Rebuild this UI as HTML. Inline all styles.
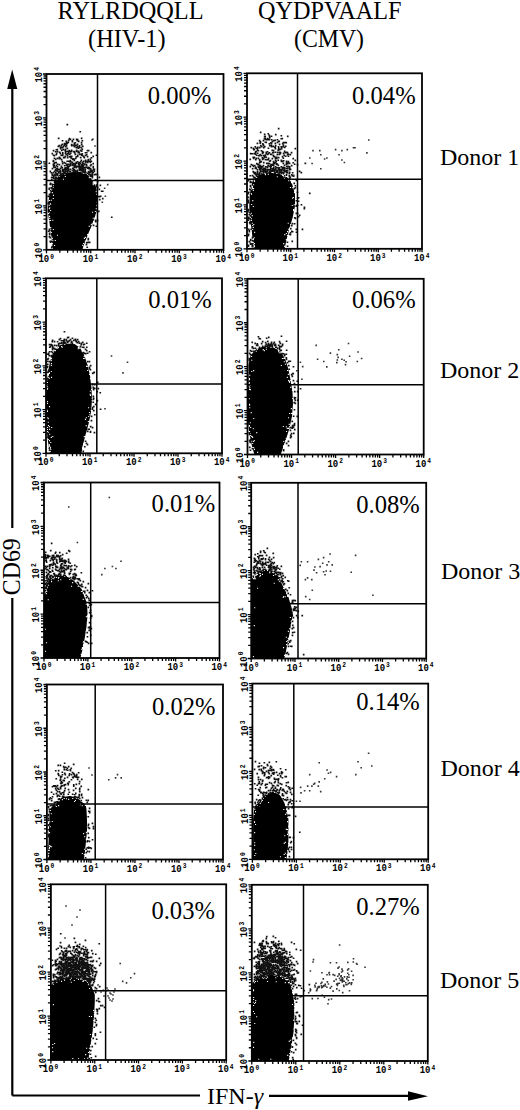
<!DOCTYPE html>
<html><head><meta charset="utf-8"><title>Flow cytometry</title><style>
html,body{margin:0;padding:0;background:#fff;}
svg{display:block}
.big{font-family:"Liberation Serif",serif;font-size:24px;fill:#000}
.hd{font-family:"Liberation Serif",serif;font-size:25px;fill:#000}
.pc{font-family:"Liberation Serif",serif;font-size:24.6px;fill:#000}
.tl{font-family:"Liberation Mono",monospace;font-weight:bold;font-size:11.5px;fill:#000}
.sup{font-size:8px}
</style></head>
<body><svg width="520" height="1110" viewBox="0 0 520 1110"><rect width="520" height="1110" fill="#fff"/><clipPath id="c1L"><rect x="46.5" y="74.0" width="177.00" height="175.80"/></clipPath><g clip-path="url(#c1L)"><path fill="#000" d="M54.1 181.4L51.8 187.1L51.7 187.3L48.8 198.8L48.8 199.1L47.7 210.7L47.7 211.0L49.4 222.5L51.0 234.0L52.5 245.6L52.5 245.7L53.5 251.3L53.7 251.8L54.0 252.2L54.5 252.4L55.0 252.5L80.5 252.5L81.1 252.4L81.6 252.0L81.9 251.4L83.5 245.9L87.9 234.4L92.9 222.9L92.9 222.8L96.7 211.3L96.8 211.0L98.0 199.4L98.0 199.0L96.3 187.5L96.1 187.0L91.8 179.3L91.6 178.9L87.1 174.4L86.5 174.1L80.5 172.1L80.0 172.0L73.0 172.0L72.8 172.0L65.8 173.0L65.4 173.1L59.4 175.6L58.9 176.0L54.4 181.0Z"/><path fill="#fff" d="M82.8 172.9h1.1v1.1h-1.1zM64.2 173.8h1.1v1.1h-1.1zM59.0 175.8h1.1v1.1h-1.1zM64.8 175.9h1.1v1.1h-1.1zM89.0 176.0h1.1v1.1h-1.1zM88.8 177.1h1.1v1.1h-1.1zM56.2 178.9h1.1v1.1h-1.1zM62.9 178.8h1.1v1.1h-1.1zM91.7 178.8h1.1v1.1h-1.1zM54.8 179.8h1.1v1.1h-1.1zM92.8 181.2h1.1v1.1h-1.1zM92.7 182.2h1.1v1.1h-1.1zM53.1 182.9h1.1v1.1h-1.1zM92.7 183.2h1.1v1.1h-1.1zM94.0 183.0h1.1v1.1h-1.1zM92.7 184.1h1.1v1.1h-1.1zM52.9 185.0h1.1v1.1h-1.1zM52.7 186.7h1.1v1.1h-1.1zM96.2 187.0h1.1v1.1h-1.1zM51.2 188.7h1.1v1.1h-1.1zM50.7 190.0h1.1v1.1h-1.1zM95.7 191.1h1.1v1.1h-1.1zM96.9 191.0h1.1v1.1h-1.1zM51.8 192.1h1.1v1.1h-1.1zM96.7 193.2h1.1v1.1h-1.1zM96.2 193.9h1.1v1.1h-1.1zM97.1 193.7h1.1v1.1h-1.1zM52.9 194.8h1.1v1.1h-1.1zM52.8 197.9h1.1v1.1h-1.1zM97.8 198.1h1.1v1.1h-1.1zM98.0 199.2h1.1v1.1h-1.1zM49.0 200.0h1.1v1.1h-1.1zM50.8 199.7h1.1v1.1h-1.1zM96.7 201.8h1.1v1.1h-1.1zM49.9 203.2h1.1v1.1h-1.1zM50.1 203.7h1.1v1.1h-1.1zM97.8 204.0h1.1v1.1h-1.1zM48.8 204.7h1.1v1.1h-1.1zM96.2 204.7h1.1v1.1h-1.1zM96.7 206.2h1.1v1.1h-1.1zM49.2 207.2h1.1v1.1h-1.1zM48.8 208.1h1.1v1.1h-1.1zM95.8 208.1h1.1v1.1h-1.1zM97.0 209.2h1.1v1.1h-1.1zM50.1 210.0h1.1v1.1h-1.1zM97.1 209.9h1.1v1.1h-1.1zM94.8 210.9h1.1v1.1h-1.1zM48.7 212.2h1.1v1.1h-1.1zM92.0 211.7h1.1v1.1h-1.1zM47.9 213.0h1.1v1.1h-1.1zM95.8 213.9h1.1v1.1h-1.1zM49.0 215.8h1.1v1.1h-1.1zM49.2 217.8h1.1v1.1h-1.1zM92.7 217.7h1.1v1.1h-1.1zM94.2 217.7h1.1v1.1h-1.1zM48.7 220.1h1.1v1.1h-1.1zM50.0 219.9h1.1v1.1h-1.1zM52.2 219.7h1.1v1.1h-1.1zM93.1 220.9h1.1v1.1h-1.1zM93.2 221.7h1.1v1.1h-1.1zM91.7 222.7h1.1v1.1h-1.1zM90.8 224.1h1.1v1.1h-1.1zM88.7 225.8h1.1v1.1h-1.1zM50.1 226.9h1.1v1.1h-1.1zM91.1 227.1h1.1v1.1h-1.1zM50.1 228.8h1.1v1.1h-1.1zM52.8 229.0h1.1v1.1h-1.1zM90.2 229.1h1.1v1.1h-1.1zM50.0 231.2h1.1v1.1h-1.1zM50.8 232.0h1.1v1.1h-1.1zM87.0 234.1h1.1v1.1h-1.1zM56.9 234.7h1.1v1.1h-1.1zM51.2 236.7h1.1v1.1h-1.1zM84.8 236.8h1.1v1.1h-1.1zM51.8 238.1h1.1v1.1h-1.1zM83.8 237.8h1.1v1.1h-1.1zM87.2 237.9h1.1v1.1h-1.1zM86.1 239.1h1.1v1.1h-1.1zM52.2 240.1h1.1v1.1h-1.1zM54.8 239.9h1.1v1.1h-1.1zM85.9 239.9h1.1v1.1h-1.1zM84.7 240.7h1.1v1.1h-1.1zM51.8 242.9h1.1v1.1h-1.1zM83.1 242.9h1.1v1.1h-1.1zM84.9 244.0h1.1v1.1h-1.1zM54.0 244.9h1.1v1.1h-1.1zM82.2 244.8h1.1v1.1h-1.1zM83.8 246.2h1.1v1.1h-1.1z"/><path fill="#111" d="M66.5 123.7h1.7v1.7h-1.7zM79.4 130.9h1.7v1.7h-1.7zM57.8 137.5h1.7v1.7h-1.7zM68.6 137.8h1.7v1.7h-1.7zM80.8 137.5h1.7v1.7h-1.7zM69.6 138.5h1.7v1.7h-1.7zM72.6 138.5h1.7v1.7h-1.7zM75.8 138.6h1.7v1.7h-1.7zM76.8 138.8h1.7v1.7h-1.7zM91.9 138.4h1.7v1.7h-1.7zM61.7 139.9h1.7v1.7h-1.7zM67.8 139.6h1.7v1.7h-1.7zM71.5 139.9h1.7v1.7h-1.7zM76.5 139.9h1.7v1.7h-1.7zM81.5 139.9h1.7v1.7h-1.7zM65.4 140.4h1.7v1.7h-1.7zM71.5 140.7h1.7v1.7h-1.7zM77.9 140.6h1.7v1.7h-1.7zM65.7 141.5h1.7v1.7h-1.7zM67.5 141.6h1.7v1.7h-1.7zM74.5 141.9h1.7v1.7h-1.7zM80.7 141.7h1.7v1.7h-1.7zM63.7 142.8h1.7v1.7h-1.7zM65.5 142.8h1.7v1.7h-1.7zM66.4 142.6h1.7v1.7h-1.7zM73.5 142.6h1.7v1.7h-1.7zM61.5 143.4h1.7v1.7h-1.7zM63.9 143.4h1.7v1.7h-1.7zM64.9 143.5h1.7v1.7h-1.7zM70.8 143.8h1.7v1.7h-1.7zM73.8 143.8h1.7v1.7h-1.7zM76.7 143.4h1.7v1.7h-1.7zM80.8 143.8h1.7v1.7h-1.7zM58.5 144.7h1.7v1.7h-1.7zM60.6 144.5h1.7v1.7h-1.7zM63.5 144.5h1.7v1.7h-1.7zM65.7 144.8h1.7v1.7h-1.7zM70.8 144.7h1.7v1.7h-1.7zM72.6 144.6h1.7v1.7h-1.7zM74.5 144.7h1.7v1.7h-1.7zM75.9 144.4h1.7v1.7h-1.7zM78.7 144.9h1.7v1.7h-1.7zM57.5 145.6h1.7v1.7h-1.7zM62.6 145.6h1.7v1.7h-1.7zM64.9 145.7h1.7v1.7h-1.7zM73.6 145.9h1.7v1.7h-1.7zM76.7 145.8h1.7v1.7h-1.7zM78.6 145.6h1.7v1.7h-1.7zM81.9 145.5h1.7v1.7h-1.7zM59.6 146.5h1.7v1.7h-1.7zM60.5 146.6h1.7v1.7h-1.7zM61.9 146.7h1.7v1.7h-1.7zM75.5 146.8h1.7v1.7h-1.7zM76.5 146.7h1.7v1.7h-1.7zM78.6 146.4h1.7v1.7h-1.7zM80.5 146.7h1.7v1.7h-1.7zM59.8 147.7h1.7v1.7h-1.7zM66.5 147.6h1.7v1.7h-1.7zM77.8 147.4h1.7v1.7h-1.7zM55.5 148.9h1.7v1.7h-1.7zM56.5 148.8h1.7v1.7h-1.7zM62.6 148.8h1.7v1.7h-1.7zM64.7 148.4h1.7v1.7h-1.7zM81.5 148.5h1.7v1.7h-1.7zM52.7 149.8h1.7v1.7h-1.7zM60.9 149.5h1.7v1.7h-1.7zM64.4 149.7h1.7v1.7h-1.7zM68.4 149.7h1.7v1.7h-1.7zM70.8 149.6h1.7v1.7h-1.7zM75.8 149.5h1.7v1.7h-1.7zM79.7 149.6h1.7v1.7h-1.7zM86.6 149.8h1.7v1.7h-1.7zM87.8 149.7h1.7v1.7h-1.7zM54.8 150.9h1.7v1.7h-1.7zM56.7 150.7h1.7v1.7h-1.7zM64.8 150.8h1.7v1.7h-1.7zM66.5 150.6h1.7v1.7h-1.7zM67.9 150.7h1.7v1.7h-1.7zM69.4 150.6h1.7v1.7h-1.7zM70.5 150.5h1.7v1.7h-1.7zM72.7 150.7h1.7v1.7h-1.7zM73.5 150.8h1.7v1.7h-1.7zM75.6 150.5h1.7v1.7h-1.7zM77.4 150.5h1.7v1.7h-1.7zM80.8 150.4h1.7v1.7h-1.7zM58.8 151.4h1.7v1.7h-1.7zM61.9 151.9h1.7v1.7h-1.7zM67.7 151.7h1.7v1.7h-1.7zM73.8 151.7h1.7v1.7h-1.7zM77.4 151.8h1.7v1.7h-1.7zM78.4 151.6h1.7v1.7h-1.7zM84.6 151.9h1.7v1.7h-1.7zM85.9 151.9h1.7v1.7h-1.7zM90.4 151.8h1.7v1.7h-1.7zM51.5 152.8h1.7v1.7h-1.7zM55.8 152.7h1.7v1.7h-1.7zM59.5 152.6h1.7v1.7h-1.7zM61.9 152.9h1.7v1.7h-1.7zM64.6 152.6h1.7v1.7h-1.7zM66.9 152.9h1.7v1.7h-1.7zM67.6 152.9h1.7v1.7h-1.7zM69.8 152.6h1.7v1.7h-1.7zM81.4 152.9h1.7v1.7h-1.7zM55.4 153.9h1.7v1.7h-1.7zM65.5 153.6h1.7v1.7h-1.7zM68.8 153.4h1.7v1.7h-1.7zM74.5 153.5h1.7v1.7h-1.7zM78.8 153.5h1.7v1.7h-1.7zM79.9 153.4h1.7v1.7h-1.7zM85.8 153.9h1.7v1.7h-1.7zM52.7 154.4h1.7v1.7h-1.7zM53.5 154.7h1.7v1.7h-1.7zM60.4 154.5h1.7v1.7h-1.7zM61.9 154.5h1.7v1.7h-1.7zM66.7 154.7h1.7v1.7h-1.7zM76.8 154.4h1.7v1.7h-1.7zM80.8 154.4h1.7v1.7h-1.7zM81.8 154.7h1.7v1.7h-1.7zM84.7 154.5h1.7v1.7h-1.7zM95.6 154.4h1.7v1.7h-1.7zM64.4 155.5h1.7v1.7h-1.7zM68.7 155.9h1.7v1.7h-1.7zM69.5 155.5h1.7v1.7h-1.7zM70.9 155.6h1.7v1.7h-1.7zM75.5 155.9h1.7v1.7h-1.7zM76.9 155.6h1.7v1.7h-1.7zM82.9 155.7h1.7v1.7h-1.7zM86.7 155.8h1.7v1.7h-1.7zM92.4 155.5h1.7v1.7h-1.7zM58.5 156.4h1.7v1.7h-1.7zM62.8 156.7h1.7v1.7h-1.7zM63.9 156.8h1.7v1.7h-1.7zM66.7 156.7h1.7v1.7h-1.7zM69.8 156.5h1.7v1.7h-1.7zM79.8 156.8h1.7v1.7h-1.7zM83.5 156.8h1.7v1.7h-1.7zM90.6 156.9h1.7v1.7h-1.7zM53.6 157.4h1.7v1.7h-1.7zM56.6 157.5h1.7v1.7h-1.7zM58.5 157.9h1.7v1.7h-1.7zM59.5 157.6h1.7v1.7h-1.7zM70.6 157.4h1.7v1.7h-1.7zM72.4 157.9h1.7v1.7h-1.7zM74.9 157.5h1.7v1.7h-1.7zM54.8 158.6h1.7v1.7h-1.7zM60.7 158.8h1.7v1.7h-1.7zM71.8 158.5h1.7v1.7h-1.7zM72.7 158.5h1.7v1.7h-1.7zM73.4 158.4h1.7v1.7h-1.7zM87.4 158.8h1.7v1.7h-1.7zM89.5 158.6h1.7v1.7h-1.7zM52.6 159.8h1.7v1.7h-1.7zM69.5 159.7h1.7v1.7h-1.7zM73.5 159.6h1.7v1.7h-1.7zM80.5 159.5h1.7v1.7h-1.7zM84.8 159.6h1.7v1.7h-1.7zM52.4 160.5h1.7v1.7h-1.7zM61.5 160.8h1.7v1.7h-1.7zM66.4 160.4h1.7v1.7h-1.7zM67.7 160.4h1.7v1.7h-1.7zM68.8 160.9h1.7v1.7h-1.7zM69.9 160.9h1.7v1.7h-1.7zM76.9 160.9h1.7v1.7h-1.7zM79.7 160.9h1.7v1.7h-1.7zM82.9 160.4h1.7v1.7h-1.7zM84.9 160.7h1.7v1.7h-1.7zM86.7 160.6h1.7v1.7h-1.7zM87.8 160.5h1.7v1.7h-1.7zM89.4 160.4h1.7v1.7h-1.7zM90.5 160.4h1.7v1.7h-1.7zM53.9 161.8h1.7v1.7h-1.7zM55.4 161.8h1.7v1.7h-1.7zM63.5 161.8h1.7v1.7h-1.7zM71.5 161.5h1.7v1.7h-1.7zM75.4 161.4h1.7v1.7h-1.7zM78.4 161.9h1.7v1.7h-1.7zM81.7 161.4h1.7v1.7h-1.7zM84.9 161.5h1.7v1.7h-1.7zM86.9 161.6h1.7v1.7h-1.7zM89.6 161.5h1.7v1.7h-1.7zM48.5 162.4h1.7v1.7h-1.7zM53.4 162.5h1.7v1.7h-1.7zM61.8 162.7h1.7v1.7h-1.7zM64.7 162.6h1.7v1.7h-1.7zM69.7 162.7h1.7v1.7h-1.7zM72.6 162.7h1.7v1.7h-1.7zM73.9 162.8h1.7v1.7h-1.7zM74.5 162.7h1.7v1.7h-1.7zM75.6 162.4h1.7v1.7h-1.7zM77.6 162.7h1.7v1.7h-1.7zM79.4 162.7h1.7v1.7h-1.7zM81.8 162.4h1.7v1.7h-1.7zM82.8 162.4h1.7v1.7h-1.7zM92.4 162.7h1.7v1.7h-1.7zM52.5 163.6h1.7v1.7h-1.7zM56.7 163.5h1.7v1.7h-1.7zM58.6 163.8h1.7v1.7h-1.7zM66.4 163.5h1.7v1.7h-1.7zM67.8 163.5h1.7v1.7h-1.7zM71.5 163.6h1.7v1.7h-1.7zM72.6 163.8h1.7v1.7h-1.7zM74.6 163.5h1.7v1.7h-1.7zM77.9 163.9h1.7v1.7h-1.7zM80.8 163.7h1.7v1.7h-1.7zM81.7 163.7h1.7v1.7h-1.7zM83.7 163.6h1.7v1.7h-1.7zM85.5 163.7h1.7v1.7h-1.7zM90.4 163.9h1.7v1.7h-1.7zM52.7 164.7h1.7v1.7h-1.7zM53.4 164.6h1.7v1.7h-1.7zM55.6 164.8h1.7v1.7h-1.7zM63.8 164.9h1.7v1.7h-1.7zM65.7 164.4h1.7v1.7h-1.7zM66.6 164.4h1.7v1.7h-1.7zM69.5 164.5h1.7v1.7h-1.7zM71.5 164.5h1.7v1.7h-1.7zM73.7 164.8h1.7v1.7h-1.7zM74.7 164.8h1.7v1.7h-1.7zM78.5 164.6h1.7v1.7h-1.7zM80.9 164.6h1.7v1.7h-1.7zM82.8 164.4h1.7v1.7h-1.7zM85.8 164.6h1.7v1.7h-1.7zM89.7 164.7h1.7v1.7h-1.7zM52.9 165.8h1.7v1.7h-1.7zM56.7 165.9h1.7v1.7h-1.7zM60.6 165.6h1.7v1.7h-1.7zM66.7 165.5h1.7v1.7h-1.7zM67.4 165.7h1.7v1.7h-1.7zM68.7 165.4h1.7v1.7h-1.7zM73.4 165.5h1.7v1.7h-1.7zM74.4 165.7h1.7v1.7h-1.7zM75.7 165.8h1.7v1.7h-1.7zM76.6 165.6h1.7v1.7h-1.7zM77.4 165.9h1.7v1.7h-1.7zM78.7 165.6h1.7v1.7h-1.7zM79.7 165.5h1.7v1.7h-1.7zM80.8 165.5h1.7v1.7h-1.7zM81.9 165.9h1.7v1.7h-1.7zM82.4 165.5h1.7v1.7h-1.7zM92.4 165.8h1.7v1.7h-1.7zM53.4 166.5h1.7v1.7h-1.7zM54.4 166.6h1.7v1.7h-1.7zM61.4 166.9h1.7v1.7h-1.7zM64.7 166.9h1.7v1.7h-1.7zM65.8 166.8h1.7v1.7h-1.7zM66.8 166.5h1.7v1.7h-1.7zM67.6 166.8h1.7v1.7h-1.7zM73.4 166.4h1.7v1.7h-1.7zM75.4 166.8h1.7v1.7h-1.7zM78.4 166.6h1.7v1.7h-1.7zM79.5 166.9h1.7v1.7h-1.7zM80.8 166.9h1.7v1.7h-1.7zM81.6 166.9h1.7v1.7h-1.7zM82.4 166.5h1.7v1.7h-1.7zM83.8 166.8h1.7v1.7h-1.7zM84.6 166.4h1.7v1.7h-1.7zM85.9 166.5h1.7v1.7h-1.7zM87.7 166.4h1.7v1.7h-1.7zM88.4 166.9h1.7v1.7h-1.7zM92.4 166.7h1.7v1.7h-1.7zM51.6 167.7h1.7v1.7h-1.7zM55.9 167.7h1.7v1.7h-1.7zM56.7 167.9h1.7v1.7h-1.7zM59.6 167.4h1.7v1.7h-1.7zM63.9 167.4h1.7v1.7h-1.7zM64.9 167.6h1.7v1.7h-1.7zM65.9 167.7h1.7v1.7h-1.7zM67.6 167.8h1.7v1.7h-1.7zM71.9 167.4h1.7v1.7h-1.7zM72.7 167.6h1.7v1.7h-1.7zM78.4 167.8h1.7v1.7h-1.7zM79.8 167.7h1.7v1.7h-1.7zM81.7 167.5h1.7v1.7h-1.7zM82.5 167.6h1.7v1.7h-1.7zM86.9 167.4h1.7v1.7h-1.7zM87.8 167.9h1.7v1.7h-1.7zM88.5 167.4h1.7v1.7h-1.7zM89.8 167.7h1.7v1.7h-1.7zM54.8 168.8h1.7v1.7h-1.7zM56.9 168.8h1.7v1.7h-1.7zM57.7 168.7h1.7v1.7h-1.7zM58.6 168.9h1.7v1.7h-1.7zM61.7 168.7h1.7v1.7h-1.7zM62.6 168.7h1.7v1.7h-1.7zM63.9 168.9h1.7v1.7h-1.7zM64.7 168.7h1.7v1.7h-1.7zM66.4 168.6h1.7v1.7h-1.7zM67.7 168.7h1.7v1.7h-1.7zM69.6 168.5h1.7v1.7h-1.7zM72.8 168.5h1.7v1.7h-1.7zM73.4 168.9h1.7v1.7h-1.7zM78.7 168.9h1.7v1.7h-1.7zM79.8 168.7h1.7v1.7h-1.7zM80.8 168.4h1.7v1.7h-1.7zM82.6 168.7h1.7v1.7h-1.7zM84.5 168.4h1.7v1.7h-1.7zM92.8 168.7h1.7v1.7h-1.7zM93.6 168.5h1.7v1.7h-1.7zM54.7 169.4h1.7v1.7h-1.7zM55.8 169.8h1.7v1.7h-1.7zM59.5 169.4h1.7v1.7h-1.7zM61.8 169.9h1.7v1.7h-1.7zM62.4 169.8h1.7v1.7h-1.7zM64.6 169.9h1.7v1.7h-1.7zM66.9 169.5h1.7v1.7h-1.7zM67.8 169.7h1.7v1.7h-1.7zM71.6 169.4h1.7v1.7h-1.7zM73.5 169.7h1.7v1.7h-1.7zM74.6 169.7h1.7v1.7h-1.7zM76.6 169.6h1.7v1.7h-1.7zM78.8 169.4h1.7v1.7h-1.7zM79.5 169.8h1.7v1.7h-1.7zM80.9 169.9h1.7v1.7h-1.7zM81.9 169.9h1.7v1.7h-1.7zM82.4 169.4h1.7v1.7h-1.7zM84.4 169.4h1.7v1.7h-1.7zM89.5 169.6h1.7v1.7h-1.7zM90.4 169.6h1.7v1.7h-1.7zM91.4 169.8h1.7v1.7h-1.7zM49.5 170.6h1.7v1.7h-1.7zM53.8 170.5h1.7v1.7h-1.7zM56.7 170.4h1.7v1.7h-1.7zM58.5 170.9h1.7v1.7h-1.7zM59.7 170.9h1.7v1.7h-1.7zM61.8 170.4h1.7v1.7h-1.7zM62.7 170.5h1.7v1.7h-1.7zM64.9 170.6h1.7v1.7h-1.7zM65.8 170.6h1.7v1.7h-1.7zM66.7 170.7h1.7v1.7h-1.7zM68.8 170.7h1.7v1.7h-1.7zM69.6 170.7h1.7v1.7h-1.7zM72.5 170.7h1.7v1.7h-1.7zM73.9 170.9h1.7v1.7h-1.7zM75.6 170.8h1.7v1.7h-1.7zM76.7 170.4h1.7v1.7h-1.7zM81.6 170.8h1.7v1.7h-1.7zM82.7 170.8h1.7v1.7h-1.7zM84.5 170.7h1.7v1.7h-1.7zM87.7 170.8h1.7v1.7h-1.7zM89.8 170.4h1.7v1.7h-1.7zM90.6 170.8h1.7v1.7h-1.7zM93.5 170.4h1.7v1.7h-1.7zM50.4 171.9h1.7v1.7h-1.7zM52.5 171.8h1.7v1.7h-1.7zM54.7 171.8h1.7v1.7h-1.7zM57.9 171.9h1.7v1.7h-1.7zM62.8 171.5h1.7v1.7h-1.7zM63.6 171.4h1.7v1.7h-1.7zM64.4 171.5h1.7v1.7h-1.7zM66.7 171.6h1.7v1.7h-1.7zM82.5 171.6h1.7v1.7h-1.7zM83.5 171.4h1.7v1.7h-1.7zM84.9 171.7h1.7v1.7h-1.7zM87.9 171.8h1.7v1.7h-1.7zM88.8 171.6h1.7v1.7h-1.7zM89.6 171.4h1.7v1.7h-1.7zM91.8 171.7h1.7v1.7h-1.7zM92.6 171.5h1.7v1.7h-1.7zM55.4 172.5h1.7v1.7h-1.7zM56.9 172.8h1.7v1.7h-1.7zM59.7 172.5h1.7v1.7h-1.7zM61.6 172.8h1.7v1.7h-1.7zM62.9 172.6h1.7v1.7h-1.7zM63.6 172.8h1.7v1.7h-1.7zM86.8 172.4h1.7v1.7h-1.7zM91.4 172.9h1.7v1.7h-1.7zM51.4 173.6h1.7v1.7h-1.7zM53.9 173.8h1.7v1.7h-1.7zM55.9 173.8h1.7v1.7h-1.7zM59.7 173.8h1.7v1.7h-1.7zM60.6 173.6h1.7v1.7h-1.7zM87.9 173.9h1.7v1.7h-1.7zM88.7 173.4h1.7v1.7h-1.7zM89.5 173.7h1.7v1.7h-1.7zM91.6 173.7h1.7v1.7h-1.7zM93.7 173.9h1.7v1.7h-1.7zM94.8 173.6h1.7v1.7h-1.7zM96.6 173.8h1.7v1.7h-1.7zM51.4 174.5h1.7v1.7h-1.7zM52.5 174.4h1.7v1.7h-1.7zM54.4 174.5h1.7v1.7h-1.7zM56.4 174.5h1.7v1.7h-1.7zM58.4 174.7h1.7v1.7h-1.7zM59.9 174.9h1.7v1.7h-1.7zM90.6 174.5h1.7v1.7h-1.7zM52.9 175.8h1.7v1.7h-1.7zM89.5 175.4h1.7v1.7h-1.7zM90.5 175.4h1.7v1.7h-1.7zM91.6 175.5h1.7v1.7h-1.7zM50.8 176.8h1.7v1.7h-1.7zM51.8 176.8h1.7v1.7h-1.7zM54.9 176.4h1.7v1.7h-1.7zM55.4 176.7h1.7v1.7h-1.7zM91.5 176.9h1.7v1.7h-1.7zM98.5 176.6h1.7v1.7h-1.7zM52.9 177.5h1.7v1.7h-1.7zM54.7 177.5h1.7v1.7h-1.7zM55.7 177.6h1.7v1.7h-1.7zM50.9 178.9h1.7v1.7h-1.7zM54.9 178.6h1.7v1.7h-1.7zM94.6 178.9h1.7v1.7h-1.7zM53.7 179.6h1.7v1.7h-1.7zM95.9 179.4h1.7v1.7h-1.7zM96.8 180.9h1.7v1.7h-1.7zM49.7 182.6h1.7v1.7h-1.7zM49.4 183.6h1.7v1.7h-1.7zM51.4 183.4h1.7v1.7h-1.7zM96.4 183.8h1.7v1.7h-1.7zM51.7 184.9h1.7v1.7h-1.7zM95.5 184.5h1.7v1.7h-1.7zM99.5 184.6h1.7v1.7h-1.7zM95.8 185.9h1.7v1.7h-1.7zM50.4 186.9h1.7v1.7h-1.7zM96.8 186.5h1.7v1.7h-1.7zM48.5 187.6h1.7v1.7h-1.7zM50.9 187.5h1.7v1.7h-1.7zM48.4 188.4h1.7v1.7h-1.7zM98.5 188.5h1.7v1.7h-1.7zM49.8 189.9h1.7v1.7h-1.7zM100.8 190.4h1.7v1.7h-1.7zM101.9 190.4h1.7v1.7h-1.7zM48.7 193.6h1.7v1.7h-1.7zM47.4 195.5h1.7v1.7h-1.7zM48.7 195.5h1.7v1.7h-1.7zM97.6 195.8h1.7v1.7h-1.7zM98.9 195.7h1.7v1.7h-1.7zM99.9 195.4h1.7v1.7h-1.7zM101.9 197.7h1.7v1.7h-1.7zM98.9 198.7h1.7v1.7h-1.7zM47.7 201.7h1.7v1.7h-1.7zM47.4 202.7h1.7v1.7h-1.7zM97.9 210.6h1.7v1.7h-1.7zM110.9 216.4h1.7v1.7h-1.7zM94.7 219.5h1.7v1.7h-1.7zM96.7 219.5h1.7v1.7h-1.7zM94.9 220.7h1.7v1.7h-1.7zM92.7 224.5h1.7v1.7h-1.7zM95.5 225.4h1.7v1.7h-1.7zM48.6 228.4h1.7v1.7h-1.7zM48.7 229.7h1.7v1.7h-1.7zM47.8 230.4h1.7v1.7h-1.7zM48.7 232.5h1.7v1.7h-1.7zM48.9 233.5h1.7v1.7h-1.7zM48.6 235.7h1.7v1.7h-1.7zM49.4 236.8h1.7v1.7h-1.7zM87.5 237.8h1.7v1.7h-1.7zM87.4 238.7h1.7v1.7h-1.7zM49.4 240.5h1.7v1.7h-1.7zM50.9 240.5h1.7v1.7h-1.7zM49.9 241.4h1.7v1.7h-1.7zM85.9 241.8h1.7v1.7h-1.7zM87.5 241.5h1.7v1.7h-1.7zM88.8 241.5h1.7v1.7h-1.7zM85.6 243.8h1.7v1.7h-1.7zM51.4 245.7h1.7v1.7h-1.7zM50.9 246.7h1.7v1.7h-1.7zM86.4 246.4h1.7v1.7h-1.7z"/><path fill="#333" d="M106.9 183.8h1.6v1.6h-1.6zM103.8 187.4h1.6v1.6h-1.6zM104.6 195.4h1.6v1.6h-1.6zM101.5 201.5h1.6v1.6h-1.6zM91.2 139.2h1.6v1.6h-1.6zM94.2 145.2h1.6v1.6h-1.6z"/></g><clipPath id="c1R"><rect x="247.0" y="73.3" width="175.00" height="175.50"/></clipPath><g clip-path="url(#c1R)"><path fill="#000" d="M252.2 182.4L249.8 193.9L249.8 194.1L249.3 205.7L249.3 205.9L249.8 217.4L249.8 217.5L251.6 229.0L252.7 240.5L252.7 240.6L253.9 249.2L254.1 249.7L254.4 250.1L254.9 250.4L255.4 250.5L283.0 250.5L283.7 250.3L284.2 249.9L284.5 249.3L286.3 240.7L289.1 229.2L292.6 217.7L292.7 217.6L295.0 206.1L295.0 205.8L295.0 194.2L294.9 193.8L292.0 183.6L291.9 183.2L289.3 179.2L289.0 178.9L285.0 175.4L284.6 175.1L278.6 172.6L278.1 172.5L270.1 172.0L269.8 172.0L262.8 173.0L262.3 173.2L256.3 176.2L255.7 176.7L252.4 181.9Z"/><path fill="#fff" d="M271.1 171.7h1.1v1.1h-1.1zM271.9 171.9h1.1v1.1h-1.1zM273.0 172.1h1.1v1.1h-1.1zM261.7 172.7h1.1v1.1h-1.1zM263.8 172.7h1.1v1.1h-1.1zM265.0 172.7h1.1v1.1h-1.1zM275.9 172.9h1.1v1.1h-1.1zM277.1 173.0h1.1v1.1h-1.1zM279.8 173.2h1.1v1.1h-1.1zM260.2 173.7h1.1v1.1h-1.1zM264.9 174.1h1.1v1.1h-1.1zM267.8 173.7h1.1v1.1h-1.1zM280.8 173.7h1.1v1.1h-1.1zM281.8 173.8h1.1v1.1h-1.1zM282.1 175.0h1.1v1.1h-1.1zM282.8 174.9h1.1v1.1h-1.1zM276.8 176.2h1.1v1.1h-1.1zM283.2 176.2h1.1v1.1h-1.1zM284.8 176.2h1.1v1.1h-1.1zM286.0 176.0h1.1v1.1h-1.1zM256.1 177.0h1.1v1.1h-1.1zM283.9 178.1h1.1v1.1h-1.1zM254.0 178.9h1.1v1.1h-1.1zM261.0 178.9h1.1v1.1h-1.1zM253.7 179.9h1.1v1.1h-1.1zM288.2 180.2h1.1v1.1h-1.1zM254.0 180.8h1.1v1.1h-1.1zM291.0 182.1h1.1v1.1h-1.1zM292.0 182.9h1.1v1.1h-1.1zM253.1 184.2h1.1v1.1h-1.1zM251.2 185.2h1.1v1.1h-1.1zM251.1 186.1h1.1v1.1h-1.1zM251.9 186.0h1.1v1.1h-1.1zM251.8 187.1h1.1v1.1h-1.1zM289.9 186.9h1.1v1.1h-1.1zM291.9 187.2h1.1v1.1h-1.1zM293.2 186.9h1.1v1.1h-1.1zM251.8 188.0h1.1v1.1h-1.1zM253.0 188.1h1.1v1.1h-1.1zM251.1 188.7h1.1v1.1h-1.1zM252.8 189.9h1.1v1.1h-1.1zM293.9 191.8h1.1v1.1h-1.1zM250.7 192.9h1.1v1.1h-1.1zM251.0 193.7h1.1v1.1h-1.1zM292.8 197.0h1.1v1.1h-1.1zM292.0 197.7h1.1v1.1h-1.1zM295.1 198.7h1.1v1.1h-1.1zM252.2 200.1h1.1v1.1h-1.1zM248.7 200.9h1.1v1.1h-1.1zM295.2 203.1h1.1v1.1h-1.1zM251.1 203.9h1.1v1.1h-1.1zM293.7 204.2h1.1v1.1h-1.1zM295.1 203.7h1.1v1.1h-1.1zM291.7 204.9h1.1v1.1h-1.1zM252.8 205.9h1.1v1.1h-1.1zM293.0 209.1h1.1v1.1h-1.1zM293.0 210.1h1.1v1.1h-1.1zM248.7 210.9h1.1v1.1h-1.1zM294.0 211.1h1.1v1.1h-1.1zM294.1 211.7h1.1v1.1h-1.1zM250.8 212.7h1.1v1.1h-1.1zM249.7 213.9h1.1v1.1h-1.1zM294.0 213.9h1.1v1.1h-1.1zM251.7 215.1h1.1v1.1h-1.1zM293.2 215.9h1.1v1.1h-1.1zM249.8 216.8h1.1v1.1h-1.1zM250.9 218.2h1.1v1.1h-1.1zM250.0 220.2h1.1v1.1h-1.1zM251.0 219.9h1.1v1.1h-1.1zM251.8 222.7h1.1v1.1h-1.1zM287.7 222.7h1.1v1.1h-1.1zM253.2 223.9h1.1v1.1h-1.1zM290.2 224.0h1.1v1.1h-1.1zM252.2 224.9h1.1v1.1h-1.1zM252.7 226.8h1.1v1.1h-1.1zM289.8 227.2h1.1v1.1h-1.1zM289.0 227.8h1.1v1.1h-1.1zM252.1 228.9h1.1v1.1h-1.1zM287.9 228.7h1.1v1.1h-1.1zM287.0 231.1h1.1v1.1h-1.1zM254.1 231.8h1.1v1.1h-1.1zM285.8 232.9h1.1v1.1h-1.1zM284.2 234.1h1.1v1.1h-1.1zM286.9 235.0h1.1v1.1h-1.1zM253.7 237.2h1.1v1.1h-1.1zM252.8 237.9h1.1v1.1h-1.1zM287.0 237.7h1.1v1.1h-1.1zM252.8 239.1h1.1v1.1h-1.1zM285.8 239.1h1.1v1.1h-1.1zM252.7 241.8h1.1v1.1h-1.1zM253.9 243.1h1.1v1.1h-1.1zM283.2 243.1h1.1v1.1h-1.1zM252.8 243.8h1.1v1.1h-1.1zM253.7 245.1h1.1v1.1h-1.1zM253.9 246.1h1.1v1.1h-1.1zM284.1 245.8h1.1v1.1h-1.1z"/><path fill="#111" d="M277.8 127.7h1.7v1.7h-1.7zM259.8 131.5h1.7v1.7h-1.7zM267.4 132.9h1.7v1.7h-1.7zM263.8 133.4h1.7v1.7h-1.7zM274.9 133.8h1.7v1.7h-1.7zM268.4 134.4h1.7v1.7h-1.7zM280.5 134.9h1.7v1.7h-1.7zM263.8 135.6h1.7v1.7h-1.7zM264.4 135.6h1.7v1.7h-1.7zM268.7 135.4h1.7v1.7h-1.7zM270.7 135.4h1.7v1.7h-1.7zM286.9 135.5h1.7v1.7h-1.7zM268.9 136.8h1.7v1.7h-1.7zM263.6 137.8h1.7v1.7h-1.7zM264.4 137.5h1.7v1.7h-1.7zM266.9 137.7h1.7v1.7h-1.7zM280.4 137.9h1.7v1.7h-1.7zM281.4 137.7h1.7v1.7h-1.7zM264.6 138.6h1.7v1.7h-1.7zM265.8 138.7h1.7v1.7h-1.7zM267.4 138.8h1.7v1.7h-1.7zM268.5 138.8h1.7v1.7h-1.7zM270.8 138.9h1.7v1.7h-1.7zM276.6 138.9h1.7v1.7h-1.7zM258.8 139.8h1.7v1.7h-1.7zM262.6 139.8h1.7v1.7h-1.7zM272.8 139.7h1.7v1.7h-1.7zM274.4 139.5h1.7v1.7h-1.7zM259.5 140.9h1.7v1.7h-1.7zM271.5 140.7h1.7v1.7h-1.7zM277.9 140.4h1.7v1.7h-1.7zM278.4 140.6h1.7v1.7h-1.7zM259.7 141.4h1.7v1.7h-1.7zM264.5 141.4h1.7v1.7h-1.7zM265.4 141.6h1.7v1.7h-1.7zM269.9 141.9h1.7v1.7h-1.7zM276.7 141.5h1.7v1.7h-1.7zM282.5 141.8h1.7v1.7h-1.7zM283.7 141.7h1.7v1.7h-1.7zM285.4 141.8h1.7v1.7h-1.7zM256.6 142.6h1.7v1.7h-1.7zM259.4 142.4h1.7v1.7h-1.7zM261.9 142.9h1.7v1.7h-1.7zM268.5 142.9h1.7v1.7h-1.7zM270.7 142.8h1.7v1.7h-1.7zM274.5 142.5h1.7v1.7h-1.7zM281.9 142.9h1.7v1.7h-1.7zM262.4 143.7h1.7v1.7h-1.7zM278.7 143.6h1.7v1.7h-1.7zM259.9 144.7h1.7v1.7h-1.7zM262.7 144.6h1.7v1.7h-1.7zM268.9 144.8h1.7v1.7h-1.7zM270.5 144.7h1.7v1.7h-1.7zM274.8 144.8h1.7v1.7h-1.7zM282.6 144.4h1.7v1.7h-1.7zM254.4 145.9h1.7v1.7h-1.7zM260.8 145.8h1.7v1.7h-1.7zM263.9 145.8h1.7v1.7h-1.7zM270.7 145.8h1.7v1.7h-1.7zM272.4 145.6h1.7v1.7h-1.7zM277.7 145.9h1.7v1.7h-1.7zM280.4 145.9h1.7v1.7h-1.7zM282.4 145.7h1.7v1.7h-1.7zM284.9 145.4h1.7v1.7h-1.7zM250.4 146.8h1.7v1.7h-1.7zM256.9 146.5h1.7v1.7h-1.7zM258.9 146.7h1.7v1.7h-1.7zM262.9 146.8h1.7v1.7h-1.7zM273.9 146.4h1.7v1.7h-1.7zM274.4 146.5h1.7v1.7h-1.7zM280.7 146.6h1.7v1.7h-1.7zM283.9 146.6h1.7v1.7h-1.7zM252.5 147.5h1.7v1.7h-1.7zM255.4 147.4h1.7v1.7h-1.7zM256.7 147.9h1.7v1.7h-1.7zM267.6 147.4h1.7v1.7h-1.7zM274.6 147.8h1.7v1.7h-1.7zM277.9 147.5h1.7v1.7h-1.7zM280.8 147.8h1.7v1.7h-1.7zM294.5 147.7h1.7v1.7h-1.7zM252.9 148.8h1.7v1.7h-1.7zM253.4 148.6h1.7v1.7h-1.7zM277.6 148.8h1.7v1.7h-1.7zM278.4 148.8h1.7v1.7h-1.7zM279.6 148.6h1.7v1.7h-1.7zM256.6 149.5h1.7v1.7h-1.7zM257.6 149.9h1.7v1.7h-1.7zM260.6 149.9h1.7v1.7h-1.7zM271.4 149.6h1.7v1.7h-1.7zM272.7 149.7h1.7v1.7h-1.7zM277.4 149.4h1.7v1.7h-1.7zM254.8 150.8h1.7v1.7h-1.7zM255.4 150.9h1.7v1.7h-1.7zM261.6 150.8h1.7v1.7h-1.7zM266.7 150.9h1.7v1.7h-1.7zM283.8 150.5h1.7v1.7h-1.7zM262.5 151.6h1.7v1.7h-1.7zM265.4 151.4h1.7v1.7h-1.7zM268.6 151.9h1.7v1.7h-1.7zM271.9 151.9h1.7v1.7h-1.7zM272.6 151.8h1.7v1.7h-1.7zM274.6 151.4h1.7v1.7h-1.7zM276.8 151.5h1.7v1.7h-1.7zM278.7 151.5h1.7v1.7h-1.7zM279.7 151.8h1.7v1.7h-1.7zM284.5 151.9h1.7v1.7h-1.7zM285.8 151.5h1.7v1.7h-1.7zM286.7 151.7h1.7v1.7h-1.7zM290.7 151.7h1.7v1.7h-1.7zM249.8 152.7h1.7v1.7h-1.7zM250.6 152.9h1.7v1.7h-1.7zM251.6 152.9h1.7v1.7h-1.7zM253.6 152.7h1.7v1.7h-1.7zM254.4 152.5h1.7v1.7h-1.7zM256.8 152.4h1.7v1.7h-1.7zM261.7 152.5h1.7v1.7h-1.7zM265.4 152.9h1.7v1.7h-1.7zM267.7 152.8h1.7v1.7h-1.7zM279.5 152.9h1.7v1.7h-1.7zM282.7 152.6h1.7v1.7h-1.7zM254.8 153.4h1.7v1.7h-1.7zM259.4 153.7h1.7v1.7h-1.7zM266.7 153.6h1.7v1.7h-1.7zM269.9 153.6h1.7v1.7h-1.7zM270.6 153.6h1.7v1.7h-1.7zM276.5 153.7h1.7v1.7h-1.7zM278.5 153.5h1.7v1.7h-1.7zM286.7 153.7h1.7v1.7h-1.7zM287.6 153.4h1.7v1.7h-1.7zM289.5 153.7h1.7v1.7h-1.7zM255.8 154.4h1.7v1.7h-1.7zM257.8 154.7h1.7v1.7h-1.7zM258.7 154.9h1.7v1.7h-1.7zM260.7 154.8h1.7v1.7h-1.7zM262.9 154.7h1.7v1.7h-1.7zM263.9 154.8h1.7v1.7h-1.7zM264.5 154.5h1.7v1.7h-1.7zM272.5 154.6h1.7v1.7h-1.7zM283.4 154.6h1.7v1.7h-1.7zM272.8 155.6h1.7v1.7h-1.7zM273.8 155.7h1.7v1.7h-1.7zM281.7 155.7h1.7v1.7h-1.7zM284.8 155.4h1.7v1.7h-1.7zM287.6 155.4h1.7v1.7h-1.7zM252.4 156.5h1.7v1.7h-1.7zM253.5 156.4h1.7v1.7h-1.7zM261.5 156.9h1.7v1.7h-1.7zM263.6 156.6h1.7v1.7h-1.7zM265.4 156.5h1.7v1.7h-1.7zM274.9 156.9h1.7v1.7h-1.7zM275.9 156.4h1.7v1.7h-1.7zM277.8 156.7h1.7v1.7h-1.7zM252.9 157.5h1.7v1.7h-1.7zM255.4 157.6h1.7v1.7h-1.7zM257.5 157.5h1.7v1.7h-1.7zM262.7 157.7h1.7v1.7h-1.7zM267.8 157.5h1.7v1.7h-1.7zM271.5 157.7h1.7v1.7h-1.7zM274.6 157.5h1.7v1.7h-1.7zM275.9 157.5h1.7v1.7h-1.7zM282.5 157.4h1.7v1.7h-1.7zM292.4 157.8h1.7v1.7h-1.7zM249.4 158.6h1.7v1.7h-1.7zM254.9 158.7h1.7v1.7h-1.7zM258.8 158.8h1.7v1.7h-1.7zM261.8 158.5h1.7v1.7h-1.7zM264.7 158.9h1.7v1.7h-1.7zM266.5 158.9h1.7v1.7h-1.7zM267.4 158.8h1.7v1.7h-1.7zM258.9 159.8h1.7v1.7h-1.7zM269.6 159.8h1.7v1.7h-1.7zM274.7 159.5h1.7v1.7h-1.7zM277.4 159.4h1.7v1.7h-1.7zM280.5 159.6h1.7v1.7h-1.7zM282.8 159.9h1.7v1.7h-1.7zM294.5 159.5h1.7v1.7h-1.7zM260.4 160.7h1.7v1.7h-1.7zM268.8 160.4h1.7v1.7h-1.7zM272.6 160.7h1.7v1.7h-1.7zM275.4 160.6h1.7v1.7h-1.7zM280.6 160.5h1.7v1.7h-1.7zM281.8 160.6h1.7v1.7h-1.7zM285.7 160.5h1.7v1.7h-1.7zM287.6 160.7h1.7v1.7h-1.7zM258.8 161.9h1.7v1.7h-1.7zM259.5 161.4h1.7v1.7h-1.7zM262.9 161.8h1.7v1.7h-1.7zM273.4 161.8h1.7v1.7h-1.7zM274.8 161.7h1.7v1.7h-1.7zM285.7 161.9h1.7v1.7h-1.7zM287.5 161.9h1.7v1.7h-1.7zM292.4 161.9h1.7v1.7h-1.7zM255.9 162.7h1.7v1.7h-1.7zM265.9 162.5h1.7v1.7h-1.7zM267.5 162.4h1.7v1.7h-1.7zM268.7 162.7h1.7v1.7h-1.7zM272.9 162.4h1.7v1.7h-1.7zM273.5 162.5h1.7v1.7h-1.7zM275.8 162.9h1.7v1.7h-1.7zM282.5 162.5h1.7v1.7h-1.7zM286.8 162.8h1.7v1.7h-1.7zM288.7 162.5h1.7v1.7h-1.7zM304.5 162.5h1.7v1.7h-1.7zM250.5 163.7h1.7v1.7h-1.7zM256.8 163.6h1.7v1.7h-1.7zM257.7 163.4h1.7v1.7h-1.7zM270.7 163.8h1.7v1.7h-1.7zM271.7 163.5h1.7v1.7h-1.7zM272.5 163.8h1.7v1.7h-1.7zM275.6 163.5h1.7v1.7h-1.7zM276.5 163.5h1.7v1.7h-1.7zM285.6 163.4h1.7v1.7h-1.7zM293.8 163.4h1.7v1.7h-1.7zM296.7 163.9h1.7v1.7h-1.7zM251.9 164.4h1.7v1.7h-1.7zM253.9 164.7h1.7v1.7h-1.7zM258.7 164.4h1.7v1.7h-1.7zM259.7 164.7h1.7v1.7h-1.7zM262.6 164.8h1.7v1.7h-1.7zM267.4 164.4h1.7v1.7h-1.7zM269.9 164.5h1.7v1.7h-1.7zM271.4 164.4h1.7v1.7h-1.7zM272.9 164.7h1.7v1.7h-1.7zM277.5 164.6h1.7v1.7h-1.7zM283.7 164.4h1.7v1.7h-1.7zM290.8 164.7h1.7v1.7h-1.7zM249.5 165.8h1.7v1.7h-1.7zM252.6 165.5h1.7v1.7h-1.7zM257.5 165.4h1.7v1.7h-1.7zM258.4 165.4h1.7v1.7h-1.7zM260.6 165.9h1.7v1.7h-1.7zM261.6 165.7h1.7v1.7h-1.7zM264.9 165.9h1.7v1.7h-1.7zM266.9 165.8h1.7v1.7h-1.7zM268.8 165.4h1.7v1.7h-1.7zM269.5 165.7h1.7v1.7h-1.7zM270.4 165.5h1.7v1.7h-1.7zM274.8 165.9h1.7v1.7h-1.7zM280.5 165.9h1.7v1.7h-1.7zM285.9 165.6h1.7v1.7h-1.7zM287.4 165.6h1.7v1.7h-1.7zM288.8 165.9h1.7v1.7h-1.7zM254.9 166.5h1.7v1.7h-1.7zM257.6 166.6h1.7v1.7h-1.7zM258.7 166.4h1.7v1.7h-1.7zM260.4 166.6h1.7v1.7h-1.7zM266.6 166.5h1.7v1.7h-1.7zM272.9 166.9h1.7v1.7h-1.7zM275.8 166.9h1.7v1.7h-1.7zM276.8 166.9h1.7v1.7h-1.7zM278.6 166.9h1.7v1.7h-1.7zM281.5 166.7h1.7v1.7h-1.7zM282.6 166.6h1.7v1.7h-1.7zM283.7 166.7h1.7v1.7h-1.7zM251.8 167.9h1.7v1.7h-1.7zM254.5 167.5h1.7v1.7h-1.7zM255.4 167.5h1.7v1.7h-1.7zM258.8 167.9h1.7v1.7h-1.7zM259.6 167.9h1.7v1.7h-1.7zM260.7 167.4h1.7v1.7h-1.7zM262.7 167.6h1.7v1.7h-1.7zM263.5 167.5h1.7v1.7h-1.7zM264.6 167.8h1.7v1.7h-1.7zM269.9 167.6h1.7v1.7h-1.7zM270.7 167.9h1.7v1.7h-1.7zM271.5 167.9h1.7v1.7h-1.7zM272.6 167.4h1.7v1.7h-1.7zM274.9 167.7h1.7v1.7h-1.7zM277.7 167.8h1.7v1.7h-1.7zM278.7 167.5h1.7v1.7h-1.7zM282.9 167.4h1.7v1.7h-1.7zM283.5 167.4h1.7v1.7h-1.7zM285.5 167.7h1.7v1.7h-1.7zM286.9 167.6h1.7v1.7h-1.7zM288.8 167.5h1.7v1.7h-1.7zM256.6 168.9h1.7v1.7h-1.7zM258.9 168.6h1.7v1.7h-1.7zM259.7 168.5h1.7v1.7h-1.7zM261.6 168.9h1.7v1.7h-1.7zM262.5 168.7h1.7v1.7h-1.7zM263.4 168.5h1.7v1.7h-1.7zM264.6 168.9h1.7v1.7h-1.7zM266.4 168.7h1.7v1.7h-1.7zM267.8 168.8h1.7v1.7h-1.7zM268.8 168.9h1.7v1.7h-1.7zM269.7 168.6h1.7v1.7h-1.7zM271.8 168.6h1.7v1.7h-1.7zM272.9 168.6h1.7v1.7h-1.7zM273.4 168.8h1.7v1.7h-1.7zM277.8 168.4h1.7v1.7h-1.7zM278.5 168.9h1.7v1.7h-1.7zM279.7 168.9h1.7v1.7h-1.7zM280.7 168.7h1.7v1.7h-1.7zM281.5 168.4h1.7v1.7h-1.7zM283.5 168.6h1.7v1.7h-1.7zM288.9 168.9h1.7v1.7h-1.7zM289.7 168.5h1.7v1.7h-1.7zM259.6 169.7h1.7v1.7h-1.7zM263.6 169.7h1.7v1.7h-1.7zM266.9 169.4h1.7v1.7h-1.7zM269.6 169.9h1.7v1.7h-1.7zM270.8 169.9h1.7v1.7h-1.7zM272.5 169.4h1.7v1.7h-1.7zM273.5 169.7h1.7v1.7h-1.7zM274.7 169.7h1.7v1.7h-1.7zM275.5 169.6h1.7v1.7h-1.7zM276.8 169.4h1.7v1.7h-1.7zM278.9 169.6h1.7v1.7h-1.7zM279.6 169.6h1.7v1.7h-1.7zM280.5 169.8h1.7v1.7h-1.7zM282.5 169.7h1.7v1.7h-1.7zM283.7 169.5h1.7v1.7h-1.7zM285.5 169.9h1.7v1.7h-1.7zM286.8 169.7h1.7v1.7h-1.7zM252.4 170.7h1.7v1.7h-1.7zM256.7 170.8h1.7v1.7h-1.7zM259.6 170.7h1.7v1.7h-1.7zM260.8 170.8h1.7v1.7h-1.7zM261.7 170.7h1.7v1.7h-1.7zM262.5 170.6h1.7v1.7h-1.7zM263.8 170.4h1.7v1.7h-1.7zM264.6 170.5h1.7v1.7h-1.7zM265.5 170.8h1.7v1.7h-1.7zM266.6 170.5h1.7v1.7h-1.7zM268.8 170.7h1.7v1.7h-1.7zM269.9 170.6h1.7v1.7h-1.7zM271.6 170.4h1.7v1.7h-1.7zM273.4 170.9h1.7v1.7h-1.7zM275.8 170.4h1.7v1.7h-1.7zM276.4 170.9h1.7v1.7h-1.7zM278.4 170.8h1.7v1.7h-1.7zM280.5 170.8h1.7v1.7h-1.7zM283.7 170.8h1.7v1.7h-1.7zM284.4 170.6h1.7v1.7h-1.7zM298.7 170.5h1.7v1.7h-1.7zM252.9 171.5h1.7v1.7h-1.7zM253.8 171.9h1.7v1.7h-1.7zM254.6 171.8h1.7v1.7h-1.7zM256.7 171.7h1.7v1.7h-1.7zM258.8 171.8h1.7v1.7h-1.7zM262.9 171.4h1.7v1.7h-1.7zM264.9 171.6h1.7v1.7h-1.7zM265.4 171.5h1.7v1.7h-1.7zM274.5 171.9h1.7v1.7h-1.7zM275.8 171.4h1.7v1.7h-1.7zM276.5 171.8h1.7v1.7h-1.7zM278.6 171.6h1.7v1.7h-1.7zM279.8 171.4h1.7v1.7h-1.7zM281.4 171.7h1.7v1.7h-1.7zM282.9 171.9h1.7v1.7h-1.7zM285.7 171.6h1.7v1.7h-1.7zM286.5 171.7h1.7v1.7h-1.7zM288.8 171.6h1.7v1.7h-1.7zM291.8 171.9h1.7v1.7h-1.7zM300.5 171.8h1.7v1.7h-1.7zM253.6 172.7h1.7v1.7h-1.7zM254.6 172.7h1.7v1.7h-1.7zM260.8 172.9h1.7v1.7h-1.7zM280.5 172.6h1.7v1.7h-1.7zM282.7 172.5h1.7v1.7h-1.7zM288.5 172.6h1.7v1.7h-1.7zM254.9 173.4h1.7v1.7h-1.7zM255.6 173.5h1.7v1.7h-1.7zM256.6 173.8h1.7v1.7h-1.7zM257.4 173.4h1.7v1.7h-1.7zM258.8 173.4h1.7v1.7h-1.7zM285.7 173.8h1.7v1.7h-1.7zM290.9 173.9h1.7v1.7h-1.7zM249.4 174.9h1.7v1.7h-1.7zM251.6 174.8h1.7v1.7h-1.7zM255.4 174.6h1.7v1.7h-1.7zM285.6 174.4h1.7v1.7h-1.7zM288.4 174.8h1.7v1.7h-1.7zM291.4 174.8h1.7v1.7h-1.7zM252.8 175.7h1.7v1.7h-1.7zM288.7 175.6h1.7v1.7h-1.7zM292.7 175.4h1.7v1.7h-1.7zM253.4 176.9h1.7v1.7h-1.7zM289.4 176.5h1.7v1.7h-1.7zM288.8 177.5h1.7v1.7h-1.7zM247.6 178.9h1.7v1.7h-1.7zM252.4 178.7h1.7v1.7h-1.7zM247.5 179.9h1.7v1.7h-1.7zM295.6 179.5h1.7v1.7h-1.7zM249.6 180.5h1.7v1.7h-1.7zM249.5 181.6h1.7v1.7h-1.7zM250.9 181.6h1.7v1.7h-1.7zM293.4 182.5h1.7v1.7h-1.7zM249.7 184.7h1.7v1.7h-1.7zM294.6 184.9h1.7v1.7h-1.7zM249.6 185.7h1.7v1.7h-1.7zM294.6 186.9h1.7v1.7h-1.7zM293.5 187.8h1.7v1.7h-1.7zM248.9 188.6h1.7v1.7h-1.7zM249.5 188.8h1.7v1.7h-1.7zM247.9 191.4h1.7v1.7h-1.7zM296.6 191.4h1.7v1.7h-1.7zM247.5 192.9h1.7v1.7h-1.7zM308.9 192.6h1.7v1.7h-1.7zM247.4 196.6h1.7v1.7h-1.7zM297.8 196.9h1.7v1.7h-1.7zM296.7 197.4h1.7v1.7h-1.7zM247.4 199.6h1.7v1.7h-1.7zM295.6 199.9h1.7v1.7h-1.7zM247.8 200.9h1.7v1.7h-1.7zM297.7 200.4h1.7v1.7h-1.7zM247.7 201.9h1.7v1.7h-1.7zM300.6 203.9h1.7v1.7h-1.7zM295.7 204.7h1.7v1.7h-1.7zM296.8 204.4h1.7v1.7h-1.7zM295.4 205.4h1.7v1.7h-1.7zM303.6 206.6h1.7v1.7h-1.7zM303.5 207.8h1.7v1.7h-1.7zM247.8 208.7h1.7v1.7h-1.7zM247.4 209.8h1.7v1.7h-1.7zM248.4 211.4h1.7v1.7h-1.7zM295.5 212.5h1.7v1.7h-1.7zM296.7 212.6h1.7v1.7h-1.7zM248.5 213.7h1.7v1.7h-1.7zM298.8 214.4h1.7v1.7h-1.7zM297.8 215.9h1.7v1.7h-1.7zM247.8 216.4h1.7v1.7h-1.7zM293.9 216.9h1.7v1.7h-1.7zM247.8 217.6h1.7v1.7h-1.7zM248.5 217.8h1.7v1.7h-1.7zM294.6 217.5h1.7v1.7h-1.7zM247.4 219.4h1.7v1.7h-1.7zM249.5 220.5h1.7v1.7h-1.7zM248.8 221.9h1.7v1.7h-1.7zM249.8 221.8h1.7v1.7h-1.7zM249.4 222.7h1.7v1.7h-1.7zM291.6 222.7h1.7v1.7h-1.7zM293.8 222.9h1.7v1.7h-1.7zM290.9 224.8h1.7v1.7h-1.7zM289.9 227.8h1.7v1.7h-1.7zM247.8 228.6h1.7v1.7h-1.7zM250.4 228.4h1.7v1.7h-1.7zM295.5 228.5h1.7v1.7h-1.7zM301.6 228.5h1.7v1.7h-1.7zM248.5 229.7h1.7v1.7h-1.7zM248.5 230.8h1.7v1.7h-1.7zM290.9 230.4h1.7v1.7h-1.7zM291.8 230.9h1.7v1.7h-1.7zM289.8 231.9h1.7v1.7h-1.7zM295.6 231.4h1.7v1.7h-1.7zM247.8 233.5h1.7v1.7h-1.7zM288.7 233.4h1.7v1.7h-1.7zM289.6 233.7h1.7v1.7h-1.7zM247.5 234.9h1.7v1.7h-1.7zM251.6 236.7h1.7v1.7h-1.7zM249.9 238.8h1.7v1.7h-1.7zM249.9 239.6h1.7v1.7h-1.7zM251.9 239.9h1.7v1.7h-1.7zM248.5 240.7h1.7v1.7h-1.7zM291.4 240.5h1.7v1.7h-1.7zM286.6 241.4h1.7v1.7h-1.7zM249.7 242.6h1.7v1.7h-1.7zM251.6 242.9h1.7v1.7h-1.7zM249.9 243.4h1.7v1.7h-1.7zM251.4 243.7h1.7v1.7h-1.7zM247.7 244.6h1.7v1.7h-1.7zM251.6 244.7h1.7v1.7h-1.7zM247.6 245.4h1.7v1.7h-1.7zM251.5 245.8h1.7v1.7h-1.7zM286.7 245.4h1.7v1.7h-1.7z"/><path fill="#333" d="M368.0 139.2h1.6v1.6h-1.6zM366.1 152.1h1.6v1.6h-1.6zM352.7 146.9h1.6v1.6h-1.6zM354.2 146.9h1.6v1.6h-1.6zM346.5 148.8h1.6v1.6h-1.6zM341.1 149.8h1.6v1.6h-1.6zM334.8 148.8h1.6v1.6h-1.6zM338.2 154.0h1.6v1.6h-1.6zM341.1 159.2h1.6v1.6h-1.6zM343.6 161.7h1.6v1.6h-1.6zM323.8 158.2h1.6v1.6h-1.6zM326.1 157.2h1.6v1.6h-1.6zM319.0 149.8h1.6v1.6h-1.6zM320.0 154.0h1.6v1.6h-1.6zM312.2 149.8h1.6v1.6h-1.6zM309.0 157.2h1.6v1.6h-1.6zM311.3 162.7h1.6v1.6h-1.6zM320.0 168.0h1.6v1.6h-1.6zM293.0 174.6h1.6v1.6h-1.6z"/></g><clipPath id="c2L"><rect x="46.0" y="278.3" width="176.00" height="175.00"/></clipPath><g clip-path="url(#c2L)"><path fill="#000" d="M50.0 361.7L48.5 369.7L48.5 369.8L47.0 381.8L47.0 381.9L46.0 398.9L46.0 399.0L46.0 416.0L46.0 416.1L47.0 433.1L47.0 433.2L48.5 445.2L48.5 445.3L50.5 454.3L50.8 454.9L51.3 455.4L52.0 455.5L80.0 455.5L80.5 455.4L81.0 455.1L81.3 454.7L81.5 454.2L82.5 446.3L88.4 424.4L88.5 424.3L91.0 412.3L91.0 412.1L92.0 400.1L92.0 399.9L91.5 387.9L91.5 387.8L90.0 375.8L90.0 375.7L87.5 364.7L87.4 364.5L84.4 355.5L84.3 355.3L80.3 348.3L79.9 347.8L74.9 344.3L74.2 344.0L67.2 343.0L66.5 343.1L59.5 345.6L58.9 346.0L53.4 352.0L53.1 352.5L50.1 361.5Z"/><path fill="#fff" d="M66.7 342.8h1.1v1.1h-1.1zM68.1 342.7h1.1v1.1h-1.1zM68.7 342.7h1.1v1.1h-1.1zM64.2 343.9h1.1v1.1h-1.1zM61.1 346.1h1.1v1.1h-1.1zM57.8 347.1h1.1v1.1h-1.1zM61.8 346.7h1.1v1.1h-1.1zM77.8 347.1h1.1v1.1h-1.1zM78.7 347.2h1.1v1.1h-1.1zM56.8 347.7h1.1v1.1h-1.1zM77.7 348.2h1.1v1.1h-1.1zM79.1 347.7h1.1v1.1h-1.1zM54.8 350.1h1.1v1.1h-1.1zM81.7 350.8h1.1v1.1h-1.1zM52.8 352.0h1.1v1.1h-1.1zM84.1 354.8h1.1v1.1h-1.1zM83.7 356.0h1.1v1.1h-1.1zM51.0 358.1h1.1v1.1h-1.1zM83.1 357.9h1.1v1.1h-1.1zM84.1 357.7h1.1v1.1h-1.1zM50.7 360.1h1.1v1.1h-1.1zM86.0 361.2h1.1v1.1h-1.1zM50.9 363.0h1.1v1.1h-1.1zM50.8 364.8h1.1v1.1h-1.1zM86.0 365.8h1.1v1.1h-1.1zM86.7 366.0h1.1v1.1h-1.1zM87.1 370.0h1.1v1.1h-1.1zM50.8 371.0h1.1v1.1h-1.1zM48.8 372.0h1.1v1.1h-1.1zM47.9 373.1h1.1v1.1h-1.1zM48.9 373.0h1.1v1.1h-1.1zM47.9 374.0h1.1v1.1h-1.1zM89.0 373.9h1.1v1.1h-1.1zM47.7 375.1h1.1v1.1h-1.1zM47.8 377.1h1.1v1.1h-1.1zM51.0 376.8h1.1v1.1h-1.1zM48.9 377.7h1.1v1.1h-1.1zM90.0 378.1h1.1v1.1h-1.1zM46.9 382.0h1.1v1.1h-1.1zM90.8 381.7h1.1v1.1h-1.1zM91.0 382.8h1.1v1.1h-1.1zM46.9 384.0h1.1v1.1h-1.1zM46.8 385.7h1.1v1.1h-1.1zM92.1 386.9h1.1v1.1h-1.1zM47.1 387.7h1.1v1.1h-1.1zM46.8 388.7h1.1v1.1h-1.1zM91.1 388.9h1.1v1.1h-1.1zM89.8 390.7h1.1v1.1h-1.1zM92.0 392.7h1.1v1.1h-1.1zM89.7 393.8h1.1v1.1h-1.1zM92.1 393.8h1.1v1.1h-1.1zM89.9 394.9h1.1v1.1h-1.1zM91.7 397.8h1.1v1.1h-1.1zM91.7 400.0h1.1v1.1h-1.1zM46.9 401.1h1.1v1.1h-1.1zM46.9 403.0h1.1v1.1h-1.1zM49.0 406.1h1.1v1.1h-1.1zM88.0 407.2h1.1v1.1h-1.1zM90.9 407.1h1.1v1.1h-1.1zM46.7 409.7h1.1v1.1h-1.1zM90.7 409.8h1.1v1.1h-1.1zM46.9 410.9h1.1v1.1h-1.1zM88.9 412.0h1.1v1.1h-1.1zM89.2 414.2h1.1v1.1h-1.1zM88.2 415.9h1.1v1.1h-1.1zM47.2 417.2h1.1v1.1h-1.1zM85.8 417.2h1.1v1.1h-1.1zM47.8 418.2h1.1v1.1h-1.1zM84.9 418.8h1.1v1.1h-1.1zM87.8 420.9h1.1v1.1h-1.1zM47.7 421.7h1.1v1.1h-1.1zM47.9 425.0h1.1v1.1h-1.1zM85.7 425.1h1.1v1.1h-1.1zM48.8 426.1h1.1v1.1h-1.1zM47.0 427.0h1.1v1.1h-1.1zM51.1 427.0h1.1v1.1h-1.1zM46.9 429.0h1.1v1.1h-1.1zM49.1 428.8h1.1v1.1h-1.1zM87.1 430.0h1.1v1.1h-1.1zM46.8 430.9h1.1v1.1h-1.1zM47.7 431.7h1.1v1.1h-1.1zM49.1 433.7h1.1v1.1h-1.1zM85.8 433.7h1.1v1.1h-1.1zM52.2 435.9h1.1v1.1h-1.1zM83.7 436.1h1.1v1.1h-1.1zM84.9 436.2h1.1v1.1h-1.1zM50.8 436.8h1.1v1.1h-1.1zM85.0 437.2h1.1v1.1h-1.1zM47.7 439.0h1.1v1.1h-1.1zM48.9 440.1h1.1v1.1h-1.1zM50.2 442.0h1.1v1.1h-1.1zM83.2 443.2h1.1v1.1h-1.1zM83.8 443.0h1.1v1.1h-1.1zM48.7 443.9h1.1v1.1h-1.1zM48.7 445.1h1.1v1.1h-1.1zM48.9 445.7h1.1v1.1h-1.1zM82.9 445.8h1.1v1.1h-1.1zM50.0 446.7h1.1v1.1h-1.1zM82.2 447.1h1.1v1.1h-1.1zM49.8 447.8h1.1v1.1h-1.1zM82.0 448.1h1.1v1.1h-1.1zM50.2 449.0h1.1v1.1h-1.1zM49.7 450.8h1.1v1.1h-1.1zM81.8 450.7h1.1v1.1h-1.1z"/><path fill="#111" d="M63.6 330.9h1.7v1.7h-1.7zM66.8 336.8h1.7v1.7h-1.7zM67.7 336.6h1.7v1.7h-1.7zM59.7 337.8h1.7v1.7h-1.7zM71.6 337.4h1.7v1.7h-1.7zM58.5 338.7h1.7v1.7h-1.7zM63.5 338.6h1.7v1.7h-1.7zM65.5 338.8h1.7v1.7h-1.7zM69.7 338.8h1.7v1.7h-1.7zM74.5 338.6h1.7v1.7h-1.7zM76.7 338.7h1.7v1.7h-1.7zM51.8 339.6h1.7v1.7h-1.7zM60.6 339.9h1.7v1.7h-1.7zM61.5 339.9h1.7v1.7h-1.7zM62.9 339.7h1.7v1.7h-1.7zM63.4 339.7h1.7v1.7h-1.7zM65.5 339.9h1.7v1.7h-1.7zM68.6 339.7h1.7v1.7h-1.7zM72.9 339.5h1.7v1.7h-1.7zM74.9 339.7h1.7v1.7h-1.7zM51.4 340.7h1.7v1.7h-1.7zM53.7 340.7h1.7v1.7h-1.7zM56.7 340.9h1.7v1.7h-1.7zM66.9 340.4h1.7v1.7h-1.7zM67.6 340.8h1.7v1.7h-1.7zM70.9 340.8h1.7v1.7h-1.7zM75.5 340.8h1.7v1.7h-1.7zM77.8 340.7h1.7v1.7h-1.7zM60.9 341.9h1.7v1.7h-1.7zM62.9 341.6h1.7v1.7h-1.7zM64.5 341.7h1.7v1.7h-1.7zM66.7 341.5h1.7v1.7h-1.7zM70.5 341.6h1.7v1.7h-1.7zM76.4 341.7h1.7v1.7h-1.7zM81.9 341.5h1.7v1.7h-1.7zM57.8 342.9h1.7v1.7h-1.7zM58.8 342.6h1.7v1.7h-1.7zM60.5 342.5h1.7v1.7h-1.7zM62.5 342.5h1.7v1.7h-1.7zM63.6 342.4h1.7v1.7h-1.7zM71.5 342.4h1.7v1.7h-1.7zM78.5 342.4h1.7v1.7h-1.7zM80.5 342.5h1.7v1.7h-1.7zM85.9 342.4h1.7v1.7h-1.7zM48.7 343.7h1.7v1.7h-1.7zM50.4 343.7h1.7v1.7h-1.7zM80.4 343.7h1.7v1.7h-1.7zM82.7 343.7h1.7v1.7h-1.7zM83.6 343.4h1.7v1.7h-1.7zM50.7 344.6h1.7v1.7h-1.7zM51.4 344.6h1.7v1.7h-1.7zM53.8 344.6h1.7v1.7h-1.7zM55.8 344.7h1.7v1.7h-1.7zM57.8 344.6h1.7v1.7h-1.7zM49.6 345.8h1.7v1.7h-1.7zM51.9 345.8h1.7v1.7h-1.7zM79.6 345.7h1.7v1.7h-1.7zM48.9 346.4h1.7v1.7h-1.7zM81.7 346.4h1.7v1.7h-1.7zM82.9 346.6h1.7v1.7h-1.7zM85.9 346.4h1.7v1.7h-1.7zM51.7 347.4h1.7v1.7h-1.7zM52.8 347.4h1.7v1.7h-1.7zM53.7 347.8h1.7v1.7h-1.7zM51.7 348.8h1.7v1.7h-1.7zM54.4 348.4h1.7v1.7h-1.7zM84.7 348.6h1.7v1.7h-1.7zM85.9 349.8h1.7v1.7h-1.7zM48.7 350.9h1.7v1.7h-1.7zM50.7 350.9h1.7v1.7h-1.7zM88.7 350.9h1.7v1.7h-1.7zM51.8 351.8h1.7v1.7h-1.7zM82.7 351.7h1.7v1.7h-1.7zM47.7 352.6h1.7v1.7h-1.7zM83.4 352.6h1.7v1.7h-1.7zM84.9 352.7h1.7v1.7h-1.7zM86.8 352.4h1.7v1.7h-1.7zM46.6 353.4h1.7v1.7h-1.7zM47.9 353.6h1.7v1.7h-1.7zM48.4 354.9h1.7v1.7h-1.7zM50.4 354.7h1.7v1.7h-1.7zM50.5 355.5h1.7v1.7h-1.7zM47.5 357.7h1.7v1.7h-1.7zM46.8 358.4h1.7v1.7h-1.7zM46.9 360.5h1.7v1.7h-1.7zM48.8 360.8h1.7v1.7h-1.7zM86.7 360.8h1.7v1.7h-1.7zM88.6 360.8h1.7v1.7h-1.7zM46.9 363.4h1.7v1.7h-1.7zM89.8 364.7h1.7v1.7h-1.7zM46.7 365.4h1.7v1.7h-1.7zM46.6 366.6h1.7v1.7h-1.7zM88.6 366.6h1.7v1.7h-1.7zM88.8 367.7h1.7v1.7h-1.7zM89.6 368.9h1.7v1.7h-1.7zM47.7 369.6h1.7v1.7h-1.7zM47.6 370.9h1.7v1.7h-1.7zM46.6 371.5h1.7v1.7h-1.7zM92.9 371.9h1.7v1.7h-1.7zM93.4 371.6h1.7v1.7h-1.7zM91.9 372.5h1.7v1.7h-1.7zM46.7 377.7h1.7v1.7h-1.7zM96.8 381.6h1.7v1.7h-1.7zM91.8 383.7h1.7v1.7h-1.7zM93.9 383.9h1.7v1.7h-1.7zM92.4 386.5h1.7v1.7h-1.7zM92.8 387.4h1.7v1.7h-1.7zM93.9 387.6h1.7v1.7h-1.7zM97.5 387.8h1.7v1.7h-1.7zM92.8 388.8h1.7v1.7h-1.7zM96.4 390.8h1.7v1.7h-1.7zM99.4 391.9h1.7v1.7h-1.7zM92.5 395.5h1.7v1.7h-1.7zM92.8 397.6h1.7v1.7h-1.7zM92.5 398.6h1.7v1.7h-1.7zM96.5 399.7h1.7v1.7h-1.7zM92.4 401.4h1.7v1.7h-1.7zM94.8 403.6h1.7v1.7h-1.7zM92.9 405.8h1.7v1.7h-1.7zM91.6 406.8h1.7v1.7h-1.7zM91.6 408.4h1.7v1.7h-1.7zM99.7 408.4h1.7v1.7h-1.7zM92.9 409.7h1.7v1.7h-1.7zM93.9 413.9h1.7v1.7h-1.7zM90.7 415.5h1.7v1.7h-1.7zM90.6 419.8h1.7v1.7h-1.7zM89.8 425.8h1.7v1.7h-1.7zM91.7 426.8h1.7v1.7h-1.7zM87.4 428.4h1.7v1.7h-1.7zM88.4 428.4h1.7v1.7h-1.7zM86.9 430.5h1.7v1.7h-1.7zM89.7 430.7h1.7v1.7h-1.7zM89.6 431.4h1.7v1.7h-1.7zM93.6 431.8h1.7v1.7h-1.7zM46.7 436.4h1.7v1.7h-1.7zM84.7 440.4h1.7v1.7h-1.7zM85.6 442.4h1.7v1.7h-1.7zM86.6 443.7h1.7v1.7h-1.7zM83.9 445.9h1.7v1.7h-1.7zM48.5 447.4h1.7v1.7h-1.7zM48.7 449.4h1.7v1.7h-1.7zM82.4 450.6h1.7v1.7h-1.7z"/><path fill="#333" d="M110.7 355.2h1.6v1.6h-1.6zM126.7 361.5h1.6v1.6h-1.6zM122.2 372.1h1.6v1.6h-1.6zM104.2 408.0h1.6v1.6h-1.6z"/></g><clipPath id="c2R"><rect x="247.5" y="278.8" width="176.20" height="175.70"/></clipPath><g clip-path="url(#c2R)"><path fill="#000" d="M248.5 365.0L248.5 374.0L247.7 398.0L247.7 398.0L247.5 410.0L247.5 410.1L248.0 422.1L248.0 422.2L249.5 434.2L249.5 434.3L252.0 446.3L252.1 446.4L254.6 455.4L254.9 456.0L255.4 456.4L256.0 456.5L279.0 456.5L279.6 456.4L280.1 456.0L280.4 455.5L282.4 449.5L285.9 439.5L285.9 439.5L289.4 428.5L289.5 428.3L292.0 416.3L292.0 416.1L293.0 404.1L293.0 403.9L292.5 391.9L292.5 391.8L290.5 379.8L290.5 379.7L288.0 367.7L287.9 367.5L284.9 358.5L284.8 358.2L280.3 351.2L279.7 350.7L272.7 347.2L272.1 347.0L264.1 346.5L263.5 346.6L256.5 349.1L255.9 349.5L250.9 355.0L250.5 355.7L248.5 364.7Z"/><path fill="#fff" d="M265.8 346.8h1.1v1.1h-1.1zM270.2 347.0h1.1v1.1h-1.1zM270.7 346.7h1.1v1.1h-1.1zM256.9 348.7h1.1v1.1h-1.1zM262.7 349.1h1.1v1.1h-1.1zM265.8 348.7h1.1v1.1h-1.1zM263.8 350.1h1.1v1.1h-1.1zM277.9 349.8h1.1v1.1h-1.1zM255.7 350.7h1.1v1.1h-1.1zM278.2 350.9h1.1v1.1h-1.1zM278.7 352.2h1.1v1.1h-1.1zM280.1 352.2h1.1v1.1h-1.1zM251.0 356.0h1.1v1.1h-1.1zM281.9 358.0h1.1v1.1h-1.1zM283.1 357.7h1.1v1.1h-1.1zM284.0 357.9h1.1v1.1h-1.1zM251.2 359.7h1.1v1.1h-1.1zM283.8 361.2h1.1v1.1h-1.1zM284.9 363.7h1.1v1.1h-1.1zM280.8 364.9h1.1v1.1h-1.1zM253.1 370.1h1.1v1.1h-1.1zM287.0 369.9h1.1v1.1h-1.1zM251.2 370.9h1.1v1.1h-1.1zM289.2 371.9h1.1v1.1h-1.1zM287.8 373.8h1.1v1.1h-1.1zM249.2 374.7h1.1v1.1h-1.1zM286.8 376.8h1.1v1.1h-1.1zM248.9 377.9h1.1v1.1h-1.1zM248.9 379.1h1.1v1.1h-1.1zM288.0 380.1h1.1v1.1h-1.1zM289.7 380.0h1.1v1.1h-1.1zM288.9 381.1h1.1v1.1h-1.1zM248.9 382.2h1.1v1.1h-1.1zM289.1 381.8h1.1v1.1h-1.1zM248.7 383.1h1.1v1.1h-1.1zM249.8 384.7h1.1v1.1h-1.1zM248.7 385.7h1.1v1.1h-1.1zM249.2 387.2h1.1v1.1h-1.1zM290.2 386.8h1.1v1.1h-1.1zM248.9 388.8h1.1v1.1h-1.1zM249.8 389.1h1.1v1.1h-1.1zM291.9 390.0h1.1v1.1h-1.1zM293.2 394.8h1.1v1.1h-1.1zM248.8 398.2h1.1v1.1h-1.1zM292.2 397.9h1.1v1.1h-1.1zM292.9 403.0h1.1v1.1h-1.1zM249.0 403.7h1.1v1.1h-1.1zM249.1 404.7h1.1v1.1h-1.1zM249.1 407.2h1.1v1.1h-1.1zM290.8 408.1h1.1v1.1h-1.1zM292.7 409.1h1.1v1.1h-1.1zM250.7 412.1h1.1v1.1h-1.1zM289.0 412.9h1.1v1.1h-1.1zM290.8 413.0h1.1v1.1h-1.1zM291.7 412.8h1.1v1.1h-1.1zM288.0 417.2h1.1v1.1h-1.1zM292.1 417.2h1.1v1.1h-1.1zM253.2 417.9h1.1v1.1h-1.1zM290.9 421.2h1.1v1.1h-1.1zM249.8 422.2h1.1v1.1h-1.1zM288.7 423.8h1.1v1.1h-1.1zM248.9 425.0h1.1v1.1h-1.1zM248.7 425.8h1.1v1.1h-1.1zM282.8 426.0h1.1v1.1h-1.1zM285.8 426.2h1.1v1.1h-1.1zM288.9 426.2h1.1v1.1h-1.1zM250.1 427.0h1.1v1.1h-1.1zM252.8 428.2h1.1v1.1h-1.1zM286.7 427.8h1.1v1.1h-1.1zM287.9 427.8h1.1v1.1h-1.1zM249.0 430.9h1.1v1.1h-1.1zM286.0 430.9h1.1v1.1h-1.1zM256.2 432.1h1.1v1.1h-1.1zM249.9 433.0h1.1v1.1h-1.1zM249.9 435.0h1.1v1.1h-1.1zM250.9 435.8h1.1v1.1h-1.1zM251.8 436.2h1.1v1.1h-1.1zM252.1 436.9h1.1v1.1h-1.1zM285.7 438.0h1.1v1.1h-1.1zM253.7 439.9h1.1v1.1h-1.1zM285.2 440.0h1.1v1.1h-1.1zM251.2 440.7h1.1v1.1h-1.1zM253.1 441.0h1.1v1.1h-1.1zM283.2 440.9h1.1v1.1h-1.1zM252.1 443.0h1.1v1.1h-1.1zM284.2 443.2h1.1v1.1h-1.1zM283.2 445.0h1.1v1.1h-1.1zM282.9 445.9h1.1v1.1h-1.1zM251.9 447.1h1.1v1.1h-1.1zM253.1 447.1h1.1v1.1h-1.1zM283.1 447.0h1.1v1.1h-1.1zM253.9 448.8h1.1v1.1h-1.1zM257.1 451.8h1.1v1.1h-1.1z"/><path fill="#111" d="M257.6 335.9h1.7v1.7h-1.7zM280.6 335.4h1.7v1.7h-1.7zM267.9 336.5h1.7v1.7h-1.7zM258.4 337.7h1.7v1.7h-1.7zM259.5 337.9h1.7v1.7h-1.7zM265.8 337.4h1.7v1.7h-1.7zM261.8 340.8h1.7v1.7h-1.7zM266.9 340.6h1.7v1.7h-1.7zM278.7 340.8h1.7v1.7h-1.7zM285.7 340.4h1.7v1.7h-1.7zM251.4 341.5h1.7v1.7h-1.7zM264.8 341.7h1.7v1.7h-1.7zM270.7 341.5h1.7v1.7h-1.7zM273.5 341.5h1.7v1.7h-1.7zM254.4 342.5h1.7v1.7h-1.7zM256.5 342.9h1.7v1.7h-1.7zM260.8 342.7h1.7v1.7h-1.7zM267.7 342.7h1.7v1.7h-1.7zM270.4 342.8h1.7v1.7h-1.7zM272.7 342.7h1.7v1.7h-1.7zM279.5 342.5h1.7v1.7h-1.7zM256.5 343.5h1.7v1.7h-1.7zM265.7 343.4h1.7v1.7h-1.7zM268.7 343.7h1.7v1.7h-1.7zM270.8 343.8h1.7v1.7h-1.7zM274.6 343.4h1.7v1.7h-1.7zM281.8 343.6h1.7v1.7h-1.7zM255.8 344.6h1.7v1.7h-1.7zM256.9 344.5h1.7v1.7h-1.7zM264.7 344.5h1.7v1.7h-1.7zM266.9 344.4h1.7v1.7h-1.7zM268.6 344.7h1.7v1.7h-1.7zM269.7 344.5h1.7v1.7h-1.7zM271.5 344.4h1.7v1.7h-1.7zM273.8 344.5h1.7v1.7h-1.7zM274.8 344.5h1.7v1.7h-1.7zM277.8 344.4h1.7v1.7h-1.7zM281.5 344.7h1.7v1.7h-1.7zM251.6 345.9h1.7v1.7h-1.7zM261.8 345.4h1.7v1.7h-1.7zM264.4 345.8h1.7v1.7h-1.7zM265.4 345.5h1.7v1.7h-1.7zM266.6 345.8h1.7v1.7h-1.7zM268.4 345.8h1.7v1.7h-1.7zM269.7 345.6h1.7v1.7h-1.7zM271.5 345.9h1.7v1.7h-1.7zM278.7 345.5h1.7v1.7h-1.7zM280.4 345.7h1.7v1.7h-1.7zM251.4 346.7h1.7v1.7h-1.7zM258.7 346.5h1.7v1.7h-1.7zM274.9 346.4h1.7v1.7h-1.7zM275.5 346.4h1.7v1.7h-1.7zM278.7 346.9h1.7v1.7h-1.7zM252.7 347.5h1.7v1.7h-1.7zM254.6 347.4h1.7v1.7h-1.7zM276.7 347.6h1.7v1.7h-1.7zM278.7 348.4h1.7v1.7h-1.7zM249.6 349.7h1.7v1.7h-1.7zM279.7 349.4h1.7v1.7h-1.7zM280.4 349.5h1.7v1.7h-1.7zM285.8 349.4h1.7v1.7h-1.7zM250.8 350.4h1.7v1.7h-1.7zM252.7 350.6h1.7v1.7h-1.7zM253.6 350.6h1.7v1.7h-1.7zM248.8 352.5h1.7v1.7h-1.7zM281.5 352.7h1.7v1.7h-1.7zM282.4 352.9h1.7v1.7h-1.7zM249.7 353.8h1.7v1.7h-1.7zM283.6 353.5h1.7v1.7h-1.7zM285.5 353.4h1.7v1.7h-1.7zM283.8 354.9h1.7v1.7h-1.7zM285.5 356.9h1.7v1.7h-1.7zM248.4 357.8h1.7v1.7h-1.7zM285.6 358.6h1.7v1.7h-1.7zM248.5 359.6h1.7v1.7h-1.7zM287.8 360.6h1.7v1.7h-1.7zM289.5 360.4h1.7v1.7h-1.7zM286.7 361.9h1.7v1.7h-1.7zM287.9 364.8h1.7v1.7h-1.7zM292.6 365.9h1.7v1.7h-1.7zM288.4 368.4h1.7v1.7h-1.7zM291.7 372.7h1.7v1.7h-1.7zM292.4 372.8h1.7v1.7h-1.7zM290.8 373.9h1.7v1.7h-1.7zM291.5 375.6h1.7v1.7h-1.7zM292.6 379.8h1.7v1.7h-1.7zM296.4 380.4h1.7v1.7h-1.7zM293.6 382.8h1.7v1.7h-1.7zM293.9 386.5h1.7v1.7h-1.7zM299.7 387.9h1.7v1.7h-1.7zM293.9 390.8h1.7v1.7h-1.7zM296.8 390.8h1.7v1.7h-1.7zM293.6 396.7h1.7v1.7h-1.7zM294.6 396.9h1.7v1.7h-1.7zM293.8 397.7h1.7v1.7h-1.7zM294.5 399.5h1.7v1.7h-1.7zM296.9 399.4h1.7v1.7h-1.7zM293.4 401.8h1.7v1.7h-1.7zM294.5 402.6h1.7v1.7h-1.7zM293.6 408.9h1.7v1.7h-1.7zM292.8 415.4h1.7v1.7h-1.7zM296.4 415.6h1.7v1.7h-1.7zM291.4 420.6h1.7v1.7h-1.7zM293.7 422.7h1.7v1.7h-1.7zM291.7 424.8h1.7v1.7h-1.7zM292.9 424.6h1.7v1.7h-1.7zM293.6 424.6h1.7v1.7h-1.7zM289.9 426.7h1.7v1.7h-1.7zM291.7 426.4h1.7v1.7h-1.7zM292.7 426.5h1.7v1.7h-1.7zM291.4 427.4h1.7v1.7h-1.7zM293.9 428.7h1.7v1.7h-1.7zM289.6 429.5h1.7v1.7h-1.7zM248.4 431.9h1.7v1.7h-1.7zM248.8 432.9h1.7v1.7h-1.7zM290.7 432.7h1.7v1.7h-1.7zM292.9 432.6h1.7v1.7h-1.7zM248.6 433.5h1.7v1.7h-1.7zM289.8 434.6h1.7v1.7h-1.7zM290.4 435.7h1.7v1.7h-1.7zM289.7 436.8h1.7v1.7h-1.7zM249.7 438.9h1.7v1.7h-1.7zM248.8 439.8h1.7v1.7h-1.7zM249.4 440.4h1.7v1.7h-1.7zM287.6 440.6h1.7v1.7h-1.7zM249.4 441.6h1.7v1.7h-1.7zM285.8 442.5h1.7v1.7h-1.7zM287.7 444.8h1.7v1.7h-1.7zM248.9 446.6h1.7v1.7h-1.7zM251.6 447.7h1.7v1.7h-1.7zM282.8 448.9h1.7v1.7h-1.7zM249.6 449.4h1.7v1.7h-1.7zM282.7 449.7h1.7v1.7h-1.7z"/><path fill="#333" d="M315.4 344.6h1.6v1.6h-1.6zM316.8 358.4h1.6v1.6h-1.6zM323.0 360.7h1.6v1.6h-1.6zM326.0 366.1h1.6v1.6h-1.6zM329.6 352.3h1.6v1.6h-1.6zM338.0 348.9h1.6v1.6h-1.6zM336.5 353.8h1.6v1.6h-1.6zM337.3 356.6h1.6v1.6h-1.6zM336.5 359.2h1.6v1.6h-1.6zM336.0 361.8h1.6v1.6h-1.6zM341.1 358.4h1.6v1.6h-1.6zM343.4 359.5h1.6v1.6h-1.6zM345.3 361.0h1.6v1.6h-1.6zM344.7 363.8h1.6v1.6h-1.6zM347.7 342.7h1.6v1.6h-1.6zM348.8 355.4h1.6v1.6h-1.6zM357.3 351.2h1.6v1.6h-1.6zM356.5 360.7h1.6v1.6h-1.6zM360.8 357.7h1.6v1.6h-1.6zM299.6 361.5h1.6v1.6h-1.6zM301.9 365.8h1.6v1.6h-1.6zM301.1 378.4h1.6v1.6h-1.6zM296.0 370.0h1.6v1.6h-1.6z"/></g><clipPath id="c3L"><rect x="44.0" y="482.5" width="175.50" height="175.50"/></clipPath><g clip-path="url(#c3L)"><path fill="#000" d="M48.5 580.7L46.4 591.3L42.7 596.9L42.5 597.7L42.5 659.0L42.6 659.6L42.9 660.1L43.4 660.4L44.0 660.5L78.6 660.5L79.2 660.4L79.8 659.9L80.1 659.4L82.4 650.0L82.4 649.9L84.7 638.3L84.7 638.2L86.5 626.7L86.5 626.6L87.6 615.1L87.6 614.9L87.0 603.4L86.9 602.9L84.6 597.2L81.9 589.5L81.6 589.0L74.1 581.0L73.8 580.7L66.8 576.2L66.1 576.0L57.1 575.5L56.3 575.7L49.3 579.7L48.8 580.1Z"/><path fill="#fff" d="M64.2 576.0h1.1v1.1h-1.1zM67.2 575.9h1.1v1.1h-1.1zM54.1 576.8h1.1v1.1h-1.1zM56.0 577.0h1.1v1.1h-1.1zM58.2 576.9h1.1v1.1h-1.1zM52.1 577.9h1.1v1.1h-1.1zM53.2 578.2h1.1v1.1h-1.1zM57.9 577.7h1.1v1.1h-1.1zM50.9 579.1h1.1v1.1h-1.1zM60.2 579.2h1.1v1.1h-1.1zM69.2 579.0h1.1v1.1h-1.1zM57.8 580.2h1.1v1.1h-1.1zM51.0 581.1h1.1v1.1h-1.1zM72.1 582.1h1.1v1.1h-1.1zM47.9 584.7h1.1v1.1h-1.1zM71.0 585.7h1.1v1.1h-1.1zM77.7 585.9h1.1v1.1h-1.1zM46.7 587.1h1.1v1.1h-1.1zM46.1 590.9h1.1v1.1h-1.1zM80.9 591.0h1.1v1.1h-1.1zM81.9 591.0h1.1v1.1h-1.1zM82.9 591.9h1.1v1.1h-1.1zM45.8 593.1h1.1v1.1h-1.1zM82.8 592.9h1.1v1.1h-1.1zM84.0 595.1h1.1v1.1h-1.1zM47.7 599.2h1.1v1.1h-1.1zM82.7 598.8h1.1v1.1h-1.1zM86.0 599.8h1.1v1.1h-1.1zM86.1 602.2h1.1v1.1h-1.1zM85.8 603.7h1.1v1.1h-1.1zM87.1 605.2h1.1v1.1h-1.1zM87.1 614.8h1.1v1.1h-1.1zM85.8 616.2h1.1v1.1h-1.1zM86.8 616.0h1.1v1.1h-1.1zM87.7 617.0h1.1v1.1h-1.1zM86.8 621.7h1.1v1.1h-1.1zM44.8 628.7h1.1v1.1h-1.1zM85.7 630.9h1.1v1.1h-1.1zM83.1 640.9h1.1v1.1h-1.1zM46.0 642.2h1.1v1.1h-1.1zM82.8 641.7h1.1v1.1h-1.1zM83.1 643.8h1.1v1.1h-1.1zM82.9 645.0h1.1v1.1h-1.1zM83.1 645.8h1.1v1.1h-1.1zM81.9 647.1h1.1v1.1h-1.1zM82.0 648.2h1.1v1.1h-1.1zM81.1 648.7h1.1v1.1h-1.1zM45.0 650.7h1.1v1.1h-1.1zM82.1 652.0h1.1v1.1h-1.1zM80.7 653.8h1.1v1.1h-1.1z"/><path fill="#111" d="M50.8 542.6h1.7v1.7h-1.7zM49.9 549.8h1.7v1.7h-1.7zM67.9 549.7h1.7v1.7h-1.7zM68.8 550.6h1.7v1.7h-1.7zM44.8 551.5h1.7v1.7h-1.7zM54.9 551.4h1.7v1.7h-1.7zM58.9 551.7h1.7v1.7h-1.7zM54.5 552.4h1.7v1.7h-1.7zM65.8 552.4h1.7v1.7h-1.7zM44.5 553.9h1.7v1.7h-1.7zM61.8 553.7h1.7v1.7h-1.7zM44.6 554.4h1.7v1.7h-1.7zM46.6 554.5h1.7v1.7h-1.7zM47.5 554.8h1.7v1.7h-1.7zM51.5 554.7h1.7v1.7h-1.7zM52.9 554.6h1.7v1.7h-1.7zM55.9 554.5h1.7v1.7h-1.7zM57.6 554.7h1.7v1.7h-1.7zM59.8 554.9h1.7v1.7h-1.7zM44.4 555.7h1.7v1.7h-1.7zM46.7 555.8h1.7v1.7h-1.7zM48.9 555.4h1.7v1.7h-1.7zM52.6 555.8h1.7v1.7h-1.7zM55.7 555.5h1.7v1.7h-1.7zM56.8 555.8h1.7v1.7h-1.7zM58.5 555.9h1.7v1.7h-1.7zM45.4 556.7h1.7v1.7h-1.7zM46.9 556.8h1.7v1.7h-1.7zM47.6 556.6h1.7v1.7h-1.7zM50.9 556.8h1.7v1.7h-1.7zM52.6 556.4h1.7v1.7h-1.7zM53.7 556.5h1.7v1.7h-1.7zM54.5 556.8h1.7v1.7h-1.7zM58.8 556.6h1.7v1.7h-1.7zM44.5 557.6h1.7v1.7h-1.7zM45.4 557.7h1.7v1.7h-1.7zM50.4 557.8h1.7v1.7h-1.7zM51.7 557.9h1.7v1.7h-1.7zM58.9 557.4h1.7v1.7h-1.7zM61.4 557.4h1.7v1.7h-1.7zM51.5 558.7h1.7v1.7h-1.7zM53.6 558.4h1.7v1.7h-1.7zM55.7 558.8h1.7v1.7h-1.7zM58.7 558.6h1.7v1.7h-1.7zM59.9 558.6h1.7v1.7h-1.7zM60.7 558.6h1.7v1.7h-1.7zM67.7 558.6h1.7v1.7h-1.7zM44.5 559.7h1.7v1.7h-1.7zM45.4 559.8h1.7v1.7h-1.7zM49.5 559.7h1.7v1.7h-1.7zM52.4 559.5h1.7v1.7h-1.7zM55.9 559.4h1.7v1.7h-1.7zM59.4 559.4h1.7v1.7h-1.7zM60.7 559.5h1.7v1.7h-1.7zM61.8 559.6h1.7v1.7h-1.7zM63.7 559.5h1.7v1.7h-1.7zM64.5 559.7h1.7v1.7h-1.7zM55.8 560.4h1.7v1.7h-1.7zM58.9 560.8h1.7v1.7h-1.7zM60.6 560.4h1.7v1.7h-1.7zM61.6 560.4h1.7v1.7h-1.7zM62.7 560.6h1.7v1.7h-1.7zM63.4 560.8h1.7v1.7h-1.7zM64.6 560.9h1.7v1.7h-1.7zM65.5 560.6h1.7v1.7h-1.7zM67.8 560.5h1.7v1.7h-1.7zM45.8 561.4h1.7v1.7h-1.7zM52.8 561.5h1.7v1.7h-1.7zM55.9 561.6h1.7v1.7h-1.7zM63.8 561.5h1.7v1.7h-1.7zM64.4 561.6h1.7v1.7h-1.7zM67.9 561.6h1.7v1.7h-1.7zM52.4 562.4h1.7v1.7h-1.7zM53.5 562.9h1.7v1.7h-1.7zM56.6 562.4h1.7v1.7h-1.7zM60.8 562.9h1.7v1.7h-1.7zM61.6 562.7h1.7v1.7h-1.7zM64.4 562.4h1.7v1.7h-1.7zM69.4 562.4h1.7v1.7h-1.7zM48.8 563.9h1.7v1.7h-1.7zM50.4 563.4h1.7v1.7h-1.7zM52.4 563.7h1.7v1.7h-1.7zM54.4 563.6h1.7v1.7h-1.7zM60.6 563.8h1.7v1.7h-1.7zM48.7 564.7h1.7v1.7h-1.7zM49.6 564.5h1.7v1.7h-1.7zM51.6 564.6h1.7v1.7h-1.7zM59.9 564.6h1.7v1.7h-1.7zM63.4 564.6h1.7v1.7h-1.7zM64.4 564.9h1.7v1.7h-1.7zM65.4 564.8h1.7v1.7h-1.7zM67.9 564.9h1.7v1.7h-1.7zM70.9 564.9h1.7v1.7h-1.7zM73.9 564.5h1.7v1.7h-1.7zM44.7 565.5h1.7v1.7h-1.7zM46.6 565.6h1.7v1.7h-1.7zM48.8 565.5h1.7v1.7h-1.7zM54.9 565.5h1.7v1.7h-1.7zM55.8 565.4h1.7v1.7h-1.7zM60.7 565.8h1.7v1.7h-1.7zM67.5 565.5h1.7v1.7h-1.7zM69.7 565.8h1.7v1.7h-1.7zM75.8 565.7h1.7v1.7h-1.7zM45.5 566.8h1.7v1.7h-1.7zM51.9 566.9h1.7v1.7h-1.7zM55.4 566.6h1.7v1.7h-1.7zM56.8 566.5h1.7v1.7h-1.7zM59.6 566.5h1.7v1.7h-1.7zM60.9 566.9h1.7v1.7h-1.7zM61.8 566.5h1.7v1.7h-1.7zM62.4 566.4h1.7v1.7h-1.7zM66.4 566.8h1.7v1.7h-1.7zM67.4 566.6h1.7v1.7h-1.7zM44.4 567.8h1.7v1.7h-1.7zM48.9 567.6h1.7v1.7h-1.7zM59.8 567.5h1.7v1.7h-1.7zM61.5 567.5h1.7v1.7h-1.7zM63.5 567.4h1.7v1.7h-1.7zM66.7 567.8h1.7v1.7h-1.7zM67.5 567.6h1.7v1.7h-1.7zM45.8 568.9h1.7v1.7h-1.7zM46.7 568.7h1.7v1.7h-1.7zM54.7 568.4h1.7v1.7h-1.7zM58.7 568.6h1.7v1.7h-1.7zM64.6 568.5h1.7v1.7h-1.7zM65.4 568.7h1.7v1.7h-1.7zM69.8 568.4h1.7v1.7h-1.7zM70.8 568.8h1.7v1.7h-1.7zM73.8 568.7h1.7v1.7h-1.7zM74.5 568.4h1.7v1.7h-1.7zM47.8 569.8h1.7v1.7h-1.7zM51.5 569.4h1.7v1.7h-1.7zM55.4 569.4h1.7v1.7h-1.7zM56.8 569.7h1.7v1.7h-1.7zM57.6 569.7h1.7v1.7h-1.7zM60.7 569.5h1.7v1.7h-1.7zM62.8 569.4h1.7v1.7h-1.7zM63.4 569.6h1.7v1.7h-1.7zM49.5 570.9h1.7v1.7h-1.7zM51.9 570.4h1.7v1.7h-1.7zM58.7 570.7h1.7v1.7h-1.7zM60.7 570.8h1.7v1.7h-1.7zM61.8 570.8h1.7v1.7h-1.7zM62.7 570.4h1.7v1.7h-1.7zM63.4 570.7h1.7v1.7h-1.7zM69.8 570.4h1.7v1.7h-1.7zM45.6 571.6h1.7v1.7h-1.7zM48.8 571.4h1.7v1.7h-1.7zM49.8 571.4h1.7v1.7h-1.7zM59.8 571.6h1.7v1.7h-1.7zM63.7 571.5h1.7v1.7h-1.7zM80.5 571.9h1.7v1.7h-1.7zM47.6 572.7h1.7v1.7h-1.7zM52.9 572.8h1.7v1.7h-1.7zM53.5 572.8h1.7v1.7h-1.7zM58.8 572.9h1.7v1.7h-1.7zM63.8 572.8h1.7v1.7h-1.7zM68.4 572.4h1.7v1.7h-1.7zM69.5 572.4h1.7v1.7h-1.7zM73.8 572.8h1.7v1.7h-1.7zM46.6 573.7h1.7v1.7h-1.7zM47.9 573.4h1.7v1.7h-1.7zM53.9 573.9h1.7v1.7h-1.7zM57.8 573.4h1.7v1.7h-1.7zM58.4 573.7h1.7v1.7h-1.7zM59.9 573.7h1.7v1.7h-1.7zM68.6 573.5h1.7v1.7h-1.7zM72.4 573.6h1.7v1.7h-1.7zM74.9 573.6h1.7v1.7h-1.7zM45.9 574.9h1.7v1.7h-1.7zM46.8 574.4h1.7v1.7h-1.7zM49.5 574.8h1.7v1.7h-1.7zM50.8 574.8h1.7v1.7h-1.7zM53.6 574.8h1.7v1.7h-1.7zM55.7 574.6h1.7v1.7h-1.7zM56.6 574.9h1.7v1.7h-1.7zM57.4 574.9h1.7v1.7h-1.7zM59.8 574.7h1.7v1.7h-1.7zM62.9 574.4h1.7v1.7h-1.7zM64.4 574.9h1.7v1.7h-1.7zM74.5 574.5h1.7v1.7h-1.7zM75.5 574.5h1.7v1.7h-1.7zM45.4 575.9h1.7v1.7h-1.7zM46.4 575.9h1.7v1.7h-1.7zM48.8 575.7h1.7v1.7h-1.7zM49.6 575.9h1.7v1.7h-1.7zM52.4 575.9h1.7v1.7h-1.7zM54.7 575.4h1.7v1.7h-1.7zM72.6 575.8h1.7v1.7h-1.7zM45.9 576.8h1.7v1.7h-1.7zM51.9 576.6h1.7v1.7h-1.7zM69.7 576.7h1.7v1.7h-1.7zM71.9 576.7h1.7v1.7h-1.7zM73.6 576.5h1.7v1.7h-1.7zM74.5 576.4h1.7v1.7h-1.7zM45.6 577.6h1.7v1.7h-1.7zM47.5 577.8h1.7v1.7h-1.7zM49.5 577.5h1.7v1.7h-1.7zM50.5 577.7h1.7v1.7h-1.7zM71.8 577.9h1.7v1.7h-1.7zM73.4 577.7h1.7v1.7h-1.7zM74.7 577.9h1.7v1.7h-1.7zM76.7 577.9h1.7v1.7h-1.7zM78.5 577.9h1.7v1.7h-1.7zM47.5 578.7h1.7v1.7h-1.7zM48.4 578.9h1.7v1.7h-1.7zM73.4 578.8h1.7v1.7h-1.7zM77.7 578.9h1.7v1.7h-1.7zM78.4 578.6h1.7v1.7h-1.7zM44.6 579.9h1.7v1.7h-1.7zM46.4 579.4h1.7v1.7h-1.7zM79.5 579.7h1.7v1.7h-1.7zM46.8 580.4h1.7v1.7h-1.7zM82.5 580.7h1.7v1.7h-1.7zM45.7 581.7h1.7v1.7h-1.7zM76.6 581.6h1.7v1.7h-1.7zM77.4 581.9h1.7v1.7h-1.7zM44.4 582.8h1.7v1.7h-1.7zM46.6 582.5h1.7v1.7h-1.7zM87.5 582.8h1.7v1.7h-1.7zM44.5 583.6h1.7v1.7h-1.7zM46.4 583.4h1.7v1.7h-1.7zM77.8 583.4h1.7v1.7h-1.7zM80.9 583.5h1.7v1.7h-1.7zM45.7 584.4h1.7v1.7h-1.7zM46.4 584.6h1.7v1.7h-1.7zM78.9 584.6h1.7v1.7h-1.7zM79.5 584.6h1.7v1.7h-1.7zM45.5 585.9h1.7v1.7h-1.7zM80.5 585.5h1.7v1.7h-1.7zM81.7 585.8h1.7v1.7h-1.7zM44.7 586.4h1.7v1.7h-1.7zM84.7 586.7h1.7v1.7h-1.7zM44.6 587.5h1.7v1.7h-1.7zM45.5 587.5h1.7v1.7h-1.7zM44.4 589.8h1.7v1.7h-1.7zM86.6 589.6h1.7v1.7h-1.7zM91.6 589.9h1.7v1.7h-1.7zM82.7 590.4h1.7v1.7h-1.7zM83.9 590.4h1.7v1.7h-1.7zM83.9 591.8h1.7v1.7h-1.7zM88.5 591.7h1.7v1.7h-1.7zM85.4 594.4h1.7v1.7h-1.7zM86.5 595.7h1.7v1.7h-1.7zM85.6 596.9h1.7v1.7h-1.7zM87.9 597.5h1.7v1.7h-1.7zM88.4 599.5h1.7v1.7h-1.7zM88.5 602.4h1.7v1.7h-1.7zM90.5 603.8h1.7v1.7h-1.7zM88.8 604.4h1.7v1.7h-1.7zM87.5 606.6h1.7v1.7h-1.7zM89.7 609.4h1.7v1.7h-1.7zM88.8 611.7h1.7v1.7h-1.7zM89.7 611.7h1.7v1.7h-1.7zM90.8 614.7h1.7v1.7h-1.7zM90.8 615.5h1.7v1.7h-1.7zM89.8 617.4h1.7v1.7h-1.7zM88.7 621.8h1.7v1.7h-1.7zM89.5 625.9h1.7v1.7h-1.7zM87.7 626.8h1.7v1.7h-1.7zM88.4 626.6h1.7v1.7h-1.7zM89.4 627.6h1.7v1.7h-1.7zM90.5 627.7h1.7v1.7h-1.7zM88.4 629.6h1.7v1.7h-1.7zM86.4 631.7h1.7v1.7h-1.7zM89.9 634.6h1.7v1.7h-1.7zM86.6 635.9h1.7v1.7h-1.7zM84.7 640.6h1.7v1.7h-1.7zM85.4 640.9h1.7v1.7h-1.7zM86.4 641.4h1.7v1.7h-1.7zM87.7 642.6h1.7v1.7h-1.7zM90.8 642.6h1.7v1.7h-1.7z"/><path fill="#333" d="M120.2 560.4h1.6v1.6h-1.6zM111.6 565.7h1.6v1.6h-1.6zM104.1 567.7h1.6v1.6h-1.6zM115.1 567.7h1.6v1.6h-1.6zM101.0 573.8h1.6v1.6h-1.6zM76.6 541.7h1.6v1.6h-1.6zM108.5 496.7h1.6v1.6h-1.6zM68.0 506.2h1.6v1.6h-1.6z"/></g><clipPath id="c3R"><rect x="251.2" y="482.8" width="175.00" height="175.70"/></clipPath><g clip-path="url(#c3R)"><path fill="#000" d="M251.5 579.8L249.5 597.5L249.5 597.7L249.5 659.0L249.6 659.6L249.9 660.1L250.4 660.4L251.0 660.5L282.5 660.5L283.1 660.4L283.6 660.0L283.9 659.4L285.0 655.8L285.1 655.7L287.4 644.1L289.7 632.6L289.7 632.5L291.5 621.1L293.1 615.4L293.2 614.7L292.0 608.9L291.9 608.8L290.2 603.1L288.5 597.3L288.4 597.0L282.6 585.5L278.4 576.4L278.1 575.9L273.1 570.9L272.7 570.7L272.2 570.5L265.2 569.5L264.4 569.6L257.4 572.6L256.8 573.0L251.8 579.0Z"/><path fill="#fff" d="M263.8 569.9h1.1v1.1h-1.1zM267.0 570.0h1.1v1.1h-1.1zM261.8 570.7h1.1v1.1h-1.1zM269.2 570.9h1.1v1.1h-1.1zM258.9 572.1h1.1v1.1h-1.1zM269.2 572.1h1.1v1.1h-1.1zM272.1 571.7h1.1v1.1h-1.1zM272.9 572.2h1.1v1.1h-1.1zM273.8 571.7h1.1v1.1h-1.1zM259.1 572.9h1.1v1.1h-1.1zM259.7 573.1h1.1v1.1h-1.1zM256.1 573.8h1.1v1.1h-1.1zM256.8 573.8h1.1v1.1h-1.1zM261.9 573.8h1.1v1.1h-1.1zM274.7 574.2h1.1v1.1h-1.1zM275.7 574.0h1.1v1.1h-1.1zM255.2 575.0h1.1v1.1h-1.1zM255.7 574.7h1.1v1.1h-1.1zM260.0 575.1h1.1v1.1h-1.1zM272.9 574.9h1.1v1.1h-1.1zM254.0 576.0h1.1v1.1h-1.1zM259.2 575.7h1.1v1.1h-1.1zM254.2 576.8h1.1v1.1h-1.1zM253.1 578.1h1.1v1.1h-1.1zM254.0 578.2h1.1v1.1h-1.1zM255.0 578.2h1.1v1.1h-1.1zM277.8 579.1h1.1v1.1h-1.1zM278.9 580.7h1.1v1.1h-1.1zM280.8 581.7h1.1v1.1h-1.1zM273.7 582.7h1.1v1.1h-1.1zM257.0 587.7h1.1v1.1h-1.1zM283.0 588.0h1.1v1.1h-1.1zM286.1 593.1h1.1v1.1h-1.1zM287.0 595.0h1.1v1.1h-1.1zM283.1 595.9h1.1v1.1h-1.1zM284.7 596.2h1.1v1.1h-1.1zM287.1 596.0h1.1v1.1h-1.1zM282.7 597.0h1.1v1.1h-1.1zM289.2 596.7h1.1v1.1h-1.1zM254.2 607.2h1.1v1.1h-1.1zM291.8 610.2h1.1v1.1h-1.1zM292.7 613.2h1.1v1.1h-1.1zM289.8 616.9h1.1v1.1h-1.1zM292.2 616.9h1.1v1.1h-1.1zM291.2 619.9h1.1v1.1h-1.1zM290.8 620.9h1.1v1.1h-1.1zM290.7 624.2h1.1v1.1h-1.1zM253.7 625.1h1.1v1.1h-1.1zM289.0 628.2h1.1v1.1h-1.1zM289.9 628.7h1.1v1.1h-1.1zM287.8 630.8h1.1v1.1h-1.1zM285.8 636.7h1.1v1.1h-1.1zM288.8 637.0h1.1v1.1h-1.1zM287.8 638.1h1.1v1.1h-1.1zM286.9 640.2h1.1v1.1h-1.1zM286.1 640.9h1.1v1.1h-1.1zM288.2 642.1h1.1v1.1h-1.1zM287.2 642.9h1.1v1.1h-1.1zM286.0 644.1h1.1v1.1h-1.1zM283.0 647.1h1.1v1.1h-1.1zM285.2 654.0h1.1v1.1h-1.1zM284.0 654.8h1.1v1.1h-1.1zM252.9 656.1h1.1v1.1h-1.1z"/><path fill="#111" d="M266.5 547.5h1.7v1.7h-1.7zM262.9 549.9h1.7v1.7h-1.7zM259.8 550.5h1.7v1.7h-1.7zM259.7 551.6h1.7v1.7h-1.7zM263.6 551.4h1.7v1.7h-1.7zM264.4 551.9h1.7v1.7h-1.7zM256.9 552.9h1.7v1.7h-1.7zM272.4 552.5h1.7v1.7h-1.7zM254.4 553.8h1.7v1.7h-1.7zM258.6 554.7h1.7v1.7h-1.7zM259.5 554.8h1.7v1.7h-1.7zM260.6 554.9h1.7v1.7h-1.7zM261.6 554.7h1.7v1.7h-1.7zM265.7 554.5h1.7v1.7h-1.7zM256.9 555.9h1.7v1.7h-1.7zM257.9 556.5h1.7v1.7h-1.7zM268.6 556.6h1.7v1.7h-1.7zM272.8 556.8h1.7v1.7h-1.7zM253.5 557.5h1.7v1.7h-1.7zM257.9 557.7h1.7v1.7h-1.7zM260.5 557.9h1.7v1.7h-1.7zM262.4 557.6h1.7v1.7h-1.7zM264.7 557.9h1.7v1.7h-1.7zM254.5 558.5h1.7v1.7h-1.7zM260.4 558.4h1.7v1.7h-1.7zM261.6 558.6h1.7v1.7h-1.7zM264.6 558.9h1.7v1.7h-1.7zM267.8 558.4h1.7v1.7h-1.7zM270.7 558.6h1.7v1.7h-1.7zM253.8 559.4h1.7v1.7h-1.7zM255.4 559.9h1.7v1.7h-1.7zM258.7 559.7h1.7v1.7h-1.7zM268.7 559.6h1.7v1.7h-1.7zM254.4 560.5h1.7v1.7h-1.7zM256.6 560.8h1.7v1.7h-1.7zM257.8 560.7h1.7v1.7h-1.7zM259.8 560.6h1.7v1.7h-1.7zM269.7 560.7h1.7v1.7h-1.7zM253.4 561.4h1.7v1.7h-1.7zM256.7 561.8h1.7v1.7h-1.7zM261.9 561.4h1.7v1.7h-1.7zM264.9 561.5h1.7v1.7h-1.7zM266.8 561.4h1.7v1.7h-1.7zM267.6 561.6h1.7v1.7h-1.7zM271.4 561.8h1.7v1.7h-1.7zM273.4 561.8h1.7v1.7h-1.7zM256.4 562.8h1.7v1.7h-1.7zM257.5 562.4h1.7v1.7h-1.7zM259.4 562.5h1.7v1.7h-1.7zM261.4 562.7h1.7v1.7h-1.7zM262.7 562.7h1.7v1.7h-1.7zM263.4 562.8h1.7v1.7h-1.7zM264.9 562.9h1.7v1.7h-1.7zM270.4 562.9h1.7v1.7h-1.7zM272.5 562.9h1.7v1.7h-1.7zM255.9 563.4h1.7v1.7h-1.7zM260.5 563.8h1.7v1.7h-1.7zM261.4 563.7h1.7v1.7h-1.7zM262.7 563.9h1.7v1.7h-1.7zM264.6 563.4h1.7v1.7h-1.7zM269.7 563.7h1.7v1.7h-1.7zM255.6 564.5h1.7v1.7h-1.7zM261.7 564.5h1.7v1.7h-1.7zM265.7 564.4h1.7v1.7h-1.7zM267.8 564.7h1.7v1.7h-1.7zM268.6 564.7h1.7v1.7h-1.7zM269.6 564.5h1.7v1.7h-1.7zM270.6 564.7h1.7v1.7h-1.7zM276.4 564.9h1.7v1.7h-1.7zM253.7 565.4h1.7v1.7h-1.7zM254.7 565.6h1.7v1.7h-1.7zM268.7 565.7h1.7v1.7h-1.7zM269.8 565.9h1.7v1.7h-1.7zM272.4 565.8h1.7v1.7h-1.7zM273.5 565.7h1.7v1.7h-1.7zM280.5 565.5h1.7v1.7h-1.7zM252.7 566.6h1.7v1.7h-1.7zM254.9 566.6h1.7v1.7h-1.7zM256.7 566.8h1.7v1.7h-1.7zM258.9 566.9h1.7v1.7h-1.7zM261.5 566.5h1.7v1.7h-1.7zM263.7 566.4h1.7v1.7h-1.7zM267.6 566.4h1.7v1.7h-1.7zM268.6 566.6h1.7v1.7h-1.7zM269.8 566.9h1.7v1.7h-1.7zM270.9 566.9h1.7v1.7h-1.7zM272.9 566.7h1.7v1.7h-1.7zM274.9 566.7h1.7v1.7h-1.7zM275.8 566.6h1.7v1.7h-1.7zM253.4 567.5h1.7v1.7h-1.7zM256.7 567.8h1.7v1.7h-1.7zM269.6 567.4h1.7v1.7h-1.7zM272.8 567.8h1.7v1.7h-1.7zM273.5 567.5h1.7v1.7h-1.7zM277.5 567.4h1.7v1.7h-1.7zM252.8 568.7h1.7v1.7h-1.7zM258.4 568.5h1.7v1.7h-1.7zM259.4 568.5h1.7v1.7h-1.7zM262.6 568.5h1.7v1.7h-1.7zM264.4 568.6h1.7v1.7h-1.7zM268.4 568.4h1.7v1.7h-1.7zM269.6 568.5h1.7v1.7h-1.7zM270.9 568.8h1.7v1.7h-1.7zM274.5 568.8h1.7v1.7h-1.7zM275.6 568.5h1.7v1.7h-1.7zM278.9 568.4h1.7v1.7h-1.7zM253.7 569.7h1.7v1.7h-1.7zM255.8 569.7h1.7v1.7h-1.7zM261.6 569.7h1.7v1.7h-1.7zM268.9 569.8h1.7v1.7h-1.7zM274.8 569.6h1.7v1.7h-1.7zM253.6 570.9h1.7v1.7h-1.7zM256.8 570.6h1.7v1.7h-1.7zM257.9 570.4h1.7v1.7h-1.7zM258.4 570.8h1.7v1.7h-1.7zM259.9 570.5h1.7v1.7h-1.7zM273.7 570.6h1.7v1.7h-1.7zM252.7 571.9h1.7v1.7h-1.7zM254.4 571.8h1.7v1.7h-1.7zM257.9 571.5h1.7v1.7h-1.7zM274.5 571.4h1.7v1.7h-1.7zM275.4 571.4h1.7v1.7h-1.7zM276.8 571.6h1.7v1.7h-1.7zM277.5 571.4h1.7v1.7h-1.7zM278.4 571.8h1.7v1.7h-1.7zM279.8 571.8h1.7v1.7h-1.7zM253.8 572.7h1.7v1.7h-1.7zM275.7 572.6h1.7v1.7h-1.7zM279.6 572.6h1.7v1.7h-1.7zM281.7 572.6h1.7v1.7h-1.7zM276.5 573.9h1.7v1.7h-1.7zM277.7 573.8h1.7v1.7h-1.7zM279.7 573.7h1.7v1.7h-1.7zM282.4 574.7h1.7v1.7h-1.7zM252.4 575.6h1.7v1.7h-1.7zM280.7 575.8h1.7v1.7h-1.7zM278.5 576.9h1.7v1.7h-1.7zM280.5 576.7h1.7v1.7h-1.7zM284.4 576.5h1.7v1.7h-1.7zM281.9 577.9h1.7v1.7h-1.7zM280.4 579.6h1.7v1.7h-1.7zM281.4 579.8h1.7v1.7h-1.7zM286.9 579.9h1.7v1.7h-1.7zM280.6 580.4h1.7v1.7h-1.7zM281.4 580.5h1.7v1.7h-1.7zM282.6 580.9h1.7v1.7h-1.7zM287.9 580.4h1.7v1.7h-1.7zM281.7 581.9h1.7v1.7h-1.7zM283.6 582.9h1.7v1.7h-1.7zM282.8 583.7h1.7v1.7h-1.7zM288.4 586.9h1.7v1.7h-1.7zM284.9 588.5h1.7v1.7h-1.7zM286.5 589.7h1.7v1.7h-1.7zM287.4 592.5h1.7v1.7h-1.7zM289.6 593.9h1.7v1.7h-1.7zM291.6 599.7h1.7v1.7h-1.7zM292.7 599.6h1.7v1.7h-1.7zM294.4 599.8h1.7v1.7h-1.7zM291.6 600.9h1.7v1.7h-1.7zM291.9 601.4h1.7v1.7h-1.7zM290.6 602.4h1.7v1.7h-1.7zM293.8 605.9h1.7v1.7h-1.7zM295.6 606.4h1.7v1.7h-1.7zM293.4 607.7h1.7v1.7h-1.7zM294.7 607.6h1.7v1.7h-1.7zM292.6 608.6h1.7v1.7h-1.7zM293.7 608.8h1.7v1.7h-1.7zM292.7 609.5h1.7v1.7h-1.7zM293.5 609.4h1.7v1.7h-1.7zM295.4 609.7h1.7v1.7h-1.7zM297.4 610.6h1.7v1.7h-1.7zM295.8 614.7h1.7v1.7h-1.7zM301.4 614.7h1.7v1.7h-1.7zM292.6 616.8h1.7v1.7h-1.7zM296.9 616.7h1.7v1.7h-1.7zM291.7 620.5h1.7v1.7h-1.7zM291.9 624.5h1.7v1.7h-1.7zM292.7 626.8h1.7v1.7h-1.7zM291.4 627.7h1.7v1.7h-1.7zM291.8 631.8h1.7v1.7h-1.7zM293.6 631.4h1.7v1.7h-1.7zM291.6 634.6h1.7v1.7h-1.7zM289.9 639.7h1.7v1.7h-1.7zM288.4 640.6h1.7v1.7h-1.7zM288.9 641.4h1.7v1.7h-1.7zM287.4 642.9h1.7v1.7h-1.7zM287.7 645.6h1.7v1.7h-1.7zM289.9 645.4h1.7v1.7h-1.7zM290.9 645.6h1.7v1.7h-1.7zM286.6 651.8h1.7v1.7h-1.7zM285.6 652.5h1.7v1.7h-1.7zM287.7 653.6h1.7v1.7h-1.7zM302.8 653.7h1.7v1.7h-1.7z"/><path fill="#333" d="M300.6 561.0h1.6v1.6h-1.6zM306.8 561.0h1.6v1.6h-1.6zM299.4 564.6h1.6v1.6h-1.6zM317.6 558.6h1.6v1.6h-1.6zM322.8 556.8h1.6v1.6h-1.6zM329.3 553.2h1.6v1.6h-1.6zM354.8 554.6h1.6v1.6h-1.6zM314.1 566.2h1.6v1.6h-1.6zM319.3 565.8h1.6v1.6h-1.6zM321.9 562.4h1.6v1.6h-1.6zM326.2 564.1h1.6v1.6h-1.6zM327.9 561.0h1.6v1.6h-1.6zM331.4 564.1h1.6v1.6h-1.6zM313.2 569.3h1.6v1.6h-1.6zM315.8 571.9h1.6v1.6h-1.6zM322.8 571.0h1.6v1.6h-1.6zM325.4 570.2h1.6v1.6h-1.6zM329.7 570.5h1.6v1.6h-1.6zM324.2 574.0h1.6v1.6h-1.6zM350.4 571.4h1.6v1.6h-1.6zM304.6 578.8h1.6v1.6h-1.6zM306.8 577.1h1.6v1.6h-1.6zM311.0 578.8h1.6v1.6h-1.6zM311.5 589.5h1.6v1.6h-1.6zM304.9 595.8h1.6v1.6h-1.6zM308.9 598.7h1.6v1.6h-1.6zM372.1 594.4h1.6v1.6h-1.6z"/></g><clipPath id="c4L"><rect x="46.9" y="684.5" width="176.10" height="175.00"/></clipPath><g clip-path="url(#c4L)"><path fill="#000" d="M51.9 807.0L49.9 808.9L49.6 809.4L49.5 810.0L49.4 819.2L48.8 830.7L48.8 830.8L48.5 842.2L47.7 853.7L47.7 853.8L47.7 860.0L47.8 860.6L48.1 861.1L48.6 861.4L49.2 861.5L82.0 861.5L82.5 861.4L83.0 861.2L83.3 860.8L83.5 860.3L84.7 854.1L84.7 854.0L85.9 842.5L85.9 842.4L87.0 830.9L87.0 830.8L87.0 819.2L87.0 819.1L86.5 809.9L86.5 809.8L85.9 805.8L85.7 805.3L85.4 804.9L82.0 801.9L81.9 801.8L76.9 797.8L76.4 797.5L70.4 796.0L69.8 796.0L62.8 797.0L62.2 797.3L56.2 801.3L55.8 801.6Z"/><path fill="#fff" d="M59.8 797.7h1.1v1.1h-1.1zM63.7 797.9h1.1v1.1h-1.1zM65.9 798.2h1.1v1.1h-1.1zM72.2 797.9h1.1v1.1h-1.1zM75.8 797.8h1.1v1.1h-1.1zM61.8 799.1h1.1v1.1h-1.1zM68.1 798.8h1.1v1.1h-1.1zM56.8 800.0h1.1v1.1h-1.1zM57.9 800.1h1.1v1.1h-1.1zM58.9 800.2h1.1v1.1h-1.1zM74.9 799.9h1.1v1.1h-1.1zM80.1 800.1h1.1v1.1h-1.1zM74.0 800.9h1.1v1.1h-1.1zM80.9 800.9h1.1v1.1h-1.1zM54.7 803.0h1.1v1.1h-1.1zM55.7 802.8h1.1v1.1h-1.1zM80.2 803.2h1.1v1.1h-1.1zM54.7 804.1h1.1v1.1h-1.1zM79.7 804.2h1.1v1.1h-1.1zM58.1 805.1h1.1v1.1h-1.1zM81.7 805.2h1.1v1.1h-1.1zM84.8 804.8h1.1v1.1h-1.1zM85.9 804.7h1.1v1.1h-1.1zM55.8 805.9h1.1v1.1h-1.1zM49.9 809.9h1.1v1.1h-1.1zM87.1 810.0h1.1v1.1h-1.1zM50.8 813.2h1.1v1.1h-1.1zM86.9 818.0h1.1v1.1h-1.1zM49.1 821.2h1.1v1.1h-1.1zM51.7 821.0h1.1v1.1h-1.1zM48.7 824.8h1.1v1.1h-1.1zM49.8 826.2h1.1v1.1h-1.1zM86.8 826.2h1.1v1.1h-1.1zM49.0 832.1h1.1v1.1h-1.1zM85.8 831.8h1.1v1.1h-1.1zM83.1 833.1h1.1v1.1h-1.1zM84.1 836.2h1.1v1.1h-1.1zM87.2 835.9h1.1v1.1h-1.1zM85.9 838.2h1.1v1.1h-1.1zM85.8 839.2h1.1v1.1h-1.1zM86.2 843.0h1.1v1.1h-1.1zM49.1 845.1h1.1v1.1h-1.1zM49.8 845.8h1.1v1.1h-1.1zM51.0 846.2h1.1v1.1h-1.1zM85.9 846.1h1.1v1.1h-1.1zM49.0 847.1h1.1v1.1h-1.1zM48.7 847.9h1.1v1.1h-1.1zM84.0 848.7h1.1v1.1h-1.1zM48.1 849.8h1.1v1.1h-1.1zM48.8 849.7h1.1v1.1h-1.1zM48.2 852.8h1.1v1.1h-1.1zM81.8 853.0h1.1v1.1h-1.1zM83.8 854.0h1.1v1.1h-1.1zM48.0 854.7h1.1v1.1h-1.1zM47.7 856.1h1.1v1.1h-1.1zM85.2 855.9h1.1v1.1h-1.1z"/><path fill="#111" d="M63.8 762.4h1.7v1.7h-1.7zM72.8 763.5h1.7v1.7h-1.7zM57.4 764.5h1.7v1.7h-1.7zM59.6 764.5h1.7v1.7h-1.7zM62.8 765.7h1.7v1.7h-1.7zM67.8 765.8h1.7v1.7h-1.7zM63.4 766.8h1.7v1.7h-1.7zM64.9 766.4h1.7v1.7h-1.7zM66.5 767.4h1.7v1.7h-1.7zM70.4 767.5h1.7v1.7h-1.7zM63.5 768.7h1.7v1.7h-1.7zM65.5 768.7h1.7v1.7h-1.7zM69.4 768.9h1.7v1.7h-1.7zM54.9 769.9h1.7v1.7h-1.7zM57.8 769.8h1.7v1.7h-1.7zM66.9 769.4h1.7v1.7h-1.7zM69.6 769.7h1.7v1.7h-1.7zM61.5 771.4h1.7v1.7h-1.7zM71.6 771.7h1.7v1.7h-1.7zM77.8 771.9h1.7v1.7h-1.7zM57.4 772.8h1.7v1.7h-1.7zM63.9 772.6h1.7v1.7h-1.7zM68.8 772.9h1.7v1.7h-1.7zM72.7 772.6h1.7v1.7h-1.7zM57.5 773.4h1.7v1.7h-1.7zM61.6 773.9h1.7v1.7h-1.7zM64.5 773.8h1.7v1.7h-1.7zM70.7 773.9h1.7v1.7h-1.7zM73.4 773.4h1.7v1.7h-1.7zM75.9 773.8h1.7v1.7h-1.7zM57.9 774.5h1.7v1.7h-1.7zM68.4 774.6h1.7v1.7h-1.7zM73.8 774.8h1.7v1.7h-1.7zM75.7 774.8h1.7v1.7h-1.7zM59.8 775.6h1.7v1.7h-1.7zM60.8 775.9h1.7v1.7h-1.7zM73.4 775.5h1.7v1.7h-1.7zM74.5 775.9h1.7v1.7h-1.7zM59.8 776.5h1.7v1.7h-1.7zM66.7 776.5h1.7v1.7h-1.7zM71.8 776.6h1.7v1.7h-1.7zM72.4 776.9h1.7v1.7h-1.7zM75.5 776.4h1.7v1.7h-1.7zM76.8 776.5h1.7v1.7h-1.7zM77.7 776.4h1.7v1.7h-1.7zM55.4 777.9h1.7v1.7h-1.7zM63.9 777.5h1.7v1.7h-1.7zM59.8 778.5h1.7v1.7h-1.7zM70.6 778.9h1.7v1.7h-1.7zM76.8 778.6h1.7v1.7h-1.7zM80.9 778.6h1.7v1.7h-1.7zM59.4 779.6h1.7v1.7h-1.7zM62.5 779.5h1.7v1.7h-1.7zM63.4 779.9h1.7v1.7h-1.7zM60.6 780.7h1.7v1.7h-1.7zM68.5 780.9h1.7v1.7h-1.7zM78.8 780.7h1.7v1.7h-1.7zM61.5 781.8h1.7v1.7h-1.7zM59.9 782.6h1.7v1.7h-1.7zM60.7 782.4h1.7v1.7h-1.7zM66.9 782.4h1.7v1.7h-1.7zM67.5 782.5h1.7v1.7h-1.7zM78.5 782.9h1.7v1.7h-1.7zM63.5 783.9h1.7v1.7h-1.7zM64.7 783.7h1.7v1.7h-1.7zM67.4 783.9h1.7v1.7h-1.7zM72.9 783.9h1.7v1.7h-1.7zM75.5 783.6h1.7v1.7h-1.7zM52.8 784.9h1.7v1.7h-1.7zM54.4 784.9h1.7v1.7h-1.7zM56.7 784.8h1.7v1.7h-1.7zM60.8 784.8h1.7v1.7h-1.7zM61.5 784.9h1.7v1.7h-1.7zM63.4 784.7h1.7v1.7h-1.7zM51.6 785.9h1.7v1.7h-1.7zM53.5 785.4h1.7v1.7h-1.7zM54.4 785.6h1.7v1.7h-1.7zM55.6 785.8h1.7v1.7h-1.7zM60.5 785.5h1.7v1.7h-1.7zM72.9 785.4h1.7v1.7h-1.7zM80.4 785.6h1.7v1.7h-1.7zM59.6 786.4h1.7v1.7h-1.7zM54.8 787.8h1.7v1.7h-1.7zM56.9 787.6h1.7v1.7h-1.7zM59.8 787.7h1.7v1.7h-1.7zM64.4 787.5h1.7v1.7h-1.7zM74.9 787.6h1.7v1.7h-1.7zM78.9 787.4h1.7v1.7h-1.7zM57.9 788.4h1.7v1.7h-1.7zM67.7 788.8h1.7v1.7h-1.7zM78.8 788.9h1.7v1.7h-1.7zM87.5 788.7h1.7v1.7h-1.7zM55.6 789.4h1.7v1.7h-1.7zM63.8 789.7h1.7v1.7h-1.7zM72.7 789.5h1.7v1.7h-1.7zM56.7 790.8h1.7v1.7h-1.7zM58.7 790.7h1.7v1.7h-1.7zM78.9 790.8h1.7v1.7h-1.7zM50.7 791.4h1.7v1.7h-1.7zM61.5 791.9h1.7v1.7h-1.7zM62.9 791.6h1.7v1.7h-1.7zM68.5 791.4h1.7v1.7h-1.7zM55.6 792.7h1.7v1.7h-1.7zM59.5 792.5h1.7v1.7h-1.7zM74.9 792.5h1.7v1.7h-1.7zM52.8 793.4h1.7v1.7h-1.7zM60.4 793.4h1.7v1.7h-1.7zM62.9 793.5h1.7v1.7h-1.7zM67.5 793.4h1.7v1.7h-1.7zM71.8 793.4h1.7v1.7h-1.7zM73.9 793.9h1.7v1.7h-1.7zM78.4 793.7h1.7v1.7h-1.7zM80.8 793.6h1.7v1.7h-1.7zM56.8 794.4h1.7v1.7h-1.7zM57.7 794.6h1.7v1.7h-1.7zM78.4 794.9h1.7v1.7h-1.7zM80.7 794.6h1.7v1.7h-1.7zM51.7 795.9h1.7v1.7h-1.7zM56.5 795.6h1.7v1.7h-1.7zM58.9 795.4h1.7v1.7h-1.7zM61.8 795.4h1.7v1.7h-1.7zM62.9 795.8h1.7v1.7h-1.7zM73.6 795.9h1.7v1.7h-1.7zM74.4 795.9h1.7v1.7h-1.7zM49.5 796.9h1.7v1.7h-1.7zM75.7 796.5h1.7v1.7h-1.7zM76.8 796.6h1.7v1.7h-1.7zM77.8 796.4h1.7v1.7h-1.7zM81.6 796.7h1.7v1.7h-1.7zM48.7 797.9h1.7v1.7h-1.7zM50.8 797.9h1.7v1.7h-1.7zM58.6 797.9h1.7v1.7h-1.7zM78.8 797.5h1.7v1.7h-1.7zM48.6 798.5h1.7v1.7h-1.7zM57.6 798.5h1.7v1.7h-1.7zM50.8 799.9h1.7v1.7h-1.7zM80.4 799.7h1.7v1.7h-1.7zM85.5 799.4h1.7v1.7h-1.7zM87.4 799.6h1.7v1.7h-1.7zM53.6 801.6h1.7v1.7h-1.7zM54.5 801.4h1.7v1.7h-1.7zM86.4 801.6h1.7v1.7h-1.7zM49.6 804.9h1.7v1.7h-1.7zM51.4 804.6h1.7v1.7h-1.7zM52.7 804.5h1.7v1.7h-1.7zM47.7 805.8h1.7v1.7h-1.7zM47.5 806.5h1.7v1.7h-1.7zM88.7 807.5h1.7v1.7h-1.7zM48.5 808.5h1.7v1.7h-1.7zM48.6 810.8h1.7v1.7h-1.7zM87.9 810.4h1.7v1.7h-1.7zM88.8 810.5h1.7v1.7h-1.7zM88.8 811.9h1.7v1.7h-1.7zM47.5 813.8h1.7v1.7h-1.7zM47.6 814.7h1.7v1.7h-1.7zM87.4 815.9h1.7v1.7h-1.7zM47.6 817.5h1.7v1.7h-1.7zM47.6 819.5h1.7v1.7h-1.7zM91.6 822.5h1.7v1.7h-1.7zM47.9 823.9h1.7v1.7h-1.7zM87.7 823.6h1.7v1.7h-1.7zM47.8 824.5h1.7v1.7h-1.7zM87.4 824.9h1.7v1.7h-1.7zM92.6 825.8h1.7v1.7h-1.7zM87.6 826.9h1.7v1.7h-1.7zM88.6 827.6h1.7v1.7h-1.7zM92.6 827.7h1.7v1.7h-1.7zM47.4 828.9h1.7v1.7h-1.7zM87.4 832.5h1.7v1.7h-1.7zM47.9 833.7h1.7v1.7h-1.7zM47.7 834.5h1.7v1.7h-1.7zM47.7 835.8h1.7v1.7h-1.7zM87.9 836.8h1.7v1.7h-1.7zM91.7 838.9h1.7v1.7h-1.7zM86.8 839.9h1.7v1.7h-1.7zM86.4 840.9h1.7v1.7h-1.7zM88.6 840.5h1.7v1.7h-1.7zM86.5 846.9h1.7v1.7h-1.7zM87.8 846.5h1.7v1.7h-1.7zM89.4 846.9h1.7v1.7h-1.7zM87.7 847.4h1.7v1.7h-1.7zM90.4 847.6h1.7v1.7h-1.7zM85.4 848.4h1.7v1.7h-1.7zM86.5 850.6h1.7v1.7h-1.7zM88.5 850.8h1.7v1.7h-1.7zM85.4 851.9h1.7v1.7h-1.7zM84.7 856.9h1.7v1.7h-1.7z"/><path fill="#333" d="M116.7 773.8h1.6v1.6h-1.6zM114.8 777.1h1.6v1.6h-1.6zM120.4 777.1h1.6v1.6h-1.6zM108.0 779.0h1.6v1.6h-1.6zM88.2 767.2h1.6v1.6h-1.6zM91.2 774.2h1.6v1.6h-1.6z"/></g><clipPath id="c4R"><rect x="252.4" y="683.6" width="175.80" height="175.70"/></clipPath><g clip-path="url(#c4R)"><path fill="#000" d="M266.2 795.1L260.4 800.8L260.4 800.8L254.7 806.6L254.4 807.1L254.3 807.5L253.1 819.0L253.1 819.2L253.1 842.2L252.0 853.6L251.0 859.8L251.1 860.4L251.4 861.0L251.9 861.4L252.5 861.5L284.6 861.5L285.1 861.4L285.6 861.2L285.9 860.8L286.1 860.3L287.3 854.1L287.3 853.9L288.4 842.4L288.4 842.3L288.4 819.2L288.4 818.9L286.1 807.4L286.0 807.1L283.7 801.3L283.6 801.1L280.1 795.4L279.5 794.9L273.7 791.7L273.2 791.5L272.7 791.5L272.3 791.7L266.6 794.9Z"/><path fill="#fff" d="M273.9 792.0h1.1v1.1h-1.1zM264.8 795.9h1.1v1.1h-1.1zM262.9 797.8h1.1v1.1h-1.1zM261.1 799.7h1.1v1.1h-1.1zM261.8 799.8h1.1v1.1h-1.1zM260.9 801.2h1.1v1.1h-1.1zM283.8 800.8h1.1v1.1h-1.1zM268.0 801.9h1.1v1.1h-1.1zM259.7 802.8h1.1v1.1h-1.1zM285.0 803.8h1.1v1.1h-1.1zM256.8 804.9h1.1v1.1h-1.1zM285.0 804.8h1.1v1.1h-1.1zM259.1 806.0h1.1v1.1h-1.1zM253.9 806.9h1.1v1.1h-1.1zM254.2 808.7h1.1v1.1h-1.1zM283.2 809.0h1.1v1.1h-1.1zM285.9 809.0h1.1v1.1h-1.1zM255.0 811.1h1.1v1.1h-1.1zM286.1 812.2h1.1v1.1h-1.1zM286.7 812.7h1.1v1.1h-1.1zM253.8 813.9h1.1v1.1h-1.1zM285.1 813.8h1.1v1.1h-1.1zM287.1 816.7h1.1v1.1h-1.1zM254.0 821.2h1.1v1.1h-1.1zM287.0 821.1h1.1v1.1h-1.1zM254.0 821.9h1.1v1.1h-1.1zM255.0 824.0h1.1v1.1h-1.1zM288.2 825.8h1.1v1.1h-1.1zM285.8 828.8h1.1v1.1h-1.1zM286.9 829.0h1.1v1.1h-1.1zM287.7 830.7h1.1v1.1h-1.1zM254.1 832.1h1.1v1.1h-1.1zM287.8 832.1h1.1v1.1h-1.1zM287.0 833.8h1.1v1.1h-1.1zM284.2 835.2h1.1v1.1h-1.1zM254.1 842.2h1.1v1.1h-1.1zM284.8 841.8h1.1v1.1h-1.1zM283.7 842.8h1.1v1.1h-1.1zM288.1 842.8h1.1v1.1h-1.1zM254.1 844.8h1.1v1.1h-1.1zM288.2 845.2h1.1v1.1h-1.1zM287.9 845.7h1.1v1.1h-1.1zM253.8 849.2h1.1v1.1h-1.1zM287.0 850.1h1.1v1.1h-1.1zM255.2 852.9h1.1v1.1h-1.1zM284.8 852.7h1.1v1.1h-1.1zM283.7 854.0h1.1v1.1h-1.1zM286.7 853.9h1.1v1.1h-1.1zM254.2 855.0h1.1v1.1h-1.1zM279.9 856.2h1.1v1.1h-1.1zM284.8 857.0h1.1v1.1h-1.1z"/><path fill="#111" d="M254.6 760.8h1.7v1.7h-1.7zM275.5 760.9h1.7v1.7h-1.7zM263.5 761.9h1.7v1.7h-1.7zM268.5 761.5h1.7v1.7h-1.7zM258.6 762.4h1.7v1.7h-1.7zM266.5 763.8h1.7v1.7h-1.7zM260.6 764.9h1.7v1.7h-1.7zM266.8 764.7h1.7v1.7h-1.7zM257.4 765.7h1.7v1.7h-1.7zM258.4 765.5h1.7v1.7h-1.7zM269.8 765.4h1.7v1.7h-1.7zM262.8 766.4h1.7v1.7h-1.7zM264.6 766.9h1.7v1.7h-1.7zM270.7 766.6h1.7v1.7h-1.7zM262.7 767.7h1.7v1.7h-1.7zM269.4 767.4h1.7v1.7h-1.7zM279.7 767.9h1.7v1.7h-1.7zM253.7 768.6h1.7v1.7h-1.7zM258.4 768.7h1.7v1.7h-1.7zM260.4 768.4h1.7v1.7h-1.7zM270.7 768.7h1.7v1.7h-1.7zM272.5 768.8h1.7v1.7h-1.7zM284.9 768.9h1.7v1.7h-1.7zM260.6 769.9h1.7v1.7h-1.7zM267.7 769.5h1.7v1.7h-1.7zM269.4 769.5h1.7v1.7h-1.7zM270.9 769.9h1.7v1.7h-1.7zM272.9 769.4h1.7v1.7h-1.7zM261.6 770.6h1.7v1.7h-1.7zM265.6 770.5h1.7v1.7h-1.7zM280.7 770.9h1.7v1.7h-1.7zM262.5 771.5h1.7v1.7h-1.7zM263.8 771.9h1.7v1.7h-1.7zM267.6 771.6h1.7v1.7h-1.7zM272.5 771.9h1.7v1.7h-1.7zM273.5 771.7h1.7v1.7h-1.7zM275.7 771.5h1.7v1.7h-1.7zM280.7 771.7h1.7v1.7h-1.7zM281.6 771.8h1.7v1.7h-1.7zM256.4 772.7h1.7v1.7h-1.7zM261.7 772.6h1.7v1.7h-1.7zM268.4 772.8h1.7v1.7h-1.7zM271.6 772.5h1.7v1.7h-1.7zM278.7 772.8h1.7v1.7h-1.7zM280.8 772.8h1.7v1.7h-1.7zM263.9 773.6h1.7v1.7h-1.7zM272.8 773.4h1.7v1.7h-1.7zM263.5 774.7h1.7v1.7h-1.7zM270.4 774.8h1.7v1.7h-1.7zM276.9 774.4h1.7v1.7h-1.7zM279.7 774.9h1.7v1.7h-1.7zM267.8 775.9h1.7v1.7h-1.7zM279.8 775.9h1.7v1.7h-1.7zM284.4 775.8h1.7v1.7h-1.7zM285.4 775.8h1.7v1.7h-1.7zM257.6 776.5h1.7v1.7h-1.7zM265.8 776.7h1.7v1.7h-1.7zM267.4 776.4h1.7v1.7h-1.7zM268.8 776.5h1.7v1.7h-1.7zM281.6 776.9h1.7v1.7h-1.7zM267.8 777.6h1.7v1.7h-1.7zM273.5 777.6h1.7v1.7h-1.7zM277.8 777.9h1.7v1.7h-1.7zM257.6 778.8h1.7v1.7h-1.7zM259.7 778.8h1.7v1.7h-1.7zM273.7 778.4h1.7v1.7h-1.7zM274.7 778.7h1.7v1.7h-1.7zM275.9 778.4h1.7v1.7h-1.7zM277.5 778.4h1.7v1.7h-1.7zM261.9 779.5h1.7v1.7h-1.7zM277.4 779.8h1.7v1.7h-1.7zM258.4 780.9h1.7v1.7h-1.7zM261.7 780.4h1.7v1.7h-1.7zM274.4 780.9h1.7v1.7h-1.7zM268.7 781.8h1.7v1.7h-1.7zM273.7 781.7h1.7v1.7h-1.7zM277.5 781.8h1.7v1.7h-1.7zM285.6 781.9h1.7v1.7h-1.7zM287.4 781.5h1.7v1.7h-1.7zM253.9 782.9h1.7v1.7h-1.7zM257.7 782.7h1.7v1.7h-1.7zM258.7 782.6h1.7v1.7h-1.7zM261.4 782.6h1.7v1.7h-1.7zM270.6 782.5h1.7v1.7h-1.7zM279.4 782.7h1.7v1.7h-1.7zM260.5 783.7h1.7v1.7h-1.7zM264.9 783.4h1.7v1.7h-1.7zM266.5 783.4h1.7v1.7h-1.7zM280.9 783.5h1.7v1.7h-1.7zM256.4 784.4h1.7v1.7h-1.7zM264.5 784.4h1.7v1.7h-1.7zM271.7 784.5h1.7v1.7h-1.7zM272.9 784.9h1.7v1.7h-1.7zM276.5 784.5h1.7v1.7h-1.7zM277.4 784.7h1.7v1.7h-1.7zM285.4 784.8h1.7v1.7h-1.7zM287.4 785.9h1.7v1.7h-1.7zM259.4 786.7h1.7v1.7h-1.7zM264.9 786.7h1.7v1.7h-1.7zM265.8 786.5h1.7v1.7h-1.7zM271.7 786.5h1.7v1.7h-1.7zM274.6 786.6h1.7v1.7h-1.7zM279.9 786.9h1.7v1.7h-1.7zM288.8 786.8h1.7v1.7h-1.7zM254.7 787.9h1.7v1.7h-1.7zM270.5 787.6h1.7v1.7h-1.7zM274.6 787.4h1.7v1.7h-1.7zM288.4 787.8h1.7v1.7h-1.7zM291.4 787.4h1.7v1.7h-1.7zM257.8 788.7h1.7v1.7h-1.7zM258.8 788.9h1.7v1.7h-1.7zM272.9 788.5h1.7v1.7h-1.7zM276.4 788.8h1.7v1.7h-1.7zM279.4 788.6h1.7v1.7h-1.7zM281.9 788.5h1.7v1.7h-1.7zM282.6 788.7h1.7v1.7h-1.7zM289.6 788.7h1.7v1.7h-1.7zM267.7 789.8h1.7v1.7h-1.7zM269.6 789.5h1.7v1.7h-1.7zM271.7 789.8h1.7v1.7h-1.7zM272.4 789.7h1.7v1.7h-1.7zM273.8 789.8h1.7v1.7h-1.7zM275.8 789.4h1.7v1.7h-1.7zM278.4 789.6h1.7v1.7h-1.7zM281.5 789.6h1.7v1.7h-1.7zM258.8 790.4h1.7v1.7h-1.7zM274.7 790.8h1.7v1.7h-1.7zM275.5 790.5h1.7v1.7h-1.7zM283.4 790.4h1.7v1.7h-1.7zM286.5 790.5h1.7v1.7h-1.7zM259.9 791.9h1.7v1.7h-1.7zM260.5 791.5h1.7v1.7h-1.7zM262.9 791.5h1.7v1.7h-1.7zM264.6 791.9h1.7v1.7h-1.7zM265.8 791.5h1.7v1.7h-1.7zM269.4 791.7h1.7v1.7h-1.7zM276.7 791.9h1.7v1.7h-1.7zM277.4 791.7h1.7v1.7h-1.7zM278.5 791.6h1.7v1.7h-1.7zM284.6 791.8h1.7v1.7h-1.7zM289.7 791.5h1.7v1.7h-1.7zM261.8 792.6h1.7v1.7h-1.7zM265.5 792.5h1.7v1.7h-1.7zM267.8 792.8h1.7v1.7h-1.7zM277.8 792.7h1.7v1.7h-1.7zM281.7 792.9h1.7v1.7h-1.7zM285.8 792.6h1.7v1.7h-1.7zM262.7 793.5h1.7v1.7h-1.7zM290.9 793.5h1.7v1.7h-1.7zM257.4 794.4h1.7v1.7h-1.7zM262.4 794.5h1.7v1.7h-1.7zM264.6 794.6h1.7v1.7h-1.7zM281.5 794.6h1.7v1.7h-1.7zM282.7 794.8h1.7v1.7h-1.7zM262.9 795.5h1.7v1.7h-1.7zM263.5 795.4h1.7v1.7h-1.7zM262.6 796.4h1.7v1.7h-1.7zM286.6 796.8h1.7v1.7h-1.7zM261.6 797.5h1.7v1.7h-1.7zM282.4 797.9h1.7v1.7h-1.7zM255.8 798.8h1.7v1.7h-1.7zM258.9 798.9h1.7v1.7h-1.7zM283.7 798.9h1.7v1.7h-1.7zM284.8 798.7h1.7v1.7h-1.7zM286.9 798.9h1.7v1.7h-1.7zM289.6 798.7h1.7v1.7h-1.7zM257.9 799.7h1.7v1.7h-1.7zM259.7 799.5h1.7v1.7h-1.7zM285.5 799.6h1.7v1.7h-1.7zM291.5 799.9h1.7v1.7h-1.7zM289.4 800.7h1.7v1.7h-1.7zM254.4 801.6h1.7v1.7h-1.7zM256.9 801.5h1.7v1.7h-1.7zM287.9 801.7h1.7v1.7h-1.7zM288.8 801.6h1.7v1.7h-1.7zM254.4 802.6h1.7v1.7h-1.7zM290.9 802.9h1.7v1.7h-1.7zM287.4 803.7h1.7v1.7h-1.7zM255.6 804.5h1.7v1.7h-1.7zM291.9 805.7h1.7v1.7h-1.7zM291.4 806.7h1.7v1.7h-1.7zM287.7 807.7h1.7v1.7h-1.7zM287.4 814.5h1.7v1.7h-1.7zM288.8 814.6h1.7v1.7h-1.7zM294.7 815.6h1.7v1.7h-1.7zM298.9 831.4h1.7v1.7h-1.7zM288.6 836.5h1.7v1.7h-1.7zM289.4 836.6h1.7v1.7h-1.7zM292.6 836.8h1.7v1.7h-1.7zM290.5 840.8h1.7v1.7h-1.7zM289.9 841.9h1.7v1.7h-1.7zM288.6 846.5h1.7v1.7h-1.7zM290.6 846.4h1.7v1.7h-1.7zM287.5 847.7h1.7v1.7h-1.7zM287.6 848.8h1.7v1.7h-1.7zM290.7 848.6h1.7v1.7h-1.7zM288.7 850.8h1.7v1.7h-1.7zM288.6 855.8h1.7v1.7h-1.7z"/><path fill="#333" d="M367.8 752.4h1.6v1.6h-1.6zM357.2 761.0h1.6v1.6h-1.6zM360.4 767.0h1.6v1.6h-1.6zM371.0 765.2h1.6v1.6h-1.6zM355.0 773.8h1.6v1.6h-1.6zM318.4 761.9h1.6v1.6h-1.6zM308.9 773.8h1.6v1.6h-1.6zM326.3 769.2h1.6v1.6h-1.6zM327.6 772.5h1.6v1.6h-1.6zM329.8 771.6h1.6v1.6h-1.6zM335.8 775.8h1.6v1.6h-1.6zM323.9 778.0h1.6v1.6h-1.6zM318.4 781.1h1.6v1.6h-1.6zM313.9 782.6h1.6v1.6h-1.6zM312.9 783.5h1.6v1.6h-1.6zM317.5 785.3h1.6v1.6h-1.6zM311.1 785.3h1.6v1.6h-1.6zM306.9 785.3h1.6v1.6h-1.6zM303.8 789.9h1.6v1.6h-1.6zM308.9 789.9h1.6v1.6h-1.6zM300.2 792.1h1.6v1.6h-1.6zM299.8 786.6h1.6v1.6h-1.6zM319.9 790.8h1.6v1.6h-1.6zM299.2 800.5h1.6v1.6h-1.6zM295.6 800.5h1.6v1.6h-1.6z"/></g><clipPath id="c5L"><rect x="50.9" y="884.3" width="175.30" height="175.70"/></clipPath><g clip-path="url(#c5L)"><path fill="#000" d="M51.6 984.4L49.6 989.4L49.5 990.0L49.5 1061.0L49.6 1061.6L49.9 1062.1L50.4 1062.4L51.0 1062.5L86.7 1062.5L87.2 1062.4L87.7 1062.1L88.0 1061.7L88.2 1061.2L90.4 1046.3L92.6 1031.7L92.6 1031.6L94.0 1017.0L94.0 1017.0L94.8 1002.3L94.8 1002.2L94.8 994.9L94.7 994.3L91.8 987.0L91.5 986.5L85.6 980.7L84.9 980.4L75.4 977.6L74.9 977.5L59.9 978.5L59.1 978.8L52.1 983.8Z"/><path fill="#fff" d="M70.8 977.7h1.1v1.1h-1.1zM76.0 977.8h1.1v1.1h-1.1zM58.8 979.1h1.1v1.1h-1.1zM63.7 978.8h1.1v1.1h-1.1zM69.8 979.2h1.1v1.1h-1.1zM77.9 978.8h1.1v1.1h-1.1zM80.1 978.7h1.1v1.1h-1.1zM64.0 979.7h1.1v1.1h-1.1zM73.7 980.0h1.1v1.1h-1.1zM83.0 979.8h1.1v1.1h-1.1zM84.9 979.9h1.1v1.1h-1.1zM61.0 980.8h1.1v1.1h-1.1zM82.2 980.7h1.1v1.1h-1.1zM82.7 980.9h1.1v1.1h-1.1zM56.2 981.8h1.1v1.1h-1.1zM70.8 981.7h1.1v1.1h-1.1zM87.1 981.9h1.1v1.1h-1.1zM52.8 983.7h1.1v1.1h-1.1zM87.9 984.1h1.1v1.1h-1.1zM89.0 987.9h1.1v1.1h-1.1zM90.2 990.1h1.1v1.1h-1.1zM95.2 994.8h1.1v1.1h-1.1zM95.1 998.2h1.1v1.1h-1.1zM95.1 1000.9h1.1v1.1h-1.1zM52.8 1004.1h1.1v1.1h-1.1zM95.0 1008.9h1.1v1.1h-1.1zM93.0 1009.9h1.1v1.1h-1.1zM93.8 1011.9h1.1v1.1h-1.1zM93.8 1014.1h1.1v1.1h-1.1zM88.9 1016.0h1.1v1.1h-1.1zM91.0 1015.9h1.1v1.1h-1.1zM93.8 1018.0h1.1v1.1h-1.1zM94.1 1019.0h1.1v1.1h-1.1zM93.2 1019.9h1.1v1.1h-1.1zM93.8 1023.2h1.1v1.1h-1.1zM92.7 1027.0h1.1v1.1h-1.1zM93.2 1032.1h1.1v1.1h-1.1zM92.9 1032.8h1.1v1.1h-1.1zM89.8 1034.0h1.1v1.1h-1.1zM92.0 1034.2h1.1v1.1h-1.1zM92.0 1034.9h1.1v1.1h-1.1zM91.2 1038.1h1.1v1.1h-1.1zM91.2 1038.7h1.1v1.1h-1.1zM90.9 1042.0h1.1v1.1h-1.1zM54.0 1042.9h1.1v1.1h-1.1zM52.2 1043.9h1.1v1.1h-1.1zM89.9 1044.8h1.1v1.1h-1.1zM52.0 1047.2h1.1v1.1h-1.1zM86.1 1047.7h1.1v1.1h-1.1zM88.9 1047.7h1.1v1.1h-1.1zM52.2 1051.1h1.1v1.1h-1.1zM89.1 1051.1h1.1v1.1h-1.1zM87.9 1052.0h1.1v1.1h-1.1zM85.1 1054.1h1.1v1.1h-1.1zM88.9 1055.0h1.1v1.1h-1.1zM89.0 1056.1h1.1v1.1h-1.1zM72.2 1058.1h1.1v1.1h-1.1zM78.0 1058.2h1.1v1.1h-1.1zM84.0 1058.2h1.1v1.1h-1.1zM87.1 1057.7h1.1v1.1h-1.1z"/><path fill="#111" d="M59.9 932.9h1.7v1.7h-1.7zM73.5 937.6h1.7v1.7h-1.7zM84.6 939.5h1.7v1.7h-1.7zM59.7 941.7h1.7v1.7h-1.7zM74.6 941.5h1.7v1.7h-1.7zM98.4 942.9h1.7v1.7h-1.7zM78.9 943.5h1.7v1.7h-1.7zM68.4 944.6h1.7v1.7h-1.7zM76.6 944.4h1.7v1.7h-1.7zM60.5 945.8h1.7v1.7h-1.7zM67.5 945.8h1.7v1.7h-1.7zM72.6 945.9h1.7v1.7h-1.7zM73.4 945.9h1.7v1.7h-1.7zM75.8 945.4h1.7v1.7h-1.7zM76.9 945.7h1.7v1.7h-1.7zM78.5 945.9h1.7v1.7h-1.7zM82.5 945.4h1.7v1.7h-1.7zM60.7 946.9h1.7v1.7h-1.7zM69.4 946.5h1.7v1.7h-1.7zM72.8 946.4h1.7v1.7h-1.7zM78.5 946.7h1.7v1.7h-1.7zM84.8 946.8h1.7v1.7h-1.7zM57.4 947.4h1.7v1.7h-1.7zM63.5 947.4h1.7v1.7h-1.7zM65.7 947.4h1.7v1.7h-1.7zM72.8 947.5h1.7v1.7h-1.7zM75.9 947.9h1.7v1.7h-1.7zM80.6 947.5h1.7v1.7h-1.7zM81.9 947.7h1.7v1.7h-1.7zM55.7 948.6h1.7v1.7h-1.7zM74.9 948.4h1.7v1.7h-1.7zM80.4 948.7h1.7v1.7h-1.7zM82.9 948.9h1.7v1.7h-1.7zM84.4 948.9h1.7v1.7h-1.7zM86.5 948.8h1.7v1.7h-1.7zM60.8 949.9h1.7v1.7h-1.7zM64.6 949.8h1.7v1.7h-1.7zM65.7 949.6h1.7v1.7h-1.7zM71.8 949.7h1.7v1.7h-1.7zM74.4 949.8h1.7v1.7h-1.7zM76.6 949.4h1.7v1.7h-1.7zM85.7 949.6h1.7v1.7h-1.7zM90.9 949.7h1.7v1.7h-1.7zM61.5 950.9h1.7v1.7h-1.7zM64.5 950.6h1.7v1.7h-1.7zM65.8 950.6h1.7v1.7h-1.7zM67.8 950.6h1.7v1.7h-1.7zM68.7 950.5h1.7v1.7h-1.7zM69.5 950.6h1.7v1.7h-1.7zM77.9 950.7h1.7v1.7h-1.7zM79.5 950.9h1.7v1.7h-1.7zM83.8 950.9h1.7v1.7h-1.7zM85.9 950.6h1.7v1.7h-1.7zM62.8 951.5h1.7v1.7h-1.7zM66.6 951.7h1.7v1.7h-1.7zM73.6 951.4h1.7v1.7h-1.7zM75.8 951.4h1.7v1.7h-1.7zM76.9 951.8h1.7v1.7h-1.7zM79.5 951.8h1.7v1.7h-1.7zM83.5 951.6h1.7v1.7h-1.7zM86.5 951.8h1.7v1.7h-1.7zM87.6 951.7h1.7v1.7h-1.7zM59.6 952.5h1.7v1.7h-1.7zM62.4 952.7h1.7v1.7h-1.7zM64.7 952.9h1.7v1.7h-1.7zM65.4 952.8h1.7v1.7h-1.7zM69.9 952.4h1.7v1.7h-1.7zM70.5 952.8h1.7v1.7h-1.7zM77.5 952.8h1.7v1.7h-1.7zM78.4 952.6h1.7v1.7h-1.7zM80.6 952.4h1.7v1.7h-1.7zM82.4 952.4h1.7v1.7h-1.7zM83.8 952.8h1.7v1.7h-1.7zM91.9 952.7h1.7v1.7h-1.7zM58.7 953.5h1.7v1.7h-1.7zM61.8 953.9h1.7v1.7h-1.7zM62.4 953.7h1.7v1.7h-1.7zM64.6 953.8h1.7v1.7h-1.7zM65.7 953.7h1.7v1.7h-1.7zM71.4 953.8h1.7v1.7h-1.7zM74.6 953.8h1.7v1.7h-1.7zM78.7 953.9h1.7v1.7h-1.7zM82.8 953.7h1.7v1.7h-1.7zM84.6 953.5h1.7v1.7h-1.7zM85.6 953.7h1.7v1.7h-1.7zM86.6 953.6h1.7v1.7h-1.7zM94.9 953.4h1.7v1.7h-1.7zM62.6 954.5h1.7v1.7h-1.7zM63.4 954.9h1.7v1.7h-1.7zM64.4 954.6h1.7v1.7h-1.7zM65.7 954.9h1.7v1.7h-1.7zM72.6 954.7h1.7v1.7h-1.7zM74.5 954.8h1.7v1.7h-1.7zM76.5 954.7h1.7v1.7h-1.7zM82.8 954.7h1.7v1.7h-1.7zM62.8 955.7h1.7v1.7h-1.7zM63.9 955.8h1.7v1.7h-1.7zM64.4 955.9h1.7v1.7h-1.7zM73.7 955.7h1.7v1.7h-1.7zM77.9 955.5h1.7v1.7h-1.7zM84.8 955.7h1.7v1.7h-1.7zM86.6 955.5h1.7v1.7h-1.7zM58.6 956.8h1.7v1.7h-1.7zM59.6 956.5h1.7v1.7h-1.7zM60.9 956.7h1.7v1.7h-1.7zM65.8 956.8h1.7v1.7h-1.7zM66.8 956.9h1.7v1.7h-1.7zM67.9 956.6h1.7v1.7h-1.7zM69.7 956.7h1.7v1.7h-1.7zM70.6 956.6h1.7v1.7h-1.7zM71.7 956.4h1.7v1.7h-1.7zM72.5 956.5h1.7v1.7h-1.7zM73.7 956.4h1.7v1.7h-1.7zM75.9 956.8h1.7v1.7h-1.7zM79.8 956.8h1.7v1.7h-1.7zM80.7 956.7h1.7v1.7h-1.7zM85.4 956.6h1.7v1.7h-1.7zM86.4 956.7h1.7v1.7h-1.7zM87.9 956.9h1.7v1.7h-1.7zM89.6 956.5h1.7v1.7h-1.7zM90.7 956.6h1.7v1.7h-1.7zM60.4 957.8h1.7v1.7h-1.7zM62.8 957.5h1.7v1.7h-1.7zM65.4 957.8h1.7v1.7h-1.7zM67.9 957.5h1.7v1.7h-1.7zM68.8 957.4h1.7v1.7h-1.7zM71.7 957.6h1.7v1.7h-1.7zM74.7 957.6h1.7v1.7h-1.7zM75.9 957.7h1.7v1.7h-1.7zM76.4 957.5h1.7v1.7h-1.7zM78.8 957.4h1.7v1.7h-1.7zM79.4 957.8h1.7v1.7h-1.7zM80.8 957.9h1.7v1.7h-1.7zM81.5 957.5h1.7v1.7h-1.7zM82.4 957.9h1.7v1.7h-1.7zM83.5 957.9h1.7v1.7h-1.7zM86.8 957.6h1.7v1.7h-1.7zM98.5 957.5h1.7v1.7h-1.7zM56.6 958.5h1.7v1.7h-1.7zM60.6 958.5h1.7v1.7h-1.7zM61.9 958.5h1.7v1.7h-1.7zM62.5 958.5h1.7v1.7h-1.7zM63.7 958.5h1.7v1.7h-1.7zM64.8 958.4h1.7v1.7h-1.7zM66.5 958.8h1.7v1.7h-1.7zM67.9 958.8h1.7v1.7h-1.7zM69.4 958.4h1.7v1.7h-1.7zM70.4 958.4h1.7v1.7h-1.7zM71.9 958.8h1.7v1.7h-1.7zM72.5 958.5h1.7v1.7h-1.7zM74.4 958.7h1.7v1.7h-1.7zM75.9 958.6h1.7v1.7h-1.7zM78.8 958.7h1.7v1.7h-1.7zM79.6 958.9h1.7v1.7h-1.7zM80.4 958.7h1.7v1.7h-1.7zM81.4 958.9h1.7v1.7h-1.7zM83.9 958.6h1.7v1.7h-1.7zM84.6 958.7h1.7v1.7h-1.7zM85.5 958.9h1.7v1.7h-1.7zM51.5 959.4h1.7v1.7h-1.7zM54.7 959.4h1.7v1.7h-1.7zM62.4 959.5h1.7v1.7h-1.7zM64.5 959.7h1.7v1.7h-1.7zM66.8 959.5h1.7v1.7h-1.7zM67.5 959.6h1.7v1.7h-1.7zM69.5 959.4h1.7v1.7h-1.7zM71.8 959.5h1.7v1.7h-1.7zM73.5 959.5h1.7v1.7h-1.7zM75.9 959.8h1.7v1.7h-1.7zM76.6 959.5h1.7v1.7h-1.7zM78.6 959.7h1.7v1.7h-1.7zM81.4 959.8h1.7v1.7h-1.7zM82.8 959.7h1.7v1.7h-1.7zM86.8 959.8h1.7v1.7h-1.7zM92.5 959.7h1.7v1.7h-1.7zM54.5 960.4h1.7v1.7h-1.7zM55.4 960.4h1.7v1.7h-1.7zM58.6 960.7h1.7v1.7h-1.7zM60.6 960.7h1.7v1.7h-1.7zM64.6 960.9h1.7v1.7h-1.7zM65.5 960.7h1.7v1.7h-1.7zM66.7 960.9h1.7v1.7h-1.7zM70.4 960.5h1.7v1.7h-1.7zM71.6 960.5h1.7v1.7h-1.7zM72.6 960.4h1.7v1.7h-1.7zM75.5 960.6h1.7v1.7h-1.7zM77.4 960.7h1.7v1.7h-1.7zM78.4 960.8h1.7v1.7h-1.7zM80.5 960.7h1.7v1.7h-1.7zM81.5 960.5h1.7v1.7h-1.7zM82.9 960.7h1.7v1.7h-1.7zM89.7 960.6h1.7v1.7h-1.7zM90.5 960.6h1.7v1.7h-1.7zM91.8 960.8h1.7v1.7h-1.7zM95.8 960.6h1.7v1.7h-1.7zM54.6 961.9h1.7v1.7h-1.7zM59.4 961.6h1.7v1.7h-1.7zM60.7 961.9h1.7v1.7h-1.7zM65.5 961.8h1.7v1.7h-1.7zM66.7 961.5h1.7v1.7h-1.7zM67.4 961.9h1.7v1.7h-1.7zM68.8 961.7h1.7v1.7h-1.7zM69.7 961.5h1.7v1.7h-1.7zM71.5 961.7h1.7v1.7h-1.7zM72.9 961.8h1.7v1.7h-1.7zM73.8 961.9h1.7v1.7h-1.7zM75.4 961.9h1.7v1.7h-1.7zM77.9 961.4h1.7v1.7h-1.7zM78.8 961.8h1.7v1.7h-1.7zM79.7 961.4h1.7v1.7h-1.7zM80.6 961.5h1.7v1.7h-1.7zM81.9 961.5h1.7v1.7h-1.7zM83.7 961.5h1.7v1.7h-1.7zM84.9 961.9h1.7v1.7h-1.7zM85.8 961.8h1.7v1.7h-1.7zM86.4 961.8h1.7v1.7h-1.7zM55.8 962.9h1.7v1.7h-1.7zM57.9 962.7h1.7v1.7h-1.7zM59.6 962.7h1.7v1.7h-1.7zM62.5 962.7h1.7v1.7h-1.7zM63.8 962.5h1.7v1.7h-1.7zM65.8 962.6h1.7v1.7h-1.7zM67.9 962.9h1.7v1.7h-1.7zM68.9 962.9h1.7v1.7h-1.7zM69.6 962.5h1.7v1.7h-1.7zM72.5 962.9h1.7v1.7h-1.7zM74.7 962.7h1.7v1.7h-1.7zM75.4 962.7h1.7v1.7h-1.7zM77.8 962.8h1.7v1.7h-1.7zM78.5 962.6h1.7v1.7h-1.7zM79.9 962.5h1.7v1.7h-1.7zM81.7 962.4h1.7v1.7h-1.7zM82.5 962.5h1.7v1.7h-1.7zM83.7 962.9h1.7v1.7h-1.7zM84.8 962.7h1.7v1.7h-1.7zM86.9 962.6h1.7v1.7h-1.7zM99.9 962.5h1.7v1.7h-1.7zM52.6 963.9h1.7v1.7h-1.7zM54.5 963.5h1.7v1.7h-1.7zM55.7 963.5h1.7v1.7h-1.7zM56.8 963.7h1.7v1.7h-1.7zM59.5 963.8h1.7v1.7h-1.7zM60.9 963.5h1.7v1.7h-1.7zM61.5 963.5h1.7v1.7h-1.7zM62.4 963.9h1.7v1.7h-1.7zM64.5 963.4h1.7v1.7h-1.7zM65.8 963.7h1.7v1.7h-1.7zM67.7 963.6h1.7v1.7h-1.7zM68.7 963.9h1.7v1.7h-1.7zM70.5 963.9h1.7v1.7h-1.7zM72.6 963.9h1.7v1.7h-1.7zM73.6 963.8h1.7v1.7h-1.7zM76.5 963.7h1.7v1.7h-1.7zM78.4 963.6h1.7v1.7h-1.7zM80.6 963.5h1.7v1.7h-1.7zM81.9 963.7h1.7v1.7h-1.7zM82.6 963.9h1.7v1.7h-1.7zM83.7 963.6h1.7v1.7h-1.7zM84.5 963.6h1.7v1.7h-1.7zM85.6 963.7h1.7v1.7h-1.7zM86.8 963.5h1.7v1.7h-1.7zM88.5 963.9h1.7v1.7h-1.7zM89.6 963.8h1.7v1.7h-1.7zM51.7 964.9h1.7v1.7h-1.7zM54.8 964.7h1.7v1.7h-1.7zM55.5 964.8h1.7v1.7h-1.7zM60.8 964.8h1.7v1.7h-1.7zM62.8 964.6h1.7v1.7h-1.7zM63.8 964.7h1.7v1.7h-1.7zM65.6 964.9h1.7v1.7h-1.7zM67.5 964.6h1.7v1.7h-1.7zM69.6 964.4h1.7v1.7h-1.7zM70.7 964.4h1.7v1.7h-1.7zM71.7 964.8h1.7v1.7h-1.7zM72.8 964.5h1.7v1.7h-1.7zM73.7 964.6h1.7v1.7h-1.7zM74.8 964.6h1.7v1.7h-1.7zM76.9 964.5h1.7v1.7h-1.7zM78.5 964.5h1.7v1.7h-1.7zM79.6 964.4h1.7v1.7h-1.7zM80.4 964.6h1.7v1.7h-1.7zM81.4 964.6h1.7v1.7h-1.7zM83.6 964.8h1.7v1.7h-1.7zM84.7 964.7h1.7v1.7h-1.7zM85.7 964.9h1.7v1.7h-1.7zM86.4 964.7h1.7v1.7h-1.7zM87.8 964.4h1.7v1.7h-1.7zM89.7 964.6h1.7v1.7h-1.7zM90.6 964.9h1.7v1.7h-1.7zM91.9 964.5h1.7v1.7h-1.7zM98.8 964.6h1.7v1.7h-1.7zM57.7 965.8h1.7v1.7h-1.7zM58.5 965.5h1.7v1.7h-1.7zM61.4 965.8h1.7v1.7h-1.7zM62.8 965.7h1.7v1.7h-1.7zM65.5 965.9h1.7v1.7h-1.7zM66.5 965.8h1.7v1.7h-1.7zM67.5 965.6h1.7v1.7h-1.7zM68.8 965.6h1.7v1.7h-1.7zM69.7 965.9h1.7v1.7h-1.7zM71.4 965.7h1.7v1.7h-1.7zM73.5 965.6h1.7v1.7h-1.7zM74.9 965.5h1.7v1.7h-1.7zM75.8 965.6h1.7v1.7h-1.7zM76.9 965.7h1.7v1.7h-1.7zM77.6 965.6h1.7v1.7h-1.7zM78.6 965.9h1.7v1.7h-1.7zM79.5 965.9h1.7v1.7h-1.7zM81.8 965.5h1.7v1.7h-1.7zM83.9 965.8h1.7v1.7h-1.7zM84.8 965.5h1.7v1.7h-1.7zM85.8 965.4h1.7v1.7h-1.7zM86.8 965.7h1.7v1.7h-1.7zM87.5 965.7h1.7v1.7h-1.7zM90.8 965.7h1.7v1.7h-1.7zM91.4 965.4h1.7v1.7h-1.7zM58.8 966.5h1.7v1.7h-1.7zM59.4 966.4h1.7v1.7h-1.7zM62.5 966.6h1.7v1.7h-1.7zM63.4 966.4h1.7v1.7h-1.7zM64.5 966.8h1.7v1.7h-1.7zM65.9 966.6h1.7v1.7h-1.7zM66.8 966.4h1.7v1.7h-1.7zM69.7 966.5h1.7v1.7h-1.7zM70.8 966.5h1.7v1.7h-1.7zM71.9 966.4h1.7v1.7h-1.7zM72.8 966.5h1.7v1.7h-1.7zM73.8 966.8h1.7v1.7h-1.7zM74.9 966.6h1.7v1.7h-1.7zM76.4 966.6h1.7v1.7h-1.7zM78.5 966.8h1.7v1.7h-1.7zM80.7 966.7h1.7v1.7h-1.7zM82.4 966.5h1.7v1.7h-1.7zM83.4 966.6h1.7v1.7h-1.7zM85.8 966.6h1.7v1.7h-1.7zM86.8 966.6h1.7v1.7h-1.7zM87.8 966.4h1.7v1.7h-1.7zM88.7 966.4h1.7v1.7h-1.7zM90.6 966.9h1.7v1.7h-1.7zM93.4 966.8h1.7v1.7h-1.7zM56.4 967.5h1.7v1.7h-1.7zM57.6 967.6h1.7v1.7h-1.7zM59.7 967.9h1.7v1.7h-1.7zM60.4 967.6h1.7v1.7h-1.7zM62.9 967.8h1.7v1.7h-1.7zM64.6 967.9h1.7v1.7h-1.7zM65.7 967.7h1.7v1.7h-1.7zM67.5 967.8h1.7v1.7h-1.7zM68.8 967.9h1.7v1.7h-1.7zM69.7 967.5h1.7v1.7h-1.7zM70.8 967.8h1.7v1.7h-1.7zM74.8 967.5h1.7v1.7h-1.7zM75.5 967.9h1.7v1.7h-1.7zM76.5 967.5h1.7v1.7h-1.7zM77.5 967.5h1.7v1.7h-1.7zM78.5 967.6h1.7v1.7h-1.7zM81.5 967.4h1.7v1.7h-1.7zM82.5 967.6h1.7v1.7h-1.7zM83.7 967.5h1.7v1.7h-1.7zM84.4 967.4h1.7v1.7h-1.7zM85.4 967.6h1.7v1.7h-1.7zM86.6 967.9h1.7v1.7h-1.7zM87.4 967.8h1.7v1.7h-1.7zM89.6 967.9h1.7v1.7h-1.7zM94.7 967.6h1.7v1.7h-1.7zM54.7 968.8h1.7v1.7h-1.7zM55.4 968.4h1.7v1.7h-1.7zM57.7 968.9h1.7v1.7h-1.7zM60.5 968.6h1.7v1.7h-1.7zM61.7 968.5h1.7v1.7h-1.7zM62.4 968.4h1.7v1.7h-1.7zM63.9 968.8h1.7v1.7h-1.7zM65.9 968.8h1.7v1.7h-1.7zM67.9 968.7h1.7v1.7h-1.7zM70.5 968.5h1.7v1.7h-1.7zM71.5 968.4h1.7v1.7h-1.7zM72.6 968.6h1.7v1.7h-1.7zM73.8 968.7h1.7v1.7h-1.7zM74.4 968.4h1.7v1.7h-1.7zM75.7 968.4h1.7v1.7h-1.7zM77.6 968.4h1.7v1.7h-1.7zM78.7 968.4h1.7v1.7h-1.7zM79.4 968.9h1.7v1.7h-1.7zM80.9 968.5h1.7v1.7h-1.7zM81.6 968.5h1.7v1.7h-1.7zM85.8 968.8h1.7v1.7h-1.7zM86.9 968.7h1.7v1.7h-1.7zM87.9 968.9h1.7v1.7h-1.7zM88.5 968.6h1.7v1.7h-1.7zM90.8 968.6h1.7v1.7h-1.7zM91.7 968.7h1.7v1.7h-1.7zM59.9 969.9h1.7v1.7h-1.7zM60.6 969.4h1.7v1.7h-1.7zM61.9 969.7h1.7v1.7h-1.7zM62.6 969.8h1.7v1.7h-1.7zM63.9 969.5h1.7v1.7h-1.7zM66.7 969.9h1.7v1.7h-1.7zM67.4 969.5h1.7v1.7h-1.7zM68.8 969.4h1.7v1.7h-1.7zM69.7 969.7h1.7v1.7h-1.7zM70.5 969.9h1.7v1.7h-1.7zM71.8 969.9h1.7v1.7h-1.7zM72.7 969.9h1.7v1.7h-1.7zM76.5 969.8h1.7v1.7h-1.7zM78.9 969.7h1.7v1.7h-1.7zM79.5 969.8h1.7v1.7h-1.7zM80.7 969.5h1.7v1.7h-1.7zM81.9 969.6h1.7v1.7h-1.7zM84.9 969.9h1.7v1.7h-1.7zM85.9 969.8h1.7v1.7h-1.7zM86.5 969.5h1.7v1.7h-1.7zM88.5 969.9h1.7v1.7h-1.7zM90.7 969.4h1.7v1.7h-1.7zM91.7 969.5h1.7v1.7h-1.7zM61.7 970.7h1.7v1.7h-1.7zM62.8 970.7h1.7v1.7h-1.7zM65.5 970.5h1.7v1.7h-1.7zM66.7 970.7h1.7v1.7h-1.7zM68.5 970.5h1.7v1.7h-1.7zM71.5 970.9h1.7v1.7h-1.7zM72.8 970.7h1.7v1.7h-1.7zM73.6 970.9h1.7v1.7h-1.7zM74.7 970.6h1.7v1.7h-1.7zM75.4 970.7h1.7v1.7h-1.7zM76.9 970.7h1.7v1.7h-1.7zM77.5 970.7h1.7v1.7h-1.7zM80.6 970.4h1.7v1.7h-1.7zM81.4 970.8h1.7v1.7h-1.7zM82.9 970.9h1.7v1.7h-1.7zM84.6 970.6h1.7v1.7h-1.7zM85.8 970.6h1.7v1.7h-1.7zM86.8 970.4h1.7v1.7h-1.7zM87.6 970.7h1.7v1.7h-1.7zM88.6 970.5h1.7v1.7h-1.7zM90.7 970.5h1.7v1.7h-1.7zM92.7 970.5h1.7v1.7h-1.7zM94.4 970.9h1.7v1.7h-1.7zM95.8 970.8h1.7v1.7h-1.7zM56.9 971.6h1.7v1.7h-1.7zM57.9 971.6h1.7v1.7h-1.7zM59.4 971.8h1.7v1.7h-1.7zM61.4 971.4h1.7v1.7h-1.7zM62.4 971.7h1.7v1.7h-1.7zM64.6 971.5h1.7v1.7h-1.7zM65.4 971.5h1.7v1.7h-1.7zM67.4 971.5h1.7v1.7h-1.7zM68.7 971.5h1.7v1.7h-1.7zM70.6 971.7h1.7v1.7h-1.7zM71.6 971.4h1.7v1.7h-1.7zM73.9 971.7h1.7v1.7h-1.7zM74.4 971.8h1.7v1.7h-1.7zM76.9 971.6h1.7v1.7h-1.7zM77.6 971.4h1.7v1.7h-1.7zM78.4 971.9h1.7v1.7h-1.7zM80.8 971.8h1.7v1.7h-1.7zM81.7 971.8h1.7v1.7h-1.7zM84.4 971.5h1.7v1.7h-1.7zM87.7 971.6h1.7v1.7h-1.7zM88.6 971.8h1.7v1.7h-1.7zM91.6 971.9h1.7v1.7h-1.7zM95.6 971.8h1.7v1.7h-1.7zM56.4 972.8h1.7v1.7h-1.7zM58.5 972.8h1.7v1.7h-1.7zM59.9 972.9h1.7v1.7h-1.7zM60.7 972.7h1.7v1.7h-1.7zM61.6 972.7h1.7v1.7h-1.7zM62.6 972.5h1.7v1.7h-1.7zM64.9 972.6h1.7v1.7h-1.7zM65.8 972.7h1.7v1.7h-1.7zM66.8 972.6h1.7v1.7h-1.7zM67.8 972.7h1.7v1.7h-1.7zM68.4 972.9h1.7v1.7h-1.7zM69.9 972.7h1.7v1.7h-1.7zM70.7 972.7h1.7v1.7h-1.7zM72.4 972.8h1.7v1.7h-1.7zM73.8 972.6h1.7v1.7h-1.7zM74.7 972.9h1.7v1.7h-1.7zM75.9 972.5h1.7v1.7h-1.7zM78.5 972.4h1.7v1.7h-1.7zM79.6 972.5h1.7v1.7h-1.7zM81.5 972.5h1.7v1.7h-1.7zM82.9 972.5h1.7v1.7h-1.7zM84.4 972.8h1.7v1.7h-1.7zM85.8 972.9h1.7v1.7h-1.7zM86.4 972.8h1.7v1.7h-1.7zM88.8 972.7h1.7v1.7h-1.7zM91.9 972.6h1.7v1.7h-1.7zM52.5 973.4h1.7v1.7h-1.7zM53.9 973.8h1.7v1.7h-1.7zM58.4 973.7h1.7v1.7h-1.7zM59.6 973.7h1.7v1.7h-1.7zM61.7 973.5h1.7v1.7h-1.7zM63.7 973.7h1.7v1.7h-1.7zM64.8 973.8h1.7v1.7h-1.7zM65.5 973.7h1.7v1.7h-1.7zM66.4 973.5h1.7v1.7h-1.7zM68.9 973.4h1.7v1.7h-1.7zM72.7 973.7h1.7v1.7h-1.7zM73.9 973.4h1.7v1.7h-1.7zM74.4 973.5h1.7v1.7h-1.7zM75.9 973.8h1.7v1.7h-1.7zM76.6 973.4h1.7v1.7h-1.7zM78.9 973.8h1.7v1.7h-1.7zM80.5 973.8h1.7v1.7h-1.7zM82.5 973.5h1.7v1.7h-1.7zM83.6 973.6h1.7v1.7h-1.7zM86.5 973.6h1.7v1.7h-1.7zM87.8 973.5h1.7v1.7h-1.7zM88.6 973.8h1.7v1.7h-1.7zM89.8 973.4h1.7v1.7h-1.7zM94.8 973.8h1.7v1.7h-1.7zM52.5 974.5h1.7v1.7h-1.7zM62.7 974.9h1.7v1.7h-1.7zM63.5 974.6h1.7v1.7h-1.7zM64.7 974.6h1.7v1.7h-1.7zM65.6 974.7h1.7v1.7h-1.7zM68.9 974.9h1.7v1.7h-1.7zM69.6 974.7h1.7v1.7h-1.7zM70.6 974.4h1.7v1.7h-1.7zM72.5 974.7h1.7v1.7h-1.7zM76.8 974.4h1.7v1.7h-1.7zM80.4 974.5h1.7v1.7h-1.7zM81.8 974.8h1.7v1.7h-1.7zM83.7 974.8h1.7v1.7h-1.7zM84.7 974.7h1.7v1.7h-1.7zM86.6 974.6h1.7v1.7h-1.7zM91.9 974.7h1.7v1.7h-1.7zM94.6 974.4h1.7v1.7h-1.7zM52.7 975.6h1.7v1.7h-1.7zM54.6 975.8h1.7v1.7h-1.7zM55.5 975.9h1.7v1.7h-1.7zM59.5 975.9h1.7v1.7h-1.7zM61.4 975.6h1.7v1.7h-1.7zM63.7 975.4h1.7v1.7h-1.7zM68.8 975.9h1.7v1.7h-1.7zM69.4 975.9h1.7v1.7h-1.7zM70.5 975.9h1.7v1.7h-1.7zM71.7 975.5h1.7v1.7h-1.7zM72.5 975.6h1.7v1.7h-1.7zM73.9 975.4h1.7v1.7h-1.7zM74.9 975.8h1.7v1.7h-1.7zM75.5 975.4h1.7v1.7h-1.7zM76.5 975.5h1.7v1.7h-1.7zM77.9 975.8h1.7v1.7h-1.7zM78.6 975.9h1.7v1.7h-1.7zM79.6 975.8h1.7v1.7h-1.7zM81.5 975.8h1.7v1.7h-1.7zM82.6 975.9h1.7v1.7h-1.7zM83.9 975.8h1.7v1.7h-1.7zM84.7 975.9h1.7v1.7h-1.7zM87.6 975.6h1.7v1.7h-1.7zM88.9 975.8h1.7v1.7h-1.7zM93.9 975.8h1.7v1.7h-1.7zM94.4 975.6h1.7v1.7h-1.7zM52.7 976.9h1.7v1.7h-1.7zM55.9 976.7h1.7v1.7h-1.7zM56.9 976.8h1.7v1.7h-1.7zM57.9 976.8h1.7v1.7h-1.7zM58.4 976.7h1.7v1.7h-1.7zM60.4 976.5h1.7v1.7h-1.7zM61.9 976.9h1.7v1.7h-1.7zM65.6 976.8h1.7v1.7h-1.7zM67.7 976.6h1.7v1.7h-1.7zM68.9 976.8h1.7v1.7h-1.7zM69.4 976.9h1.7v1.7h-1.7zM71.8 976.4h1.7v1.7h-1.7zM72.9 976.5h1.7v1.7h-1.7zM74.8 976.7h1.7v1.7h-1.7zM75.4 976.8h1.7v1.7h-1.7zM76.8 976.4h1.7v1.7h-1.7zM77.9 976.8h1.7v1.7h-1.7zM79.9 976.5h1.7v1.7h-1.7zM82.4 976.7h1.7v1.7h-1.7zM83.9 976.6h1.7v1.7h-1.7zM84.5 976.7h1.7v1.7h-1.7zM89.8 976.6h1.7v1.7h-1.7zM57.5 977.4h1.7v1.7h-1.7zM58.7 977.6h1.7v1.7h-1.7zM59.7 977.4h1.7v1.7h-1.7zM60.4 977.4h1.7v1.7h-1.7zM61.4 977.5h1.7v1.7h-1.7zM62.7 977.8h1.7v1.7h-1.7zM63.7 977.4h1.7v1.7h-1.7zM64.5 977.8h1.7v1.7h-1.7zM65.7 977.9h1.7v1.7h-1.7zM66.4 977.6h1.7v1.7h-1.7zM78.7 977.6h1.7v1.7h-1.7zM81.7 977.9h1.7v1.7h-1.7zM82.7 977.6h1.7v1.7h-1.7zM83.5 977.6h1.7v1.7h-1.7zM84.9 977.5h1.7v1.7h-1.7zM85.5 977.5h1.7v1.7h-1.7zM86.5 977.7h1.7v1.7h-1.7zM87.6 977.7h1.7v1.7h-1.7zM88.8 977.7h1.7v1.7h-1.7zM90.8 977.4h1.7v1.7h-1.7zM91.7 977.4h1.7v1.7h-1.7zM93.6 977.7h1.7v1.7h-1.7zM56.5 978.7h1.7v1.7h-1.7zM57.8 978.7h1.7v1.7h-1.7zM82.8 978.6h1.7v1.7h-1.7zM84.5 978.4h1.7v1.7h-1.7zM85.8 978.9h1.7v1.7h-1.7zM86.6 978.8h1.7v1.7h-1.7zM87.6 978.5h1.7v1.7h-1.7zM88.5 978.7h1.7v1.7h-1.7zM90.4 978.7h1.7v1.7h-1.7zM91.9 978.9h1.7v1.7h-1.7zM92.6 978.9h1.7v1.7h-1.7zM93.8 978.4h1.7v1.7h-1.7zM53.8 979.4h1.7v1.7h-1.7zM54.8 979.7h1.7v1.7h-1.7zM86.5 979.7h1.7v1.7h-1.7zM87.5 979.9h1.7v1.7h-1.7zM88.6 979.7h1.7v1.7h-1.7zM89.4 979.6h1.7v1.7h-1.7zM90.6 979.9h1.7v1.7h-1.7zM92.9 979.4h1.7v1.7h-1.7zM51.5 980.6h1.7v1.7h-1.7zM52.4 980.7h1.7v1.7h-1.7zM53.6 980.6h1.7v1.7h-1.7zM54.9 980.8h1.7v1.7h-1.7zM86.8 980.4h1.7v1.7h-1.7zM88.9 980.8h1.7v1.7h-1.7zM89.6 980.9h1.7v1.7h-1.7zM93.5 980.4h1.7v1.7h-1.7zM87.8 981.6h1.7v1.7h-1.7zM88.5 981.4h1.7v1.7h-1.7zM89.6 981.7h1.7v1.7h-1.7zM92.8 981.9h1.7v1.7h-1.7zM88.6 982.9h1.7v1.7h-1.7zM88.8 983.7h1.7v1.7h-1.7zM91.9 983.8h1.7v1.7h-1.7zM90.4 984.4h1.7v1.7h-1.7zM91.7 984.7h1.7v1.7h-1.7zM98.8 985.8h1.7v1.7h-1.7zM94.4 986.8h1.7v1.7h-1.7zM95.7 987.7h1.7v1.7h-1.7zM93.9 989.8h1.7v1.7h-1.7zM102.5 989.5h1.7v1.7h-1.7zM94.9 991.6h1.7v1.7h-1.7zM97.6 997.7h1.7v1.7h-1.7zM95.8 999.8h1.7v1.7h-1.7zM97.9 1000.5h1.7v1.7h-1.7zM98.7 1000.9h1.7v1.7h-1.7zM99.9 1004.8h1.7v1.7h-1.7zM101.7 1004.7h1.7v1.7h-1.7zM103.7 1006.5h1.7v1.7h-1.7zM98.5 1007.7h1.7v1.7h-1.7zM95.8 1008.5h1.7v1.7h-1.7zM96.6 1008.8h1.7v1.7h-1.7zM96.4 1009.9h1.7v1.7h-1.7zM96.5 1010.6h1.7v1.7h-1.7zM96.6 1012.7h1.7v1.7h-1.7zM94.5 1017.6h1.7v1.7h-1.7zM95.4 1019.4h1.7v1.7h-1.7zM94.5 1021.6h1.7v1.7h-1.7zM95.7 1023.8h1.7v1.7h-1.7zM95.5 1024.7h1.7v1.7h-1.7zM93.4 1026.4h1.7v1.7h-1.7zM99.6 1031.4h1.7v1.7h-1.7zM94.5 1032.9h1.7v1.7h-1.7zM94.5 1034.6h1.7v1.7h-1.7zM92.4 1037.5h1.7v1.7h-1.7zM95.8 1038.4h1.7v1.7h-1.7zM94.5 1042.7h1.7v1.7h-1.7zM91.4 1045.7h1.7v1.7h-1.7zM89.9 1049.8h1.7v1.7h-1.7zM89.6 1053.4h1.7v1.7h-1.7zM94.8 1055.6h1.7v1.7h-1.7zM90.5 1056.9h1.7v1.7h-1.7zM88.4 1057.7h1.7v1.7h-1.7z"/><path fill="#333" d="M105.2 990.2h1.6v1.6h-1.6zM107.2 995.2h1.6v1.6h-1.6zM110.2 993.2h1.6v1.6h-1.6zM112.2 998.2h1.6v1.6h-1.6zM109.2 999.2h1.6v1.6h-1.6zM113.2 991.2h1.6v1.6h-1.6zM106.2 987.2h1.6v1.6h-1.6zM119.4 962.7h1.6v1.6h-1.6zM133.7 972.8h1.6v1.6h-1.6zM129.9 977.0h1.6v1.6h-1.6zM125.7 982.1h1.6v1.6h-1.6zM121.9 980.6h1.6v1.6h-1.6zM107.2 989.2h1.6v1.6h-1.6zM109.2 992.2h1.6v1.6h-1.6zM112.2 994.2h1.6v1.6h-1.6zM108.2 997.2h1.6v1.6h-1.6zM114.2 988.2h1.6v1.6h-1.6zM111.2 1000.2h1.6v1.6h-1.6zM97.2 984.2h1.6v1.6h-1.6zM100.2 991.2h1.6v1.6h-1.6zM103.2 995.2h1.6v1.6h-1.6zM65.2 905.2h1.6v1.6h-1.6zM79.2 909.2h1.6v1.6h-1.6zM76.2 916.2h1.6v1.6h-1.6zM71.2 924.2h1.6v1.6h-1.6zM64.2 937.2h1.6v1.6h-1.6zM59.2 945.2h1.6v1.6h-1.6z"/></g><clipPath id="c5R"><rect x="251.8" y="884.8" width="176.00" height="176.20"/></clipPath><g clip-path="url(#c5R)"><path fill="#000" d="M251.5 985.0L250.5 1062.0L250.6 1062.6L250.9 1063.1L251.4 1063.4L252.0 1063.5L287.0 1063.5L287.5 1063.4L288.0 1063.2L288.3 1062.8L288.5 1062.3L291.4 1046.4L291.4 1046.3L293.6 1031.7L293.6 1031.6L294.3 1017.0L294.3 1016.9L294.3 1002.2L294.3 1001.9L292.9 994.6L292.9 994.6L291.4 987.3L291.3 987.1L288.4 978.4L288.2 978.0L287.8 977.6L287.3 977.4L272.3 974.5L271.7 974.5L257.7 977.5L257.2 977.7L256.8 978.0L251.8 984.0L251.6 984.5Z"/><path fill="#fff" d="M273.7 975.0h1.1v1.1h-1.1zM275.2 974.8h1.1v1.1h-1.1zM266.2 975.7h1.1v1.1h-1.1zM276.9 975.8h1.1v1.1h-1.1zM280.1 975.9h1.1v1.1h-1.1zM261.9 977.1h1.1v1.1h-1.1zM264.2 976.7h1.1v1.1h-1.1zM267.0 976.7h1.1v1.1h-1.1zM275.2 977.2h1.1v1.1h-1.1zM283.9 977.2h1.1v1.1h-1.1zM284.9 976.7h1.1v1.1h-1.1zM258.7 977.7h1.1v1.1h-1.1zM263.1 977.7h1.1v1.1h-1.1zM265.7 978.0h1.1v1.1h-1.1zM282.1 977.8h1.1v1.1h-1.1zM285.0 978.7h1.1v1.1h-1.1zM286.0 979.1h1.1v1.1h-1.1zM287.1 979.1h1.1v1.1h-1.1zM287.9 978.8h1.1v1.1h-1.1zM254.9 981.0h1.1v1.1h-1.1zM256.9 980.7h1.1v1.1h-1.1zM267.0 981.0h1.1v1.1h-1.1zM275.7 981.2h1.1v1.1h-1.1zM254.0 982.2h1.1v1.1h-1.1zM284.8 982.1h1.1v1.1h-1.1zM288.0 982.1h1.1v1.1h-1.1zM289.2 981.9h1.1v1.1h-1.1zM289.7 983.2h1.1v1.1h-1.1zM290.9 988.1h1.1v1.1h-1.1zM252.9 989.2h1.1v1.1h-1.1zM253.0 990.2h1.1v1.1h-1.1zM292.0 992.1h1.1v1.1h-1.1zM288.0 994.8h1.1v1.1h-1.1zM292.9 995.1h1.1v1.1h-1.1zM293.0 996.0h1.1v1.1h-1.1zM253.1 997.0h1.1v1.1h-1.1zM253.0 998.9h1.1v1.1h-1.1zM293.7 999.2h1.1v1.1h-1.1zM255.2 1000.0h1.1v1.1h-1.1zM252.7 1001.7h1.1v1.1h-1.1zM255.0 1001.8h1.1v1.1h-1.1zM293.9 1001.8h1.1v1.1h-1.1zM254.1 1002.9h1.1v1.1h-1.1zM291.9 1003.9h1.1v1.1h-1.1zM253.0 1004.9h1.1v1.1h-1.1zM293.9 1005.9h1.1v1.1h-1.1zM293.9 1009.2h1.1v1.1h-1.1zM252.9 1010.9h1.1v1.1h-1.1zM294.1 1011.0h1.1v1.1h-1.1zM254.0 1013.0h1.1v1.1h-1.1zM256.1 1016.2h1.1v1.1h-1.1zM293.9 1015.9h1.1v1.1h-1.1zM293.9 1018.9h1.1v1.1h-1.1zM293.0 1019.7h1.1v1.1h-1.1zM254.2 1022.9h1.1v1.1h-1.1zM293.7 1028.0h1.1v1.1h-1.1zM293.7 1028.7h1.1v1.1h-1.1zM294.2 1030.0h1.1v1.1h-1.1zM294.2 1030.7h1.1v1.1h-1.1zM294.2 1032.7h1.1v1.1h-1.1zM293.2 1036.0h1.1v1.1h-1.1zM292.0 1037.2h1.1v1.1h-1.1zM292.2 1038.2h1.1v1.1h-1.1zM291.8 1039.2h1.1v1.1h-1.1zM289.9 1039.7h1.1v1.1h-1.1zM288.7 1040.8h1.1v1.1h-1.1zM253.2 1041.8h1.1v1.1h-1.1zM291.8 1043.1h1.1v1.1h-1.1zM291.0 1043.7h1.1v1.1h-1.1zM253.0 1046.8h1.1v1.1h-1.1zM289.8 1048.7h1.1v1.1h-1.1zM290.1 1051.1h1.1v1.1h-1.1zM289.2 1052.9h1.1v1.1h-1.1zM290.1 1053.0h1.1v1.1h-1.1zM287.2 1054.8h1.1v1.1h-1.1zM289.2 1055.8h1.1v1.1h-1.1zM290.0 1056.9h1.1v1.1h-1.1zM258.2 1058.7h1.1v1.1h-1.1zM270.2 1058.7h1.1v1.1h-1.1zM288.9 1058.7h1.1v1.1h-1.1z"/><path fill="#111" d="M265.9 935.8h1.7v1.7h-1.7zM272.5 935.5h1.7v1.7h-1.7zM274.7 936.9h1.7v1.7h-1.7zM265.4 937.8h1.7v1.7h-1.7zM262.4 939.7h1.7v1.7h-1.7zM261.7 940.5h1.7v1.7h-1.7zM262.5 940.5h1.7v1.7h-1.7zM265.5 940.7h1.7v1.7h-1.7zM270.7 940.9h1.7v1.7h-1.7zM272.7 940.8h1.7v1.7h-1.7zM277.9 940.6h1.7v1.7h-1.7zM253.6 941.5h1.7v1.7h-1.7zM265.7 941.7h1.7v1.7h-1.7zM270.9 941.8h1.7v1.7h-1.7zM272.5 941.9h1.7v1.7h-1.7zM290.7 941.6h1.7v1.7h-1.7zM258.9 942.7h1.7v1.7h-1.7zM260.7 942.6h1.7v1.7h-1.7zM261.4 942.7h1.7v1.7h-1.7zM265.8 942.7h1.7v1.7h-1.7zM266.9 942.6h1.7v1.7h-1.7zM267.5 942.8h1.7v1.7h-1.7zM274.8 942.6h1.7v1.7h-1.7zM278.4 942.9h1.7v1.7h-1.7zM280.6 942.6h1.7v1.7h-1.7zM293.4 942.9h1.7v1.7h-1.7zM260.4 943.5h1.7v1.7h-1.7zM272.7 943.8h1.7v1.7h-1.7zM273.8 943.7h1.7v1.7h-1.7zM276.9 943.4h1.7v1.7h-1.7zM277.7 943.9h1.7v1.7h-1.7zM280.7 943.9h1.7v1.7h-1.7zM258.4 944.4h1.7v1.7h-1.7zM259.4 944.5h1.7v1.7h-1.7zM260.5 944.5h1.7v1.7h-1.7zM261.4 944.7h1.7v1.7h-1.7zM272.7 944.6h1.7v1.7h-1.7zM273.6 944.8h1.7v1.7h-1.7zM274.8 944.6h1.7v1.7h-1.7zM275.7 944.8h1.7v1.7h-1.7zM277.8 944.9h1.7v1.7h-1.7zM261.5 945.4h1.7v1.7h-1.7zM262.9 945.5h1.7v1.7h-1.7zM264.4 945.6h1.7v1.7h-1.7zM266.9 945.6h1.7v1.7h-1.7zM270.5 945.9h1.7v1.7h-1.7zM273.7 945.4h1.7v1.7h-1.7zM259.9 946.4h1.7v1.7h-1.7zM262.6 946.7h1.7v1.7h-1.7zM268.7 946.4h1.7v1.7h-1.7zM274.8 946.5h1.7v1.7h-1.7zM275.5 946.6h1.7v1.7h-1.7zM278.4 946.9h1.7v1.7h-1.7zM260.6 947.5h1.7v1.7h-1.7zM261.9 947.8h1.7v1.7h-1.7zM262.7 947.9h1.7v1.7h-1.7zM264.4 947.6h1.7v1.7h-1.7zM269.9 947.8h1.7v1.7h-1.7zM271.5 947.9h1.7v1.7h-1.7zM275.7 947.4h1.7v1.7h-1.7zM277.5 947.8h1.7v1.7h-1.7zM279.6 947.7h1.7v1.7h-1.7zM280.8 947.7h1.7v1.7h-1.7zM283.4 947.8h1.7v1.7h-1.7zM256.8 948.5h1.7v1.7h-1.7zM260.8 948.6h1.7v1.7h-1.7zM261.7 948.7h1.7v1.7h-1.7zM283.5 948.4h1.7v1.7h-1.7zM295.5 948.6h1.7v1.7h-1.7zM259.5 949.9h1.7v1.7h-1.7zM268.9 949.7h1.7v1.7h-1.7zM269.9 949.9h1.7v1.7h-1.7zM274.8 949.7h1.7v1.7h-1.7zM276.5 949.7h1.7v1.7h-1.7zM281.5 949.6h1.7v1.7h-1.7zM282.6 949.6h1.7v1.7h-1.7zM283.6 949.5h1.7v1.7h-1.7zM299.8 949.4h1.7v1.7h-1.7zM253.8 950.5h1.7v1.7h-1.7zM257.5 950.5h1.7v1.7h-1.7zM259.9 950.9h1.7v1.7h-1.7zM262.8 950.5h1.7v1.7h-1.7zM264.6 950.9h1.7v1.7h-1.7zM269.6 950.7h1.7v1.7h-1.7zM274.7 950.5h1.7v1.7h-1.7zM275.4 950.8h1.7v1.7h-1.7zM276.4 950.8h1.7v1.7h-1.7zM278.9 950.9h1.7v1.7h-1.7zM284.8 950.5h1.7v1.7h-1.7zM285.8 950.8h1.7v1.7h-1.7zM257.9 951.8h1.7v1.7h-1.7zM259.8 951.9h1.7v1.7h-1.7zM260.7 951.7h1.7v1.7h-1.7zM261.6 951.8h1.7v1.7h-1.7zM262.6 951.7h1.7v1.7h-1.7zM266.4 951.6h1.7v1.7h-1.7zM269.9 951.8h1.7v1.7h-1.7zM272.9 951.4h1.7v1.7h-1.7zM275.9 951.4h1.7v1.7h-1.7zM276.8 951.4h1.7v1.7h-1.7zM278.8 951.9h1.7v1.7h-1.7zM279.6 951.6h1.7v1.7h-1.7zM282.4 951.9h1.7v1.7h-1.7zM283.8 951.9h1.7v1.7h-1.7zM288.9 951.4h1.7v1.7h-1.7zM261.4 952.8h1.7v1.7h-1.7zM263.6 952.9h1.7v1.7h-1.7zM264.9 952.6h1.7v1.7h-1.7zM265.7 952.7h1.7v1.7h-1.7zM275.5 952.7h1.7v1.7h-1.7zM276.5 952.6h1.7v1.7h-1.7zM277.6 952.5h1.7v1.7h-1.7zM280.6 952.7h1.7v1.7h-1.7zM281.9 952.4h1.7v1.7h-1.7zM282.6 952.5h1.7v1.7h-1.7zM285.9 952.7h1.7v1.7h-1.7zM256.9 953.9h1.7v1.7h-1.7zM259.6 953.8h1.7v1.7h-1.7zM260.4 953.4h1.7v1.7h-1.7zM261.5 953.8h1.7v1.7h-1.7zM269.6 953.7h1.7v1.7h-1.7zM270.7 953.5h1.7v1.7h-1.7zM272.8 953.7h1.7v1.7h-1.7zM273.8 953.5h1.7v1.7h-1.7zM274.4 953.9h1.7v1.7h-1.7zM276.7 953.5h1.7v1.7h-1.7zM278.5 953.9h1.7v1.7h-1.7zM279.8 953.8h1.7v1.7h-1.7zM280.9 953.6h1.7v1.7h-1.7zM281.4 953.4h1.7v1.7h-1.7zM288.9 953.7h1.7v1.7h-1.7zM257.8 954.8h1.7v1.7h-1.7zM258.9 954.6h1.7v1.7h-1.7zM261.7 954.7h1.7v1.7h-1.7zM264.6 954.9h1.7v1.7h-1.7zM267.8 954.6h1.7v1.7h-1.7zM268.6 954.6h1.7v1.7h-1.7zM269.4 954.4h1.7v1.7h-1.7zM270.7 954.7h1.7v1.7h-1.7zM271.7 954.8h1.7v1.7h-1.7zM274.8 954.5h1.7v1.7h-1.7zM277.5 954.9h1.7v1.7h-1.7zM279.4 954.5h1.7v1.7h-1.7zM254.9 955.7h1.7v1.7h-1.7zM256.6 955.5h1.7v1.7h-1.7zM258.9 955.9h1.7v1.7h-1.7zM260.8 955.5h1.7v1.7h-1.7zM261.8 955.4h1.7v1.7h-1.7zM263.5 955.4h1.7v1.7h-1.7zM266.4 955.6h1.7v1.7h-1.7zM267.8 955.9h1.7v1.7h-1.7zM269.6 955.7h1.7v1.7h-1.7zM271.9 955.7h1.7v1.7h-1.7zM273.4 955.6h1.7v1.7h-1.7zM275.7 955.9h1.7v1.7h-1.7zM276.9 955.9h1.7v1.7h-1.7zM278.8 955.8h1.7v1.7h-1.7zM279.9 955.8h1.7v1.7h-1.7zM281.7 955.4h1.7v1.7h-1.7zM283.9 955.4h1.7v1.7h-1.7zM284.8 955.9h1.7v1.7h-1.7zM290.9 955.8h1.7v1.7h-1.7zM253.8 956.8h1.7v1.7h-1.7zM256.4 956.5h1.7v1.7h-1.7zM264.5 956.8h1.7v1.7h-1.7zM265.6 956.8h1.7v1.7h-1.7zM266.7 956.6h1.7v1.7h-1.7zM268.8 956.8h1.7v1.7h-1.7zM269.7 956.8h1.7v1.7h-1.7zM270.9 956.5h1.7v1.7h-1.7zM271.7 956.4h1.7v1.7h-1.7zM272.7 956.6h1.7v1.7h-1.7zM273.8 956.9h1.7v1.7h-1.7zM274.5 956.8h1.7v1.7h-1.7zM278.4 956.5h1.7v1.7h-1.7zM279.6 956.7h1.7v1.7h-1.7zM280.8 956.4h1.7v1.7h-1.7zM281.4 956.9h1.7v1.7h-1.7zM282.7 956.7h1.7v1.7h-1.7zM283.9 956.5h1.7v1.7h-1.7zM284.7 956.9h1.7v1.7h-1.7zM287.6 956.7h1.7v1.7h-1.7zM289.6 956.4h1.7v1.7h-1.7zM252.5 957.4h1.7v1.7h-1.7zM253.4 957.7h1.7v1.7h-1.7zM257.4 957.6h1.7v1.7h-1.7zM260.9 957.9h1.7v1.7h-1.7zM262.8 957.9h1.7v1.7h-1.7zM264.4 957.7h1.7v1.7h-1.7zM266.7 957.7h1.7v1.7h-1.7zM267.8 957.5h1.7v1.7h-1.7zM269.8 957.4h1.7v1.7h-1.7zM271.9 957.9h1.7v1.7h-1.7zM272.5 957.9h1.7v1.7h-1.7zM277.8 957.4h1.7v1.7h-1.7zM278.8 957.4h1.7v1.7h-1.7zM279.8 957.9h1.7v1.7h-1.7zM280.9 957.5h1.7v1.7h-1.7zM284.7 957.4h1.7v1.7h-1.7zM285.8 957.4h1.7v1.7h-1.7zM286.6 957.8h1.7v1.7h-1.7zM292.7 957.4h1.7v1.7h-1.7zM258.7 958.4h1.7v1.7h-1.7zM260.7 958.6h1.7v1.7h-1.7zM261.6 958.4h1.7v1.7h-1.7zM263.6 958.5h1.7v1.7h-1.7zM264.7 958.6h1.7v1.7h-1.7zM265.5 958.6h1.7v1.7h-1.7zM266.6 958.4h1.7v1.7h-1.7zM268.9 958.5h1.7v1.7h-1.7zM270.9 958.6h1.7v1.7h-1.7zM271.4 958.8h1.7v1.7h-1.7zM272.4 958.4h1.7v1.7h-1.7zM274.5 958.6h1.7v1.7h-1.7zM276.7 958.8h1.7v1.7h-1.7zM278.7 958.9h1.7v1.7h-1.7zM279.4 958.4h1.7v1.7h-1.7zM280.9 958.6h1.7v1.7h-1.7zM281.4 958.4h1.7v1.7h-1.7zM282.6 958.9h1.7v1.7h-1.7zM283.6 958.4h1.7v1.7h-1.7zM286.7 958.7h1.7v1.7h-1.7zM287.6 958.8h1.7v1.7h-1.7zM261.7 959.5h1.7v1.7h-1.7zM262.4 959.7h1.7v1.7h-1.7zM264.9 959.9h1.7v1.7h-1.7zM265.5 959.8h1.7v1.7h-1.7zM266.9 959.9h1.7v1.7h-1.7zM267.8 959.9h1.7v1.7h-1.7zM269.8 959.9h1.7v1.7h-1.7zM271.4 959.5h1.7v1.7h-1.7zM272.6 959.7h1.7v1.7h-1.7zM273.8 959.6h1.7v1.7h-1.7zM274.8 959.5h1.7v1.7h-1.7zM275.9 959.9h1.7v1.7h-1.7zM276.6 959.5h1.7v1.7h-1.7zM277.6 959.6h1.7v1.7h-1.7zM278.7 959.4h1.7v1.7h-1.7zM279.6 959.5h1.7v1.7h-1.7zM280.9 959.9h1.7v1.7h-1.7zM281.9 959.9h1.7v1.7h-1.7zM285.7 959.6h1.7v1.7h-1.7zM289.6 959.8h1.7v1.7h-1.7zM257.6 960.9h1.7v1.7h-1.7zM258.7 960.5h1.7v1.7h-1.7zM261.7 960.5h1.7v1.7h-1.7zM263.6 960.9h1.7v1.7h-1.7zM266.5 960.6h1.7v1.7h-1.7zM268.8 960.9h1.7v1.7h-1.7zM270.7 960.9h1.7v1.7h-1.7zM271.7 960.4h1.7v1.7h-1.7zM273.6 960.7h1.7v1.7h-1.7zM274.5 960.7h1.7v1.7h-1.7zM275.4 960.6h1.7v1.7h-1.7zM276.8 960.5h1.7v1.7h-1.7zM277.9 960.9h1.7v1.7h-1.7zM278.9 960.7h1.7v1.7h-1.7zM279.4 960.8h1.7v1.7h-1.7zM280.9 960.6h1.7v1.7h-1.7zM281.9 960.5h1.7v1.7h-1.7zM282.9 960.4h1.7v1.7h-1.7zM283.5 960.8h1.7v1.7h-1.7zM285.8 960.5h1.7v1.7h-1.7zM287.5 960.8h1.7v1.7h-1.7zM295.7 960.7h1.7v1.7h-1.7zM255.4 961.4h1.7v1.7h-1.7zM258.4 961.7h1.7v1.7h-1.7zM262.6 961.7h1.7v1.7h-1.7zM265.4 961.8h1.7v1.7h-1.7zM266.4 961.4h1.7v1.7h-1.7zM267.6 961.9h1.7v1.7h-1.7zM271.5 961.4h1.7v1.7h-1.7zM272.5 961.5h1.7v1.7h-1.7zM274.5 961.4h1.7v1.7h-1.7zM275.5 961.6h1.7v1.7h-1.7zM276.9 961.5h1.7v1.7h-1.7zM278.7 961.5h1.7v1.7h-1.7zM279.8 961.4h1.7v1.7h-1.7zM280.5 961.7h1.7v1.7h-1.7zM282.4 961.6h1.7v1.7h-1.7zM283.9 961.7h1.7v1.7h-1.7zM284.6 961.7h1.7v1.7h-1.7zM287.4 961.5h1.7v1.7h-1.7zM290.9 961.8h1.7v1.7h-1.7zM256.8 962.4h1.7v1.7h-1.7zM257.9 962.6h1.7v1.7h-1.7zM258.6 962.8h1.7v1.7h-1.7zM262.8 962.9h1.7v1.7h-1.7zM263.9 962.7h1.7v1.7h-1.7zM264.6 962.5h1.7v1.7h-1.7zM266.8 962.7h1.7v1.7h-1.7zM268.5 962.7h1.7v1.7h-1.7zM269.6 962.7h1.7v1.7h-1.7zM276.9 962.6h1.7v1.7h-1.7zM278.8 962.7h1.7v1.7h-1.7zM279.6 962.4h1.7v1.7h-1.7zM280.8 962.4h1.7v1.7h-1.7zM285.9 962.5h1.7v1.7h-1.7zM296.8 962.7h1.7v1.7h-1.7zM255.6 963.8h1.7v1.7h-1.7zM257.5 963.6h1.7v1.7h-1.7zM260.9 963.6h1.7v1.7h-1.7zM261.9 963.5h1.7v1.7h-1.7zM262.7 963.5h1.7v1.7h-1.7zM265.5 963.7h1.7v1.7h-1.7zM266.7 963.5h1.7v1.7h-1.7zM267.5 963.5h1.7v1.7h-1.7zM268.4 963.9h1.7v1.7h-1.7zM269.6 963.4h1.7v1.7h-1.7zM270.4 963.5h1.7v1.7h-1.7zM272.6 963.9h1.7v1.7h-1.7zM274.8 963.7h1.7v1.7h-1.7zM278.9 963.7h1.7v1.7h-1.7zM279.4 963.6h1.7v1.7h-1.7zM280.7 963.4h1.7v1.7h-1.7zM282.4 963.4h1.7v1.7h-1.7zM283.7 963.6h1.7v1.7h-1.7zM287.8 963.9h1.7v1.7h-1.7zM289.6 963.5h1.7v1.7h-1.7zM290.8 963.8h1.7v1.7h-1.7zM292.8 963.7h1.7v1.7h-1.7zM255.4 964.9h1.7v1.7h-1.7zM258.8 964.5h1.7v1.7h-1.7zM260.7 964.8h1.7v1.7h-1.7zM262.6 964.8h1.7v1.7h-1.7zM263.8 964.9h1.7v1.7h-1.7zM264.6 964.6h1.7v1.7h-1.7zM265.9 964.6h1.7v1.7h-1.7zM267.9 964.4h1.7v1.7h-1.7zM268.7 964.8h1.7v1.7h-1.7zM269.7 964.7h1.7v1.7h-1.7zM270.8 964.9h1.7v1.7h-1.7zM272.7 964.9h1.7v1.7h-1.7zM273.8 964.9h1.7v1.7h-1.7zM275.7 964.7h1.7v1.7h-1.7zM276.4 964.7h1.7v1.7h-1.7zM279.6 964.9h1.7v1.7h-1.7zM280.7 964.5h1.7v1.7h-1.7zM281.4 964.9h1.7v1.7h-1.7zM282.8 964.9h1.7v1.7h-1.7zM283.9 964.4h1.7v1.7h-1.7zM285.5 964.4h1.7v1.7h-1.7zM286.4 964.7h1.7v1.7h-1.7zM288.8 964.4h1.7v1.7h-1.7zM293.8 964.5h1.7v1.7h-1.7zM253.6 965.6h1.7v1.7h-1.7zM255.7 965.5h1.7v1.7h-1.7zM257.4 965.6h1.7v1.7h-1.7zM258.9 965.7h1.7v1.7h-1.7zM260.4 965.6h1.7v1.7h-1.7zM262.4 965.5h1.7v1.7h-1.7zM263.5 965.6h1.7v1.7h-1.7zM265.9 965.6h1.7v1.7h-1.7zM266.8 965.5h1.7v1.7h-1.7zM267.7 965.6h1.7v1.7h-1.7zM268.7 965.5h1.7v1.7h-1.7zM269.4 965.7h1.7v1.7h-1.7zM271.6 965.5h1.7v1.7h-1.7zM272.4 965.5h1.7v1.7h-1.7zM275.8 965.4h1.7v1.7h-1.7zM277.5 965.4h1.7v1.7h-1.7zM280.4 965.6h1.7v1.7h-1.7zM283.8 965.5h1.7v1.7h-1.7zM288.7 965.5h1.7v1.7h-1.7zM255.4 966.6h1.7v1.7h-1.7zM257.9 966.9h1.7v1.7h-1.7zM258.5 966.8h1.7v1.7h-1.7zM259.7 966.5h1.7v1.7h-1.7zM260.5 966.7h1.7v1.7h-1.7zM261.4 966.8h1.7v1.7h-1.7zM262.7 966.8h1.7v1.7h-1.7zM264.5 966.5h1.7v1.7h-1.7zM266.9 966.5h1.7v1.7h-1.7zM267.7 966.7h1.7v1.7h-1.7zM268.8 966.5h1.7v1.7h-1.7zM270.8 966.9h1.7v1.7h-1.7zM271.4 966.8h1.7v1.7h-1.7zM272.9 966.8h1.7v1.7h-1.7zM274.4 966.7h1.7v1.7h-1.7zM276.5 966.4h1.7v1.7h-1.7zM277.9 966.7h1.7v1.7h-1.7zM282.9 966.9h1.7v1.7h-1.7zM283.7 966.9h1.7v1.7h-1.7zM284.9 966.9h1.7v1.7h-1.7zM285.8 966.9h1.7v1.7h-1.7zM286.4 966.8h1.7v1.7h-1.7zM291.4 966.7h1.7v1.7h-1.7zM255.7 967.7h1.7v1.7h-1.7zM256.9 967.6h1.7v1.7h-1.7zM258.7 967.6h1.7v1.7h-1.7zM259.8 967.6h1.7v1.7h-1.7zM260.5 967.6h1.7v1.7h-1.7zM261.6 967.8h1.7v1.7h-1.7zM263.5 967.8h1.7v1.7h-1.7zM264.5 967.8h1.7v1.7h-1.7zM266.6 967.5h1.7v1.7h-1.7zM267.4 967.6h1.7v1.7h-1.7zM268.5 967.9h1.7v1.7h-1.7zM271.4 967.5h1.7v1.7h-1.7zM272.7 967.5h1.7v1.7h-1.7zM273.5 967.7h1.7v1.7h-1.7zM274.7 967.4h1.7v1.7h-1.7zM275.6 967.7h1.7v1.7h-1.7zM276.7 967.4h1.7v1.7h-1.7zM277.6 967.9h1.7v1.7h-1.7zM281.5 967.5h1.7v1.7h-1.7zM283.5 967.9h1.7v1.7h-1.7zM286.4 967.9h1.7v1.7h-1.7zM287.8 967.9h1.7v1.7h-1.7zM288.6 967.7h1.7v1.7h-1.7zM258.8 968.4h1.7v1.7h-1.7zM259.4 968.8h1.7v1.7h-1.7zM260.4 968.6h1.7v1.7h-1.7zM262.6 968.7h1.7v1.7h-1.7zM265.5 968.7h1.7v1.7h-1.7zM266.6 968.9h1.7v1.7h-1.7zM268.9 968.7h1.7v1.7h-1.7zM269.6 968.8h1.7v1.7h-1.7zM270.6 968.7h1.7v1.7h-1.7zM271.9 968.6h1.7v1.7h-1.7zM273.8 968.6h1.7v1.7h-1.7zM278.8 968.5h1.7v1.7h-1.7zM279.4 968.5h1.7v1.7h-1.7zM280.8 968.5h1.7v1.7h-1.7zM281.6 968.7h1.7v1.7h-1.7zM282.9 968.9h1.7v1.7h-1.7zM283.8 968.8h1.7v1.7h-1.7zM285.9 968.5h1.7v1.7h-1.7zM287.9 968.5h1.7v1.7h-1.7zM288.9 968.5h1.7v1.7h-1.7zM293.7 968.8h1.7v1.7h-1.7zM256.9 969.9h1.7v1.7h-1.7zM258.7 969.9h1.7v1.7h-1.7zM259.4 969.5h1.7v1.7h-1.7zM260.4 969.4h1.7v1.7h-1.7zM261.4 969.7h1.7v1.7h-1.7zM262.7 969.6h1.7v1.7h-1.7zM263.7 969.5h1.7v1.7h-1.7zM265.6 969.5h1.7v1.7h-1.7zM267.9 969.6h1.7v1.7h-1.7zM268.4 969.8h1.7v1.7h-1.7zM270.5 969.9h1.7v1.7h-1.7zM271.7 969.6h1.7v1.7h-1.7zM274.4 969.9h1.7v1.7h-1.7zM276.6 969.5h1.7v1.7h-1.7zM278.9 969.5h1.7v1.7h-1.7zM280.4 969.7h1.7v1.7h-1.7zM282.7 969.4h1.7v1.7h-1.7zM284.7 969.4h1.7v1.7h-1.7zM285.4 969.5h1.7v1.7h-1.7zM286.8 969.9h1.7v1.7h-1.7zM287.4 969.7h1.7v1.7h-1.7zM290.9 969.5h1.7v1.7h-1.7zM292.8 969.4h1.7v1.7h-1.7zM295.7 969.9h1.7v1.7h-1.7zM255.8 970.9h1.7v1.7h-1.7zM257.8 970.4h1.7v1.7h-1.7zM258.5 970.7h1.7v1.7h-1.7zM259.7 970.5h1.7v1.7h-1.7zM260.4 970.9h1.7v1.7h-1.7zM261.4 970.4h1.7v1.7h-1.7zM264.9 970.4h1.7v1.7h-1.7zM265.7 970.8h1.7v1.7h-1.7zM267.8 970.8h1.7v1.7h-1.7zM268.9 970.4h1.7v1.7h-1.7zM269.9 970.8h1.7v1.7h-1.7zM273.4 970.7h1.7v1.7h-1.7zM274.4 970.8h1.7v1.7h-1.7zM275.5 970.4h1.7v1.7h-1.7zM277.8 970.4h1.7v1.7h-1.7zM278.7 970.6h1.7v1.7h-1.7zM279.5 970.9h1.7v1.7h-1.7zM282.9 970.8h1.7v1.7h-1.7zM284.7 970.6h1.7v1.7h-1.7zM286.4 970.7h1.7v1.7h-1.7zM287.5 970.4h1.7v1.7h-1.7zM289.5 970.6h1.7v1.7h-1.7zM295.9 970.6h1.7v1.7h-1.7zM255.6 971.9h1.7v1.7h-1.7zM257.4 971.8h1.7v1.7h-1.7zM259.9 971.9h1.7v1.7h-1.7zM261.4 971.9h1.7v1.7h-1.7zM262.5 971.9h1.7v1.7h-1.7zM263.4 971.8h1.7v1.7h-1.7zM265.5 971.4h1.7v1.7h-1.7zM266.9 971.4h1.7v1.7h-1.7zM268.6 971.5h1.7v1.7h-1.7zM269.8 971.6h1.7v1.7h-1.7zM270.9 971.4h1.7v1.7h-1.7zM271.6 971.4h1.7v1.7h-1.7zM272.8 971.9h1.7v1.7h-1.7zM275.6 971.6h1.7v1.7h-1.7zM276.7 971.5h1.7v1.7h-1.7zM277.6 971.7h1.7v1.7h-1.7zM278.6 971.9h1.7v1.7h-1.7zM281.6 971.5h1.7v1.7h-1.7zM283.8 971.7h1.7v1.7h-1.7zM287.7 971.8h1.7v1.7h-1.7zM297.5 971.7h1.7v1.7h-1.7zM255.9 972.4h1.7v1.7h-1.7zM257.5 972.8h1.7v1.7h-1.7zM258.4 972.9h1.7v1.7h-1.7zM261.7 972.6h1.7v1.7h-1.7zM262.7 972.6h1.7v1.7h-1.7zM264.8 972.4h1.7v1.7h-1.7zM265.8 972.5h1.7v1.7h-1.7zM266.5 972.8h1.7v1.7h-1.7zM267.7 972.7h1.7v1.7h-1.7zM269.6 972.9h1.7v1.7h-1.7zM270.6 972.9h1.7v1.7h-1.7zM272.4 972.6h1.7v1.7h-1.7zM276.8 972.7h1.7v1.7h-1.7zM278.5 972.4h1.7v1.7h-1.7zM279.5 972.8h1.7v1.7h-1.7zM280.6 972.6h1.7v1.7h-1.7zM281.8 972.9h1.7v1.7h-1.7zM282.5 972.8h1.7v1.7h-1.7zM283.8 972.8h1.7v1.7h-1.7zM287.8 972.4h1.7v1.7h-1.7zM288.6 972.9h1.7v1.7h-1.7zM296.7 972.4h1.7v1.7h-1.7zM253.5 973.6h1.7v1.7h-1.7zM255.8 973.5h1.7v1.7h-1.7zM259.8 973.9h1.7v1.7h-1.7zM262.9 973.9h1.7v1.7h-1.7zM263.8 973.5h1.7v1.7h-1.7zM264.7 973.8h1.7v1.7h-1.7zM266.6 973.7h1.7v1.7h-1.7zM268.8 973.4h1.7v1.7h-1.7zM269.5 973.4h1.7v1.7h-1.7zM270.9 973.5h1.7v1.7h-1.7zM271.5 973.4h1.7v1.7h-1.7zM272.7 973.7h1.7v1.7h-1.7zM273.9 973.7h1.7v1.7h-1.7zM277.4 973.4h1.7v1.7h-1.7zM278.9 973.5h1.7v1.7h-1.7zM279.8 973.5h1.7v1.7h-1.7zM280.8 973.9h1.7v1.7h-1.7zM283.8 973.6h1.7v1.7h-1.7zM284.4 973.4h1.7v1.7h-1.7zM285.8 973.9h1.7v1.7h-1.7zM287.5 973.4h1.7v1.7h-1.7zM288.7 973.7h1.7v1.7h-1.7zM292.5 973.9h1.7v1.7h-1.7zM293.4 973.5h1.7v1.7h-1.7zM259.8 974.6h1.7v1.7h-1.7zM260.6 974.7h1.7v1.7h-1.7zM261.9 974.5h1.7v1.7h-1.7zM263.5 974.7h1.7v1.7h-1.7zM266.5 974.4h1.7v1.7h-1.7zM267.7 974.7h1.7v1.7h-1.7zM275.7 974.7h1.7v1.7h-1.7zM276.6 974.9h1.7v1.7h-1.7zM277.5 974.9h1.7v1.7h-1.7zM278.9 974.4h1.7v1.7h-1.7zM281.8 974.4h1.7v1.7h-1.7zM282.5 974.9h1.7v1.7h-1.7zM283.9 974.8h1.7v1.7h-1.7zM284.5 974.8h1.7v1.7h-1.7zM285.4 974.9h1.7v1.7h-1.7zM286.8 974.7h1.7v1.7h-1.7zM287.5 974.7h1.7v1.7h-1.7zM288.7 974.5h1.7v1.7h-1.7zM290.7 974.6h1.7v1.7h-1.7zM254.5 975.8h1.7v1.7h-1.7zM256.8 975.5h1.7v1.7h-1.7zM258.8 975.5h1.7v1.7h-1.7zM259.5 975.4h1.7v1.7h-1.7zM260.5 975.7h1.7v1.7h-1.7zM261.6 975.5h1.7v1.7h-1.7zM262.7 975.8h1.7v1.7h-1.7zM263.4 975.5h1.7v1.7h-1.7zM264.9 975.9h1.7v1.7h-1.7zM283.6 975.5h1.7v1.7h-1.7zM284.5 975.4h1.7v1.7h-1.7zM286.8 975.5h1.7v1.7h-1.7zM287.4 975.8h1.7v1.7h-1.7zM291.4 975.7h1.7v1.7h-1.7zM253.6 976.5h1.7v1.7h-1.7zM254.4 976.7h1.7v1.7h-1.7zM255.9 976.6h1.7v1.7h-1.7zM257.8 976.8h1.7v1.7h-1.7zM258.5 976.8h1.7v1.7h-1.7zM259.8 976.5h1.7v1.7h-1.7zM287.7 976.6h1.7v1.7h-1.7zM288.7 976.7h1.7v1.7h-1.7zM289.9 976.6h1.7v1.7h-1.7zM290.7 976.8h1.7v1.7h-1.7zM255.5 977.9h1.7v1.7h-1.7zM288.4 977.9h1.7v1.7h-1.7zM290.8 977.5h1.7v1.7h-1.7zM291.5 977.6h1.7v1.7h-1.7zM292.7 977.8h1.7v1.7h-1.7zM294.6 977.5h1.7v1.7h-1.7zM253.6 978.7h1.7v1.7h-1.7zM288.7 978.6h1.7v1.7h-1.7zM289.5 978.9h1.7v1.7h-1.7zM290.6 978.8h1.7v1.7h-1.7zM291.7 978.6h1.7v1.7h-1.7zM293.5 978.8h1.7v1.7h-1.7zM289.5 979.8h1.7v1.7h-1.7zM294.9 979.6h1.7v1.7h-1.7zM291.7 980.9h1.7v1.7h-1.7zM293.7 980.5h1.7v1.7h-1.7zM289.7 981.4h1.7v1.7h-1.7zM291.7 981.4h1.7v1.7h-1.7zM291.8 982.7h1.7v1.7h-1.7zM292.9 982.5h1.7v1.7h-1.7zM294.6 983.9h1.7v1.7h-1.7zM308.5 983.8h1.7v1.7h-1.7zM290.4 984.4h1.7v1.7h-1.7zM297.9 984.6h1.7v1.7h-1.7zM299.6 984.9h1.7v1.7h-1.7zM292.7 985.5h1.7v1.7h-1.7zM295.9 986.8h1.7v1.7h-1.7zM291.7 987.8h1.7v1.7h-1.7zM300.7 987.4h1.7v1.7h-1.7zM294.6 993.6h1.7v1.7h-1.7zM295.7 993.6h1.7v1.7h-1.7zM300.9 995.6h1.7v1.7h-1.7zM294.5 996.6h1.7v1.7h-1.7zM293.7 997.4h1.7v1.7h-1.7zM296.7 997.8h1.7v1.7h-1.7zM294.6 998.4h1.7v1.7h-1.7zM295.6 1001.4h1.7v1.7h-1.7zM295.6 1011.8h1.7v1.7h-1.7zM296.5 1011.6h1.7v1.7h-1.7zM298.4 1014.5h1.7v1.7h-1.7zM294.6 1015.5h1.7v1.7h-1.7zM298.8 1015.5h1.7v1.7h-1.7zM294.9 1017.6h1.7v1.7h-1.7zM294.5 1018.7h1.7v1.7h-1.7zM294.4 1020.8h1.7v1.7h-1.7zM295.9 1020.7h1.7v1.7h-1.7zM298.4 1020.5h1.7v1.7h-1.7zM295.9 1022.7h1.7v1.7h-1.7zM296.6 1022.7h1.7v1.7h-1.7zM301.7 1024.4h1.7v1.7h-1.7zM294.8 1028.5h1.7v1.7h-1.7zM295.6 1029.6h1.7v1.7h-1.7zM294.9 1030.6h1.7v1.7h-1.7zM295.7 1031.8h1.7v1.7h-1.7zM294.5 1033.7h1.7v1.7h-1.7zM300.4 1033.6h1.7v1.7h-1.7zM294.8 1034.8h1.7v1.7h-1.7zM295.7 1036.8h1.7v1.7h-1.7zM295.8 1037.5h1.7v1.7h-1.7zM292.6 1039.6h1.7v1.7h-1.7zM294.5 1042.4h1.7v1.7h-1.7zM295.6 1043.8h1.7v1.7h-1.7zM291.6 1045.9h1.7v1.7h-1.7zM291.5 1046.4h1.7v1.7h-1.7zM294.9 1048.7h1.7v1.7h-1.7zM290.6 1050.9h1.7v1.7h-1.7zM292.8 1051.8h1.7v1.7h-1.7zM291.8 1056.7h1.7v1.7h-1.7zM292.4 1058.8h1.7v1.7h-1.7z"/><path fill="#333" d="M338.8 944.2h1.6v1.6h-1.6zM352.7 958.0h1.6v1.6h-1.6zM355.7 962.7h1.6v1.6h-1.6zM364.2 966.5h1.6v1.6h-1.6zM312.7 958.8h1.6v1.6h-1.6zM309.6 970.2h1.6v1.6h-1.6zM321.1 971.9h1.6v1.6h-1.6zM329.6 961.9h1.6v1.6h-1.6zM335.7 961.9h1.6v1.6h-1.6zM312.2 961.2h1.6v1.6h-1.6zM340.8 971.2h1.6v1.6h-1.6zM336.9 975.5h1.6v1.6h-1.6zM340.0 975.7h1.6v1.6h-1.6zM348.0 974.0h1.6v1.6h-1.6zM341.9 979.7h1.6v1.6h-1.6zM350.8 970.5h1.6v1.6h-1.6zM333.3 980.3h1.6v1.6h-1.6zM335.9 983.3h1.6v1.6h-1.6zM330.7 985.7h1.6v1.6h-1.6zM322.5 978.1h1.6v1.6h-1.6zM338.4 973.9h1.6v1.6h-1.6zM346.0 983.9h1.6v1.6h-1.6zM336.0 988.1h1.6v1.6h-1.6zM341.5 981.2h1.6v1.6h-1.6zM341.9 978.1h1.6v1.6h-1.6zM348.9 982.1h1.6v1.6h-1.6zM332.3 973.8h1.6v1.6h-1.6zM343.7 976.1h1.6v1.6h-1.6zM336.6 984.6h1.6v1.6h-1.6zM338.5 989.7h1.6v1.6h-1.6zM339.6 979.3h1.6v1.6h-1.6zM338.7 977.4h1.6v1.6h-1.6zM328.2 972.2h1.6v1.6h-1.6zM326.6 981.1h1.6v1.6h-1.6zM346.0 978.1h1.6v1.6h-1.6zM332.3 990.3h1.6v1.6h-1.6zM326.2 973.9h1.6v1.6h-1.6zM345.3 983.9h1.6v1.6h-1.6zM352.4 979.0h1.6v1.6h-1.6zM340.6 979.6h1.6v1.6h-1.6zM350.5 983.6h1.6v1.6h-1.6zM341.8 970.1h1.6v1.6h-1.6zM351.0 981.9h1.6v1.6h-1.6zM348.7 989.9h1.6v1.6h-1.6zM348.2 976.4h1.6v1.6h-1.6zM342.7 980.5h1.6v1.6h-1.6zM343.5 980.5h1.6v1.6h-1.6zM340.9 979.5h1.6v1.6h-1.6zM338.5 982.5h1.6v1.6h-1.6zM341.3 978.3h1.6v1.6h-1.6zM346.5 976.1h1.6v1.6h-1.6zM338.3 973.1h1.6v1.6h-1.6zM341.9 991.8h1.6v1.6h-1.6zM345.0 982.0h1.6v1.6h-1.6zM347.5 982.8h1.6v1.6h-1.6zM352.3 974.6h1.6v1.6h-1.6zM347.4 979.7h1.6v1.6h-1.6zM337.0 982.8h1.6v1.6h-1.6zM343.1 985.6h1.6v1.6h-1.6zM340.4 975.1h1.6v1.6h-1.6zM328.5 971.8h1.6v1.6h-1.6zM341.3 976.9h1.6v1.6h-1.6zM342.9 984.5h1.6v1.6h-1.6zM328.7 974.0h1.6v1.6h-1.6zM335.3 978.6h1.6v1.6h-1.6zM320.9 986.9h1.6v1.6h-1.6zM309.8 989.1h1.6v1.6h-1.6zM322.9 984.8h1.6v1.6h-1.6zM320.7 985.2h1.6v1.6h-1.6zM324.4 983.4h1.6v1.6h-1.6zM320.7 985.1h1.6v1.6h-1.6zM307.9 992.0h1.6v1.6h-1.6zM303.5 989.8h1.6v1.6h-1.6zM318.5 985.8h1.6v1.6h-1.6zM309.3 990.2h1.6v1.6h-1.6zM321.4 986.3h1.6v1.6h-1.6zM322.6 985.6h1.6v1.6h-1.6zM316.3 989.0h1.6v1.6h-1.6zM317.4 986.0h1.6v1.6h-1.6zM315.2 982.5h1.6v1.6h-1.6zM321.1 981.6h1.6v1.6h-1.6zM318.1 986.6h1.6v1.6h-1.6zM323.1 984.9h1.6v1.6h-1.6zM315.7 989.9h1.6v1.6h-1.6zM329.5 987.3h1.6v1.6h-1.6zM320.1 982.7h1.6v1.6h-1.6zM314.3 986.1h1.6v1.6h-1.6zM326.1 986.5h1.6v1.6h-1.6zM309.5 988.2h1.6v1.6h-1.6zM316.5 987.4h1.6v1.6h-1.6zM324.7 985.2h1.6v1.6h-1.6zM327.6 983.2h1.6v1.6h-1.6zM314.1 984.4h1.6v1.6h-1.6zM311.5 997.8h1.6v1.6h-1.6zM330.7 998.2h1.6v1.6h-1.6zM327.2 1003.0h1.6v1.6h-1.6zM317.1 997.7h1.6v1.6h-1.6zM321.4 994.5h1.6v1.6h-1.6zM323.6 996.5h1.6v1.6h-1.6zM327.9 998.8h1.6v1.6h-1.6zM299.4 996.2h1.6v1.6h-1.6zM346.9 972.4h1.6v1.6h-1.6zM347.8 968.0h1.6v1.6h-1.6zM333.9 974.6h1.6v1.6h-1.6zM347.0 961.6h1.6v1.6h-1.6zM356.3 963.5h1.6v1.6h-1.6zM341.2 968.3h1.6v1.6h-1.6zM346.9 969.1h1.6v1.6h-1.6zM352.5 961.2h1.6v1.6h-1.6zM338.3 966.2h1.6v1.6h-1.6zM337.2 967.3h1.6v1.6h-1.6z"/></g><rect x="46.5" y="74.0" width="177.00" height="175.80" fill="none" stroke="#000" stroke-width="1.8"/><path stroke="#000" stroke-width="1.5" fill="none" d="M97.5 74.0V249.8M46.5 180.5H223.5"/><path stroke="#000" stroke-width="1.3" fill="none" d="M59.82 249.80v3M46.50 236.57h-3M67.61 249.80v3M46.50 228.83h-3M73.14 249.80v3M46.50 223.34h-3M77.43 249.80v3M46.50 219.08h-3M80.93 249.80v3M46.50 215.60h-3M83.90 249.80v3M46.50 212.66h-3M86.46 249.80v3M46.50 210.11h-3M88.73 249.80v3M46.50 207.86h-3M104.07 249.80v3M46.50 192.62h-3M111.86 249.80v3M46.50 184.88h-3M117.39 249.80v3M46.50 179.39h-3M121.68 249.80v3M46.50 175.13h-3M125.18 249.80v3M46.50 171.65h-3M128.15 249.80v3M46.50 168.71h-3M130.71 249.80v3M46.50 166.16h-3M132.98 249.80v3M46.50 163.91h-3M148.32 249.80v3M46.50 148.67h-3M156.11 249.80v3M46.50 140.93h-3M161.64 249.80v3M46.50 135.44h-3M165.93 249.80v3M46.50 131.18h-3M169.43 249.80v3M46.50 127.70h-3M172.40 249.80v3M46.50 124.76h-3M174.96 249.80v3M46.50 122.21h-3M177.23 249.80v3M46.50 119.96h-3M192.57 249.80v3M46.50 104.72h-3M200.36 249.80v3M46.50 96.98h-3M205.89 249.80v3M46.50 91.49h-3M210.18 249.80v3M46.50 87.23h-3M213.68 249.80v3M46.50 83.75h-3M216.65 249.80v3M46.50 80.81h-3M219.21 249.80v3M46.50 78.26h-3M221.48 249.80v3M46.50 76.01h-3M46.50 249.80v3.5M46.50 249.80h-3.5M90.75 249.80v3.5M46.50 205.85h-3.5M135.00 249.80v3.5M46.50 161.90h-3.5M179.25 249.80v3.5M46.50 117.95h-3.5M223.50 249.80v3.5M46.50 74.00h-3.5"/><text class="tl" transform="translate(38.4,261.8) scale(0.78,1)">10<tspan class="sup" dx="1.3" dy="-3.2">0</tspan></text><text class="tl" transform="translate(41.8,258.3) rotate(-90) scale(0.78,1)">10<tspan class="sup" dx="1.3" dy="-3.2">0</tspan></text><text class="tl" transform="translate(82.7,261.8) scale(0.78,1)">10<tspan class="sup" dx="1.3" dy="-3.2">1</tspan></text><text class="tl" transform="translate(41.8,214.4) rotate(-90) scale(0.78,1)">10<tspan class="sup" dx="1.3" dy="-3.2">1</tspan></text><text class="tl" transform="translate(126.9,261.8) scale(0.78,1)">10<tspan class="sup" dx="1.3" dy="-3.2">2</tspan></text><text class="tl" transform="translate(41.8,170.4) rotate(-90) scale(0.78,1)">10<tspan class="sup" dx="1.3" dy="-3.2">2</tspan></text><text class="tl" transform="translate(171.2,261.8) scale(0.78,1)">10<tspan class="sup" dx="1.3" dy="-3.2">3</tspan></text><text class="tl" transform="translate(41.8,126.4) rotate(-90) scale(0.78,1)">10<tspan class="sup" dx="1.3" dy="-3.2">3</tspan></text><text class="tl" transform="translate(215.4,261.8) scale(0.78,1)">10<tspan class="sup" dx="1.3" dy="-3.2">4</tspan></text><text class="tl" transform="translate(41.8,82.5) rotate(-90) scale(0.78,1)">10<tspan class="sup" dx="1.3" dy="-3.2">4</tspan></text><text class="pc" x="147.7" y="103.9">0.00%</text><rect x="247.0" y="73.3" width="175.00" height="175.50" fill="none" stroke="#000" stroke-width="1.8"/><path stroke="#000" stroke-width="1.5" fill="none" d="M297.5 73.3V248.8M247.0 179.3H422.0"/><path stroke="#000" stroke-width="1.3" fill="none" d="M260.17 248.80v3M247.00 235.59h-3M267.87 248.80v3M247.00 227.87h-3M273.34 248.80v3M247.00 222.38h-3M277.58 248.80v3M247.00 218.13h-3M281.04 248.80v3M247.00 214.66h-3M283.97 248.80v3M247.00 211.72h-3M286.51 248.80v3M247.00 209.18h-3M288.75 248.80v3M247.00 206.93h-3M303.92 248.80v3M247.00 191.72h-3M311.62 248.80v3M247.00 183.99h-3M317.09 248.80v3M247.00 178.51h-3M321.33 248.80v3M247.00 174.26h-3M324.79 248.80v3M247.00 170.78h-3M327.72 248.80v3M247.00 167.85h-3M330.26 248.80v3M247.00 165.30h-3M332.50 248.80v3M247.00 163.06h-3M347.67 248.80v3M247.00 147.84h-3M355.37 248.80v3M247.00 140.12h-3M360.84 248.80v3M247.00 134.63h-3M365.08 248.80v3M247.00 130.38h-3M368.54 248.80v3M247.00 126.91h-3M371.47 248.80v3M247.00 123.97h-3M374.01 248.80v3M247.00 121.43h-3M376.25 248.80v3M247.00 119.18h-3M391.42 248.80v3M247.00 103.97h-3M399.12 248.80v3M247.00 96.24h-3M404.59 248.80v3M247.00 90.76h-3M408.83 248.80v3M247.00 86.51h-3M412.29 248.80v3M247.00 83.03h-3M415.22 248.80v3M247.00 80.10h-3M417.76 248.80v3M247.00 77.55h-3M420.00 248.80v3M247.00 75.31h-3M247.00 248.80v3.5M247.00 248.80h-3.5M290.75 248.80v3.5M247.00 204.93h-3.5M334.50 248.80v3.5M247.00 161.05h-3.5M378.25 248.80v3.5M247.00 117.18h-3.5M422.00 248.80v3.5M247.00 73.30h-3.5"/><text class="tl" transform="translate(238.9,260.8) scale(0.78,1)">10<tspan class="sup" dx="1.3" dy="-3.2">0</tspan></text><text class="tl" transform="translate(242.3,257.3) rotate(-90) scale(0.78,1)">10<tspan class="sup" dx="1.3" dy="-3.2">0</tspan></text><text class="tl" transform="translate(282.6,260.8) scale(0.78,1)">10<tspan class="sup" dx="1.3" dy="-3.2">1</tspan></text><text class="tl" transform="translate(242.3,213.4) rotate(-90) scale(0.78,1)">10<tspan class="sup" dx="1.3" dy="-3.2">1</tspan></text><text class="tl" transform="translate(326.4,260.8) scale(0.78,1)">10<tspan class="sup" dx="1.3" dy="-3.2">2</tspan></text><text class="tl" transform="translate(242.3,169.6) rotate(-90) scale(0.78,1)">10<tspan class="sup" dx="1.3" dy="-3.2">2</tspan></text><text class="tl" transform="translate(370.1,260.8) scale(0.78,1)">10<tspan class="sup" dx="1.3" dy="-3.2">3</tspan></text><text class="tl" transform="translate(242.3,125.7) rotate(-90) scale(0.78,1)">10<tspan class="sup" dx="1.3" dy="-3.2">3</tspan></text><text class="tl" transform="translate(413.9,260.8) scale(0.78,1)">10<tspan class="sup" dx="1.3" dy="-3.2">4</tspan></text><text class="tl" transform="translate(242.3,81.8) rotate(-90) scale(0.78,1)">10<tspan class="sup" dx="1.3" dy="-3.2">4</tspan></text><text class="pc" x="352.1" y="103.9">0.04%</text><rect x="46.0" y="278.3" width="176.00" height="175.00" fill="none" stroke="#000" stroke-width="1.8"/><path stroke="#000" stroke-width="1.5" fill="none" d="M96.8 278.3V453.3M46.0 384.0H222.0"/><path stroke="#000" stroke-width="1.3" fill="none" d="M59.25 453.30v3M46.00 440.13h-3M66.99 453.30v3M46.00 432.43h-3M72.49 453.30v3M46.00 426.96h-3M76.75 453.30v3M46.00 422.72h-3M80.24 453.30v3M46.00 419.26h-3M83.18 453.30v3M46.00 416.33h-3M85.74 453.30v3M46.00 413.79h-3M87.99 453.30v3M46.00 411.55h-3M103.25 453.30v3M46.00 396.38h-3M110.99 453.30v3M46.00 388.68h-3M116.49 453.30v3M46.00 383.21h-3M120.75 453.30v3M46.00 378.97h-3M124.24 453.30v3M46.00 375.51h-3M127.18 453.30v3M46.00 372.58h-3M129.74 453.30v3M46.00 370.04h-3M131.99 453.30v3M46.00 367.80h-3M147.25 453.30v3M46.00 352.63h-3M154.99 453.30v3M46.00 344.93h-3M160.49 453.30v3M46.00 339.46h-3M164.75 453.30v3M46.00 335.22h-3M168.24 453.30v3M46.00 331.76h-3M171.18 453.30v3M46.00 328.83h-3M173.74 453.30v3M46.00 326.29h-3M175.99 453.30v3M46.00 324.05h-3M191.25 453.30v3M46.00 308.88h-3M198.99 453.30v3M46.00 301.18h-3M204.49 453.30v3M46.00 295.71h-3M208.75 453.30v3M46.00 291.47h-3M212.24 453.30v3M46.00 288.01h-3M215.18 453.30v3M46.00 285.08h-3M217.74 453.30v3M46.00 282.54h-3M219.99 453.30v3M46.00 280.30h-3M46.00 453.30v3.5M46.00 453.30h-3.5M90.00 453.30v3.5M46.00 409.55h-3.5M134.00 453.30v3.5M46.00 365.80h-3.5M178.00 453.30v3.5M46.00 322.05h-3.5M222.00 453.30v3.5M46.00 278.30h-3.5"/><text class="tl" transform="translate(37.9,465.3) scale(0.78,1)">10<tspan class="sup" dx="1.3" dy="-3.2">0</tspan></text><text class="tl" transform="translate(41.3,461.8) rotate(-90) scale(0.78,1)">10<tspan class="sup" dx="1.3" dy="-3.2">0</tspan></text><text class="tl" transform="translate(81.9,465.3) scale(0.78,1)">10<tspan class="sup" dx="1.3" dy="-3.2">1</tspan></text><text class="tl" transform="translate(41.3,418.1) rotate(-90) scale(0.78,1)">10<tspan class="sup" dx="1.3" dy="-3.2">1</tspan></text><text class="tl" transform="translate(125.9,465.3) scale(0.78,1)">10<tspan class="sup" dx="1.3" dy="-3.2">2</tspan></text><text class="tl" transform="translate(41.3,374.3) rotate(-90) scale(0.78,1)">10<tspan class="sup" dx="1.3" dy="-3.2">2</tspan></text><text class="tl" transform="translate(169.9,465.3) scale(0.78,1)">10<tspan class="sup" dx="1.3" dy="-3.2">3</tspan></text><text class="tl" transform="translate(41.3,330.6) rotate(-90) scale(0.78,1)">10<tspan class="sup" dx="1.3" dy="-3.2">3</tspan></text><text class="tl" transform="translate(213.9,465.3) scale(0.78,1)">10<tspan class="sup" dx="1.3" dy="-3.2">4</tspan></text><text class="tl" transform="translate(41.3,286.8) rotate(-90) scale(0.78,1)">10<tspan class="sup" dx="1.3" dy="-3.2">4</tspan></text><text class="pc" x="148.2" y="308.2">0.01%</text><rect x="247.5" y="278.8" width="176.20" height="175.70" fill="none" stroke="#000" stroke-width="1.8"/><path stroke="#000" stroke-width="1.5" fill="none" d="M298.2 278.8V454.5M247.5 384.8H423.7"/><path stroke="#000" stroke-width="1.3" fill="none" d="M260.76 454.50v3M247.50 441.28h-3M268.52 454.50v3M247.50 433.54h-3M274.02 454.50v3M247.50 428.05h-3M278.29 454.50v3M247.50 423.80h-3M281.78 454.50v3M247.50 420.32h-3M284.73 454.50v3M247.50 417.38h-3M287.28 454.50v3M247.50 414.83h-3M289.53 454.50v3M247.50 412.58h-3M304.81 454.50v3M247.50 397.35h-3M312.57 454.50v3M247.50 389.62h-3M318.07 454.50v3M247.50 384.13h-3M322.34 454.50v3M247.50 379.87h-3M325.83 454.50v3M247.50 376.39h-3M328.78 454.50v3M247.50 373.45h-3M331.33 454.50v3M247.50 370.91h-3M333.58 454.50v3M247.50 368.66h-3M348.86 454.50v3M247.50 353.43h-3M356.62 454.50v3M247.50 345.69h-3M362.12 454.50v3M247.50 340.20h-3M366.39 454.50v3M247.50 335.95h-3M369.88 454.50v3M247.50 332.47h-3M372.83 454.50v3M247.50 329.53h-3M375.38 454.50v3M247.50 326.98h-3M377.63 454.50v3M247.50 324.73h-3M392.91 454.50v3M247.50 309.50h-3M400.67 454.50v3M247.50 301.77h-3M406.17 454.50v3M247.50 296.28h-3M410.44 454.50v3M247.50 292.02h-3M413.93 454.50v3M247.50 288.54h-3M416.88 454.50v3M247.50 285.60h-3M419.43 454.50v3M247.50 283.06h-3M421.68 454.50v3M247.50 280.81h-3M247.50 454.50v3.5M247.50 454.50h-3.5M291.55 454.50v3.5M247.50 410.57h-3.5M335.60 454.50v3.5M247.50 366.65h-3.5M379.65 454.50v3.5M247.50 322.73h-3.5M423.70 454.50v3.5M247.50 278.80h-3.5"/><text class="tl" transform="translate(239.4,466.5) scale(0.78,1)">10<tspan class="sup" dx="1.3" dy="-3.2">0</tspan></text><text class="tl" transform="translate(242.8,463.0) rotate(-90) scale(0.78,1)">10<tspan class="sup" dx="1.3" dy="-3.2">0</tspan></text><text class="tl" transform="translate(283.4,466.5) scale(0.78,1)">10<tspan class="sup" dx="1.3" dy="-3.2">1</tspan></text><text class="tl" transform="translate(242.8,419.1) rotate(-90) scale(0.78,1)">10<tspan class="sup" dx="1.3" dy="-3.2">1</tspan></text><text class="tl" transform="translate(327.5,466.5) scale(0.78,1)">10<tspan class="sup" dx="1.3" dy="-3.2">2</tspan></text><text class="tl" transform="translate(242.8,375.1) rotate(-90) scale(0.78,1)">10<tspan class="sup" dx="1.3" dy="-3.2">2</tspan></text><text class="tl" transform="translate(371.5,466.5) scale(0.78,1)">10<tspan class="sup" dx="1.3" dy="-3.2">3</tspan></text><text class="tl" transform="translate(242.8,331.2) rotate(-90) scale(0.78,1)">10<tspan class="sup" dx="1.3" dy="-3.2">3</tspan></text><text class="tl" transform="translate(415.6,466.5) scale(0.78,1)">10<tspan class="sup" dx="1.3" dy="-3.2">4</tspan></text><text class="tl" transform="translate(242.8,287.3) rotate(-90) scale(0.78,1)">10<tspan class="sup" dx="1.3" dy="-3.2">4</tspan></text><text class="pc" x="352.1" y="308.2">0.06%</text><rect x="44.0" y="482.5" width="175.50" height="175.50" fill="none" stroke="#000" stroke-width="1.8"/><path stroke="#000" stroke-width="1.5" fill="none" d="M90.7 482.5V658.0M44.0 602.5H219.5"/><path stroke="#000" stroke-width="1.3" fill="none" d="M57.21 658.00v3M44.00 644.79h-3M64.93 658.00v3M44.00 637.07h-3M70.42 658.00v3M44.00 631.58h-3M74.67 658.00v3M44.00 627.33h-3M78.14 658.00v3M44.00 623.86h-3M81.08 658.00v3M44.00 620.92h-3M83.62 658.00v3M44.00 618.38h-3M85.87 658.00v3M44.00 616.13h-3M101.08 658.00v3M44.00 600.92h-3M108.81 658.00v3M44.00 593.19h-3M114.29 658.00v3M44.00 587.71h-3M118.54 658.00v3M44.00 583.46h-3M122.02 658.00v3M44.00 579.98h-3M124.95 658.00v3M44.00 577.05h-3M127.50 658.00v3M44.00 574.50h-3M129.74 658.00v3M44.00 572.26h-3M144.96 658.00v3M44.00 557.04h-3M152.68 658.00v3M44.00 549.32h-3M158.17 658.00v3M44.00 543.83h-3M162.42 658.00v3M44.00 539.58h-3M165.89 658.00v3M44.00 536.11h-3M168.83 658.00v3M44.00 533.17h-3M171.37 658.00v3M44.00 530.63h-3M173.62 658.00v3M44.00 528.38h-3M188.83 658.00v3M44.00 513.17h-3M196.56 658.00v3M44.00 505.44h-3M202.04 658.00v3M44.00 499.96h-3M206.29 658.00v3M44.00 495.71h-3M209.77 658.00v3M44.00 492.23h-3M212.70 658.00v3M44.00 489.30h-3M215.25 658.00v3M44.00 486.75h-3M217.49 658.00v3M44.00 484.51h-3M44.00 658.00v3.5M44.00 658.00h-3.5M87.88 658.00v3.5M44.00 614.12h-3.5M131.75 658.00v3.5M44.00 570.25h-3.5M175.62 658.00v3.5M44.00 526.38h-3.5M219.50 658.00v3.5M44.00 482.50h-3.5"/><text class="tl" transform="translate(35.9,670.0) scale(0.78,1)">10<tspan class="sup" dx="1.3" dy="-3.2">0</tspan></text><text class="tl" transform="translate(39.3,666.5) rotate(-90) scale(0.78,1)">10<tspan class="sup" dx="1.3" dy="-3.2">0</tspan></text><text class="tl" transform="translate(79.8,670.0) scale(0.78,1)">10<tspan class="sup" dx="1.3" dy="-3.2">1</tspan></text><text class="tl" transform="translate(39.3,622.6) rotate(-90) scale(0.78,1)">10<tspan class="sup" dx="1.3" dy="-3.2">1</tspan></text><text class="tl" transform="translate(123.7,670.0) scale(0.78,1)">10<tspan class="sup" dx="1.3" dy="-3.2">2</tspan></text><text class="tl" transform="translate(39.3,578.8) rotate(-90) scale(0.78,1)">10<tspan class="sup" dx="1.3" dy="-3.2">2</tspan></text><text class="tl" transform="translate(167.5,670.0) scale(0.78,1)">10<tspan class="sup" dx="1.3" dy="-3.2">3</tspan></text><text class="tl" transform="translate(39.3,534.9) rotate(-90) scale(0.78,1)">10<tspan class="sup" dx="1.3" dy="-3.2">3</tspan></text><text class="tl" transform="translate(211.4,670.0) scale(0.78,1)">10<tspan class="sup" dx="1.3" dy="-3.2">4</tspan></text><text class="tl" transform="translate(39.3,491.0) rotate(-90) scale(0.78,1)">10<tspan class="sup" dx="1.3" dy="-3.2">4</tspan></text><text class="pc" x="151.6" y="512.4">0.01%</text><rect x="251.2" y="482.8" width="175.00" height="175.70" fill="none" stroke="#000" stroke-width="1.8"/><path stroke="#000" stroke-width="1.5" fill="none" d="M298.0 482.8V658.5M251.2 603.8H426.2"/><path stroke="#000" stroke-width="1.3" fill="none" d="M264.37 658.50v3M251.20 645.28h-3M272.07 658.50v3M251.20 637.54h-3M277.54 658.50v3M251.20 632.05h-3M281.78 658.50v3M251.20 627.80h-3M285.24 658.50v3M251.20 624.32h-3M288.17 658.50v3M251.20 621.38h-3M290.71 658.50v3M251.20 618.83h-3M292.95 658.50v3M251.20 616.58h-3M308.12 658.50v3M251.20 601.35h-3M315.82 658.50v3M251.20 593.62h-3M321.29 658.50v3M251.20 588.13h-3M325.53 658.50v3M251.20 583.87h-3M328.99 658.50v3M251.20 580.39h-3M331.92 658.50v3M251.20 577.45h-3M334.46 658.50v3M251.20 574.91h-3M336.70 658.50v3M251.20 572.66h-3M351.87 658.50v3M251.20 557.43h-3M359.57 658.50v3M251.20 549.69h-3M365.04 658.50v3M251.20 544.20h-3M369.28 658.50v3M251.20 539.95h-3M372.74 658.50v3M251.20 536.47h-3M375.67 658.50v3M251.20 533.53h-3M378.21 658.50v3M251.20 530.98h-3M380.45 658.50v3M251.20 528.73h-3M395.62 658.50v3M251.20 513.50h-3M403.32 658.50v3M251.20 505.77h-3M408.79 658.50v3M251.20 500.28h-3M413.03 658.50v3M251.20 496.02h-3M416.49 658.50v3M251.20 492.54h-3M419.42 658.50v3M251.20 489.60h-3M421.96 658.50v3M251.20 487.06h-3M424.20 658.50v3M251.20 484.81h-3M251.20 658.50v3.5M251.20 658.50h-3.5M294.95 658.50v3.5M251.20 614.58h-3.5M338.70 658.50v3.5M251.20 570.65h-3.5M382.45 658.50v3.5M251.20 526.73h-3.5M426.20 658.50v3.5M251.20 482.80h-3.5"/><text class="tl" transform="translate(243.1,670.5) scale(0.78,1)">10<tspan class="sup" dx="1.3" dy="-3.2">0</tspan></text><text class="tl" transform="translate(246.5,667.0) rotate(-90) scale(0.78,1)">10<tspan class="sup" dx="1.3" dy="-3.2">0</tspan></text><text class="tl" transform="translate(286.8,670.5) scale(0.78,1)">10<tspan class="sup" dx="1.3" dy="-3.2">1</tspan></text><text class="tl" transform="translate(246.5,623.1) rotate(-90) scale(0.78,1)">10<tspan class="sup" dx="1.3" dy="-3.2">1</tspan></text><text class="tl" transform="translate(330.6,670.5) scale(0.78,1)">10<tspan class="sup" dx="1.3" dy="-3.2">2</tspan></text><text class="tl" transform="translate(246.5,579.1) rotate(-90) scale(0.78,1)">10<tspan class="sup" dx="1.3" dy="-3.2">2</tspan></text><text class="tl" transform="translate(374.3,670.5) scale(0.78,1)">10<tspan class="sup" dx="1.3" dy="-3.2">3</tspan></text><text class="tl" transform="translate(246.5,535.2) rotate(-90) scale(0.78,1)">10<tspan class="sup" dx="1.3" dy="-3.2">3</tspan></text><text class="tl" transform="translate(418.1,670.5) scale(0.78,1)">10<tspan class="sup" dx="1.3" dy="-3.2">4</tspan></text><text class="tl" transform="translate(246.5,491.3) rotate(-90) scale(0.78,1)">10<tspan class="sup" dx="1.3" dy="-3.2">4</tspan></text><text class="pc" x="356.3" y="513.1">0.08%</text><rect x="46.9" y="684.5" width="176.10" height="175.00" fill="none" stroke="#000" stroke-width="1.8"/><path stroke="#000" stroke-width="1.5" fill="none" d="M95.2 684.5V859.5M46.9 804.0H223.0"/><path stroke="#000" stroke-width="1.3" fill="none" d="M60.15 859.50v3M46.90 846.33h-3M67.91 859.50v3M46.90 838.63h-3M73.41 859.50v3M46.90 833.16h-3M77.67 859.50v3M46.90 828.92h-3M81.16 859.50v3M46.90 825.46h-3M84.11 859.50v3M46.90 822.53h-3M86.66 859.50v3M46.90 819.99h-3M88.91 859.50v3M46.90 817.75h-3M104.18 859.50v3M46.90 802.58h-3M111.93 859.50v3M46.90 794.88h-3M117.43 859.50v3M46.90 789.41h-3M121.70 859.50v3M46.90 785.17h-3M125.18 859.50v3M46.90 781.71h-3M128.13 859.50v3M46.90 778.78h-3M130.68 859.50v3M46.90 776.24h-3M132.94 859.50v3M46.90 774.00h-3M148.20 859.50v3M46.90 758.83h-3M155.96 859.50v3M46.90 751.13h-3M161.46 859.50v3M46.90 745.66h-3M165.72 859.50v3M46.90 741.42h-3M169.21 859.50v3M46.90 737.96h-3M172.16 859.50v3M46.90 735.03h-3M174.71 859.50v3M46.90 732.49h-3M176.96 859.50v3M46.90 730.25h-3M192.23 859.50v3M46.90 715.08h-3M199.98 859.50v3M46.90 707.38h-3M205.48 859.50v3M46.90 701.91h-3M209.75 859.50v3M46.90 697.67h-3M213.23 859.50v3M46.90 694.21h-3M216.18 859.50v3M46.90 691.28h-3M218.73 859.50v3M46.90 688.74h-3M220.99 859.50v3M46.90 686.50h-3M46.90 859.50v3.5M46.90 859.50h-3.5M90.92 859.50v3.5M46.90 815.75h-3.5M134.95 859.50v3.5M46.90 772.00h-3.5M178.97 859.50v3.5M46.90 728.25h-3.5M223.00 859.50v3.5M46.90 684.50h-3.5"/><text class="tl" transform="translate(38.8,871.5) scale(0.78,1)">10<tspan class="sup" dx="1.3" dy="-3.2">0</tspan></text><text class="tl" transform="translate(42.2,868.0) rotate(-90) scale(0.78,1)">10<tspan class="sup" dx="1.3" dy="-3.2">0</tspan></text><text class="tl" transform="translate(82.8,871.5) scale(0.78,1)">10<tspan class="sup" dx="1.3" dy="-3.2">1</tspan></text><text class="tl" transform="translate(42.2,824.2) rotate(-90) scale(0.78,1)">10<tspan class="sup" dx="1.3" dy="-3.2">1</tspan></text><text class="tl" transform="translate(126.8,871.5) scale(0.78,1)">10<tspan class="sup" dx="1.3" dy="-3.2">2</tspan></text><text class="tl" transform="translate(42.2,780.5) rotate(-90) scale(0.78,1)">10<tspan class="sup" dx="1.3" dy="-3.2">2</tspan></text><text class="tl" transform="translate(170.9,871.5) scale(0.78,1)">10<tspan class="sup" dx="1.3" dy="-3.2">3</tspan></text><text class="tl" transform="translate(42.2,736.8) rotate(-90) scale(0.78,1)">10<tspan class="sup" dx="1.3" dy="-3.2">3</tspan></text><text class="tl" transform="translate(214.9,871.5) scale(0.78,1)">10<tspan class="sup" dx="1.3" dy="-3.2">4</tspan></text><text class="tl" transform="translate(42.2,693.0) rotate(-90) scale(0.78,1)">10<tspan class="sup" dx="1.3" dy="-3.2">4</tspan></text><text class="pc" x="152.0" y="714.7">0.02%</text><rect x="252.4" y="683.6" width="175.80" height="175.70" fill="none" stroke="#000" stroke-width="1.8"/><path stroke="#000" stroke-width="1.5" fill="none" d="M293.8 683.6V859.3M252.4 807.0H428.2"/><path stroke="#000" stroke-width="1.3" fill="none" d="M265.63 859.30v3M252.40 846.08h-3M273.37 859.30v3M252.40 838.34h-3M278.86 859.30v3M252.40 832.85h-3M283.12 859.30v3M252.40 828.60h-3M286.60 859.30v3M252.40 825.12h-3M289.54 859.30v3M252.40 822.18h-3M292.09 859.30v3M252.40 819.63h-3M294.34 859.30v3M252.40 817.38h-3M309.58 859.30v3M252.40 802.15h-3M317.32 859.30v3M252.40 794.42h-3M322.81 859.30v3M252.40 788.93h-3M327.07 859.30v3M252.40 784.67h-3M330.55 859.30v3M252.40 781.19h-3M333.49 859.30v3M252.40 778.25h-3M336.04 859.30v3M252.40 775.71h-3M338.29 859.30v3M252.40 773.46h-3M353.53 859.30v3M252.40 758.23h-3M361.27 859.30v3M252.40 750.49h-3M366.76 859.30v3M252.40 745.00h-3M371.02 859.30v3M252.40 740.75h-3M374.50 859.30v3M252.40 737.27h-3M377.44 859.30v3M252.40 734.33h-3M379.99 859.30v3M252.40 731.78h-3M382.24 859.30v3M252.40 729.53h-3M397.48 859.30v3M252.40 714.30h-3M405.22 859.30v3M252.40 706.57h-3M410.71 859.30v3M252.40 701.08h-3M414.97 859.30v3M252.40 696.82h-3M418.45 859.30v3M252.40 693.34h-3M421.39 859.30v3M252.40 690.40h-3M423.94 859.30v3M252.40 687.86h-3M426.19 859.30v3M252.40 685.61h-3M252.40 859.30v3.5M252.40 859.30h-3.5M296.35 859.30v3.5M252.40 815.38h-3.5M340.30 859.30v3.5M252.40 771.45h-3.5M384.25 859.30v3.5M252.40 727.52h-3.5M428.20 859.30v3.5M252.40 683.60h-3.5"/><text class="tl" transform="translate(244.3,871.3) scale(0.78,1)">10<tspan class="sup" dx="1.3" dy="-3.2">0</tspan></text><text class="tl" transform="translate(247.7,867.8) rotate(-90) scale(0.78,1)">10<tspan class="sup" dx="1.3" dy="-3.2">0</tspan></text><text class="tl" transform="translate(288.2,871.3) scale(0.78,1)">10<tspan class="sup" dx="1.3" dy="-3.2">1</tspan></text><text class="tl" transform="translate(247.7,823.9) rotate(-90) scale(0.78,1)">10<tspan class="sup" dx="1.3" dy="-3.2">1</tspan></text><text class="tl" transform="translate(332.2,871.3) scale(0.78,1)">10<tspan class="sup" dx="1.3" dy="-3.2">2</tspan></text><text class="tl" transform="translate(247.7,780.0) rotate(-90) scale(0.78,1)">10<tspan class="sup" dx="1.3" dy="-3.2">2</tspan></text><text class="tl" transform="translate(376.1,871.3) scale(0.78,1)">10<tspan class="sup" dx="1.3" dy="-3.2">3</tspan></text><text class="tl" transform="translate(247.7,736.0) rotate(-90) scale(0.78,1)">10<tspan class="sup" dx="1.3" dy="-3.2">3</tspan></text><text class="tl" transform="translate(420.1,871.3) scale(0.78,1)">10<tspan class="sup" dx="1.3" dy="-3.2">4</tspan></text><text class="tl" transform="translate(247.7,692.1) rotate(-90) scale(0.78,1)">10<tspan class="sup" dx="1.3" dy="-3.2">4</tspan></text><text class="pc" x="356.3" y="710.1">0.14%</text><rect x="50.9" y="884.3" width="175.30" height="175.70" fill="none" stroke="#000" stroke-width="1.8"/><path stroke="#000" stroke-width="1.5" fill="none" d="M105.6 884.3V1060.0M50.9 990.8H226.2"/><path stroke="#000" stroke-width="1.3" fill="none" d="M64.09 1060.00v3M50.90 1046.78h-3M71.81 1060.00v3M50.90 1039.04h-3M77.29 1060.00v3M50.90 1033.55h-3M81.53 1060.00v3M50.90 1029.30h-3M85.00 1060.00v3M50.90 1025.82h-3M87.94 1060.00v3M50.90 1022.88h-3M90.48 1060.00v3M50.90 1020.33h-3M92.72 1060.00v3M50.90 1018.08h-3M107.92 1060.00v3M50.90 1002.85h-3M115.63 1060.00v3M50.90 995.12h-3M121.11 1060.00v3M50.90 989.63h-3M125.36 1060.00v3M50.90 985.37h-3M128.83 1060.00v3M50.90 981.89h-3M131.76 1060.00v3M50.90 978.95h-3M134.30 1060.00v3M50.90 976.41h-3M136.54 1060.00v3M50.90 974.16h-3M151.74 1060.00v3M50.90 958.93h-3M159.46 1060.00v3M50.90 951.19h-3M164.94 1060.00v3M50.90 945.70h-3M169.18 1060.00v3M50.90 941.45h-3M172.65 1060.00v3M50.90 937.97h-3M175.59 1060.00v3M50.90 935.03h-3M178.13 1060.00v3M50.90 932.48h-3M180.37 1060.00v3M50.90 930.23h-3M195.57 1060.00v3M50.90 915.00h-3M203.28 1060.00v3M50.90 907.27h-3M208.76 1060.00v3M50.90 901.78h-3M213.01 1060.00v3M50.90 897.52h-3M216.48 1060.00v3M50.90 894.04h-3M219.41 1060.00v3M50.90 891.10h-3M221.95 1060.00v3M50.90 888.56h-3M224.19 1060.00v3M50.90 886.31h-3M50.90 1060.00v3.5M50.90 1060.00h-3.5M94.72 1060.00v3.5M50.90 1016.08h-3.5M138.55 1060.00v3.5M50.90 972.15h-3.5M182.38 1060.00v3.5M50.90 928.22h-3.5M226.20 1060.00v3.5M50.90 884.30h-3.5"/><text class="tl" transform="translate(42.8,1072.0) scale(0.78,1)">10<tspan class="sup" dx="1.3" dy="-3.2">0</tspan></text><text class="tl" transform="translate(46.2,1068.5) rotate(-90) scale(0.78,1)">10<tspan class="sup" dx="1.3" dy="-3.2">0</tspan></text><text class="tl" transform="translate(86.6,1072.0) scale(0.78,1)">10<tspan class="sup" dx="1.3" dy="-3.2">1</tspan></text><text class="tl" transform="translate(46.2,1024.6) rotate(-90) scale(0.78,1)">10<tspan class="sup" dx="1.3" dy="-3.2">1</tspan></text><text class="tl" transform="translate(130.4,1072.0) scale(0.78,1)">10<tspan class="sup" dx="1.3" dy="-3.2">2</tspan></text><text class="tl" transform="translate(46.2,980.6) rotate(-90) scale(0.78,1)">10<tspan class="sup" dx="1.3" dy="-3.2">2</tspan></text><text class="tl" transform="translate(174.3,1072.0) scale(0.78,1)">10<tspan class="sup" dx="1.3" dy="-3.2">3</tspan></text><text class="tl" transform="translate(46.2,936.7) rotate(-90) scale(0.78,1)">10<tspan class="sup" dx="1.3" dy="-3.2">3</tspan></text><text class="tl" transform="translate(218.1,1072.0) scale(0.78,1)">10<tspan class="sup" dx="1.3" dy="-3.2">4</tspan></text><text class="tl" transform="translate(46.2,892.8) rotate(-90) scale(0.78,1)">10<tspan class="sup" dx="1.3" dy="-3.2">4</tspan></text><text class="pc" x="151.4" y="918.5">0.03%</text><rect x="251.8" y="884.8" width="176.00" height="176.20" fill="none" stroke="#000" stroke-width="1.8"/><path stroke="#000" stroke-width="1.5" fill="none" d="M303.5 884.8V1061.0M251.8 995.8H427.8"/><path stroke="#000" stroke-width="1.3" fill="none" d="M265.05 1061.00v3M251.80 1047.74h-3M272.79 1061.00v3M251.80 1039.98h-3M278.29 1061.00v3M251.80 1034.48h-3M282.55 1061.00v3M251.80 1030.21h-3M286.04 1061.00v3M251.80 1026.72h-3M288.98 1061.00v3M251.80 1023.77h-3M291.54 1061.00v3M251.80 1021.22h-3M293.79 1061.00v3M251.80 1018.97h-3M309.05 1061.00v3M251.80 1003.69h-3M316.79 1061.00v3M251.80 995.93h-3M322.29 1061.00v3M251.80 990.43h-3M326.55 1061.00v3M251.80 986.16h-3M330.04 1061.00v3M251.80 982.67h-3M332.98 1061.00v3M251.80 979.72h-3M335.54 1061.00v3M251.80 977.17h-3M337.79 1061.00v3M251.80 974.92h-3M353.05 1061.00v3M251.80 959.64h-3M360.79 1061.00v3M251.80 951.88h-3M366.29 1061.00v3M251.80 946.38h-3M370.55 1061.00v3M251.80 942.11h-3M374.04 1061.00v3M251.80 938.62h-3M376.98 1061.00v3M251.80 935.67h-3M379.54 1061.00v3M251.80 933.12h-3M381.79 1061.00v3M251.80 930.87h-3M397.05 1061.00v3M251.80 915.59h-3M404.79 1061.00v3M251.80 907.83h-3M410.29 1061.00v3M251.80 902.33h-3M414.55 1061.00v3M251.80 898.06h-3M418.04 1061.00v3M251.80 894.57h-3M420.98 1061.00v3M251.80 891.62h-3M423.54 1061.00v3M251.80 889.07h-3M425.79 1061.00v3M251.80 886.82h-3M251.80 1061.00v3.5M251.80 1061.00h-3.5M295.80 1061.00v3.5M251.80 1016.95h-3.5M339.80 1061.00v3.5M251.80 972.90h-3.5M383.80 1061.00v3.5M251.80 928.85h-3.5M427.80 1061.00v3.5M251.80 884.80h-3.5"/><text class="tl" transform="translate(243.7,1073.0) scale(0.78,1)">10<tspan class="sup" dx="1.3" dy="-3.2">0</tspan></text><text class="tl" transform="translate(247.1,1069.5) rotate(-90) scale(0.78,1)">10<tspan class="sup" dx="1.3" dy="-3.2">0</tspan></text><text class="tl" transform="translate(287.7,1073.0) scale(0.78,1)">10<tspan class="sup" dx="1.3" dy="-3.2">1</tspan></text><text class="tl" transform="translate(247.1,1025.5) rotate(-90) scale(0.78,1)">10<tspan class="sup" dx="1.3" dy="-3.2">1</tspan></text><text class="tl" transform="translate(331.7,1073.0) scale(0.78,1)">10<tspan class="sup" dx="1.3" dy="-3.2">2</tspan></text><text class="tl" transform="translate(247.1,981.4) rotate(-90) scale(0.78,1)">10<tspan class="sup" dx="1.3" dy="-3.2">2</tspan></text><text class="tl" transform="translate(375.7,1073.0) scale(0.78,1)">10<tspan class="sup" dx="1.3" dy="-3.2">3</tspan></text><text class="tl" transform="translate(247.1,937.3) rotate(-90) scale(0.78,1)">10<tspan class="sup" dx="1.3" dy="-3.2">3</tspan></text><text class="tl" transform="translate(419.7,1073.0) scale(0.78,1)">10<tspan class="sup" dx="1.3" dy="-3.2">4</tspan></text><text class="tl" transform="translate(247.1,893.3) rotate(-90) scale(0.78,1)">10<tspan class="sup" dx="1.3" dy="-3.2">4</tspan></text><text class="pc" x="356.3" y="915.1">0.27%</text><text class="hd" x="57.6" y="18.6" textLength="146" lengthAdjust="spacingAndGlyphs">RYLRDQQLL</text><text class="hd" x="88.1" y="46.5" textLength="77.5" lengthAdjust="spacingAndGlyphs">(HIV-1)</text><text class="hd" x="258" y="18.6" textLength="143.5" lengthAdjust="spacingAndGlyphs">QYDPVAALF</text><text class="hd" x="294" y="46.5" textLength="70" lengthAdjust="spacingAndGlyphs">(CMV)</text><text class="big" x="440" y="165">Donor 1</text><text class="big" x="440" y="378">Donor 2</text><text class="big" x="441" y="578.8">Donor 3</text><text class="big" x="440.5" y="776.3">Donor 4</text><text class="big" x="440" y="988">Donor 5</text><path stroke="#000" stroke-width="2.2" fill="none" d="M12.3 1095.5V598M12.3 528V86M12.3 1095.5H200M269 1095.8H410"/><path fill="#000" d="M12.2 69.5L17.3 89H7.2z M428 1096.2L408 1091.2V1100.8z"/><text class="hd" style="font-size:25.8px" transform="translate(19.5,595.2) rotate(-90)" textLength="57" lengthAdjust="spacingAndGlyphs">CD69</text><text class="big" x="207" y="1103.8">IFN-<tspan font-style="italic">γ</tspan></text></svg></body></html>
